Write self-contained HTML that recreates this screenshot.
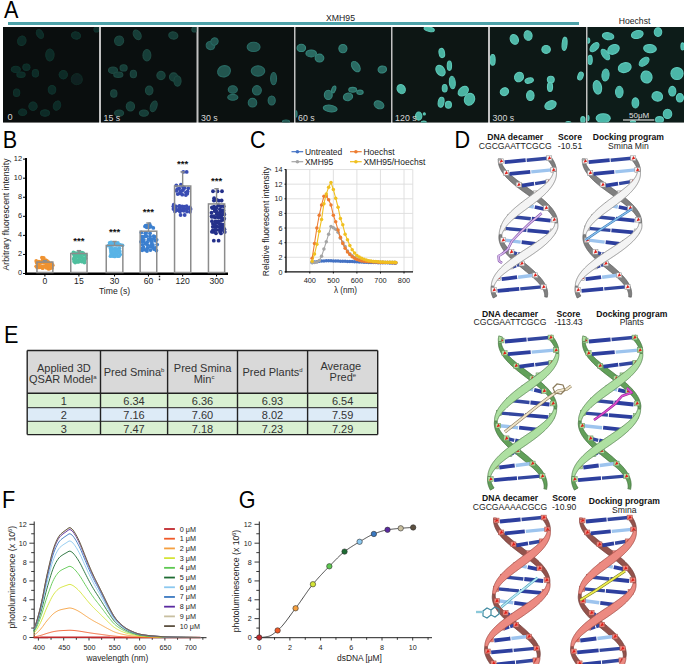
<!DOCTYPE html>
<html><head><meta charset="utf-8"><style>
html,body{margin:0;padding:0;background:#fff;}
svg{display:block;font-family:"Liberation Sans", sans-serif;}
</style></head><body>
<svg width="685" height="664" viewBox="0 0 685 664">
<rect width="685" height="664" fill="#fff"/>
<text transform="translate(4.00 17.70) scale(0.9 1)" font-size="24" fill="#000">A</text>
<rect x="8" y="22" width="571" height="3" fill="#4da2a9"/>
<text x="326.00" y="20.80" font-size="8.7" text-anchor="start" fill="#222" font-weight="normal" >XMH95</text>
<text x="618.80" y="24.40" font-size="8.6" text-anchor="start" fill="#222" font-weight="normal" >Hoechst</text>
<rect x="3" y="27" width="681" height="95.5" fill="#c2c2c2"/>
<rect x="3" y="27" width="96" height="95.5" fill="#0a0e0e"/>
<rect x="101" y="27" width="95.5" height="95.5" fill="#0a0f0f"/>
<rect x="198.5" y="27" width="95.5" height="95.5" fill="#0b1110"/>
<rect x="295.5" y="27" width="95.5" height="95.5" fill="#0c1413"/>
<rect x="392.5" y="27" width="95.5" height="95.5" fill="#0d1614"/>
<rect x="490" y="27" width="96" height="95.5" fill="#0d1816"/>
<rect x="587.5" y="27" width="96.5" height="95.5" fill="#0d1c19"/>
<defs><filter id="cb" x="-20%" y="-20%" width="140%" height="140%"><feGaussianBlur stdDeviation="0.7"/></filter>
<clipPath id="pc0"><rect x="3" y="27" width="96" height="95.5"/></clipPath>
<clipPath id="pc1"><rect x="101" y="27" width="95.5" height="95.5"/></clipPath>
<clipPath id="pc2"><rect x="198.5" y="27" width="95.5" height="95.5"/></clipPath>
<clipPath id="pc3"><rect x="295.5" y="27" width="95.5" height="95.5"/></clipPath>
<clipPath id="pc4"><rect x="392.5" y="27" width="95.5" height="95.5"/></clipPath>
<clipPath id="pc5"><rect x="490" y="27" width="96" height="95.5"/></clipPath>
<clipPath id="pc6"><rect x="587.5" y="27" width="96.5" height="95.5"/></clipPath>
</defs>
<g clip-path="url(#pc0)"><g filter="url(#cb)" fill="#0f2c27" stroke="#12322c" stroke-width="1.1">
<ellipse cx="21.8" cy="40.8" rx="4.15" ry="4.75" transform="rotate(20 21.8 40.8)" opacity="1"/>
<ellipse cx="39.9" cy="34" rx="3.15" ry="4.75" transform="rotate(-30 39.9 34)" opacity="1"/>
<ellipse cx="76" cy="35.5" rx="4.55" ry="3.55" transform="rotate(10 76 35.5)" opacity="1"/>
<ellipse cx="96.5" cy="29.5" rx="2.55" ry="2.55" transform="rotate(0 96.5 29.5)" opacity="1"/>
<ellipse cx="49.9" cy="54.9" rx="4.15" ry="5.95" transform="rotate(0 49.9 54.9)" opacity="1"/>
<ellipse cx="15.8" cy="69.4" rx="4.55" ry="3.15" transform="rotate(0 15.8 69.4)" opacity="1"/>
<ellipse cx="26.4" cy="67.2" rx="3.55" ry="3.15" transform="rotate(0 26.4 67.2)" opacity="1"/>
<ellipse cx="21" cy="74.7" rx="4.15" ry="2.65" transform="rotate(0 21 74.7)" opacity="1"/>
<ellipse cx="35.4" cy="73.2" rx="3.15" ry="3.75" transform="rotate(0 35.4 73.2)" opacity="1"/>
<ellipse cx="63.3" cy="74.7" rx="4.15" ry="4.15" transform="rotate(0 63.3 74.7)" opacity="1"/>
<ellipse cx="76.8" cy="79.2" rx="5.55" ry="5.55" transform="rotate(0 76.8 79.2)" opacity="0.7"/>
<ellipse cx="16.6" cy="92.8" rx="3.15" ry="3.75" transform="rotate(0 16.6 92.8)" opacity="1"/>
<ellipse cx="52" cy="89.8" rx="3.75" ry="4.35" transform="rotate(0 52 89.8)" opacity="1"/>
<ellipse cx="33" cy="106.3" rx="4.15" ry="4.15" transform="rotate(0 33 106.3)" opacity="1"/>
<ellipse cx="57" cy="105.6" rx="3.55" ry="4.75" transform="rotate(20 57 105.6)" opacity="1"/>
<ellipse cx="22.6" cy="112.3" rx="4.15" ry="3.15" transform="rotate(0 22.6 112.3)" opacity="1"/>
<ellipse cx="45" cy="113" rx="4.55" ry="3.15" transform="rotate(0 45 113)" opacity="1"/>
</g></g>
<g clip-path="url(#pc1)"><g filter="url(#cb)" fill="#183e37" stroke="#1d4841" stroke-width="1.1">
<ellipse cx="119.1" cy="40.8" rx="4.55" ry="4.75" transform="rotate(20 119.1 40.8)" opacity="1"/>
<ellipse cx="137.2" cy="34.8" rx="3.55" ry="5.15" transform="rotate(-30 137.2 34.8)" opacity="1"/>
<ellipse cx="173.3" cy="35.5" rx="4.55" ry="3.55" transform="rotate(10 173.3 35.5)" opacity="1"/>
<ellipse cx="194.4" cy="29.5" rx="2.55" ry="2.55" transform="rotate(0 194.4 29.5)" opacity="1"/>
<ellipse cx="146.9" cy="55.2" rx="3.95" ry="5.65" transform="rotate(0 146.9 55.2)" opacity="1"/>
<ellipse cx="113" cy="70.2" rx="4.55" ry="3.15" transform="rotate(0 113 70.2)" opacity="1"/>
<ellipse cx="123.6" cy="67.9" rx="3.55" ry="3.15" transform="rotate(0 123.6 67.9)" opacity="1"/>
<ellipse cx="118.3" cy="74.7" rx="4.55" ry="2.65" transform="rotate(0 118.3 74.7)" opacity="1"/>
<ellipse cx="133.4" cy="74" rx="3.15" ry="3.75" transform="rotate(0 133.4 74)" opacity="1"/>
<ellipse cx="161" cy="75.5" rx="4.15" ry="4.15" transform="rotate(0 161 75.5)" opacity="1"/>
<ellipse cx="173.6" cy="77" rx="4.15" ry="4.15" transform="rotate(0 173.6 77)" opacity="1"/>
<ellipse cx="177.5" cy="81" rx="3.55" ry="5.15" transform="rotate(0 177.5 81)" opacity="1"/>
<ellipse cx="113.8" cy="93.5" rx="3.15" ry="3.75" transform="rotate(0 113.8 93.5)" opacity="1"/>
<ellipse cx="149.2" cy="90.5" rx="3.75" ry="4.35" transform="rotate(0 149.2 90.5)" opacity="1"/>
<ellipse cx="130.4" cy="106.3" rx="4.15" ry="4.55" transform="rotate(0 130.4 106.3)" opacity="1"/>
<ellipse cx="153.7" cy="106.3" rx="3.15" ry="5.55" transform="rotate(20 153.7 106.3)" opacity="1"/>
<ellipse cx="119.1" cy="113.1" rx="4.55" ry="3.15" transform="rotate(0 119.1 113.1)" opacity="1"/>
<ellipse cx="143.9" cy="113.1" rx="4.55" ry="3.15" transform="rotate(0 143.9 113.1)" opacity="1"/>
</g></g>
<g clip-path="url(#pc2)"><g filter="url(#cb)" fill="#215550" stroke="#296a63" stroke-width="1.1">
<ellipse cx="210.5" cy="45.5" rx="4.35" ry="4.15" transform="rotate(30 210.5 45.5)" opacity="1"/>
<ellipse cx="214.5" cy="41.5" rx="3.55" ry="3.75" transform="rotate(30 214.5 41.5)" opacity="1"/>
<ellipse cx="253.6" cy="46.9" rx="6.45" ry="4.65" transform="rotate(0 253.6 46.9)" opacity="1"/>
<ellipse cx="224" cy="71.3" rx="6.55" ry="5.55" transform="rotate(-20 224 71.3)" opacity="1"/>
<ellipse cx="258" cy="71" rx="6.75" ry="5.15" transform="rotate(0 258 71)" opacity="1"/>
<ellipse cx="273.6" cy="78.6" rx="2.95" ry="6.15" transform="rotate(0 273.6 78.6)" opacity="1"/>
<ellipse cx="232.8" cy="89.5" rx="4.55" ry="3.75" transform="rotate(0 232.8 89.5)" opacity="1"/>
<ellipse cx="232.8" cy="97.3" rx="5.05" ry="2.95" transform="rotate(0 232.8 97.3)" opacity="1"/>
<ellipse cx="256.9" cy="90.3" rx="4.45" ry="4.65" transform="rotate(0 256.9 90.3)" opacity="1"/>
<ellipse cx="252.5" cy="102.7" rx="4.25" ry="4.35" transform="rotate(0 252.5 102.7)" opacity="1"/>
<ellipse cx="271.7" cy="100.5" rx="3.55" ry="4.45" transform="rotate(0 271.7 100.5)" opacity="1"/>
<ellipse cx="286" cy="121.5" rx="3.55" ry="1.55" transform="rotate(0 286 121.5)" opacity="1"/>
</g></g>
<g clip-path="url(#pc3)"><g filter="url(#cb)" fill="#2b6b62" stroke="#35847a" stroke-width="1.1">
<ellipse cx="301.3" cy="47.9" rx="4.25" ry="3.65" transform="rotate(0 301.3 47.9)" opacity="1"/>
<ellipse cx="311.2" cy="53.4" rx="5.25" ry="3.45" transform="rotate(0 311.2 53.4)" opacity="1"/>
<ellipse cx="319.5" cy="58.1" rx="4.35" ry="3.95" transform="rotate(0 319.5 58.1)" opacity="1"/>
<ellipse cx="342.9" cy="48.6" rx="4.05" ry="4.15" transform="rotate(0 342.9 48.6)" opacity="1"/>
<ellipse cx="355.8" cy="66.6" rx="3.55" ry="5.75" transform="rotate(-35 355.8 66.6)" opacity="1"/>
<ellipse cx="382.3" cy="69.5" rx="4.25" ry="3.45" transform="rotate(-10 382.3 69.5)" opacity="1"/>
<ellipse cx="333.7" cy="89.4" rx="1.85" ry="3.55" transform="rotate(20 333.7 89.4)" opacity="1"/>
<ellipse cx="328.3" cy="94.9" rx="3.95" ry="4.65" transform="rotate(0 328.3 94.9)" opacity="1"/>
<ellipse cx="352.7" cy="89.8" rx="3.95" ry="2.45" transform="rotate(0 352.7 89.8)" opacity="1"/>
<ellipse cx="360" cy="92.3" rx="3.15" ry="2.15" transform="rotate(0 360 92.3)" opacity="1"/>
<ellipse cx="348" cy="96.8" rx="4.65" ry="3.75" transform="rotate(-15 348 96.8)" opacity="1"/>
<ellipse cx="379" cy="104.8" rx="5.05" ry="3.75" transform="rotate(25 379 104.8)" opacity="1"/>
<ellipse cx="330.2" cy="108.5" rx="6.95" ry="3.35" transform="rotate(8 330.2 108.5)" opacity="1"/>
<ellipse cx="296" cy="113.9" rx="1.05" ry="3.05" transform="rotate(0 296 113.9)" opacity="1"/>
</g></g>
<g clip-path="url(#pc4)"><g filter="url(#cb)" fill="#4bb3a2" stroke="#5cc6b5" stroke-width="1.1">
<ellipse cx="429.2" cy="29.2" rx="5.25" ry="2.15" transform="rotate(15 429.2 29.2)" opacity="1"/>
<ellipse cx="441.8" cy="53" rx="2.75" ry="4.65" transform="rotate(-10 441.8 53)" opacity="1"/>
<ellipse cx="449.4" cy="65.7" rx="2.15" ry="4.65" transform="rotate(0 449.4 65.7)" opacity="1"/>
<ellipse cx="440.5" cy="70.6" rx="4.05" ry="5.75" transform="rotate(-35 440.5 70.6)" opacity="1"/>
<ellipse cx="452.3" cy="82.5" rx="2.95" ry="6.25" transform="rotate(-5 452.3 82.5)" opacity="1"/>
<ellipse cx="444.7" cy="88.3" rx="2.45" ry="3.75" transform="rotate(0 444.7 88.3)" opacity="1"/>
<ellipse cx="401.2" cy="89.1" rx="3.95" ry="4.65" transform="rotate(-30 401.2 89.1)" opacity="1"/>
<ellipse cx="463.3" cy="91.2" rx="5.75" ry="4.05" transform="rotate(-40 463.3 91.2)" opacity="1"/>
<ellipse cx="469.5" cy="99.3" rx="5.05" ry="6.05" transform="rotate(20 469.5 99.3)" opacity="1"/>
<ellipse cx="441.1" cy="102.2" rx="2.85" ry="5.05" transform="rotate(10 441.1 102.2)" opacity="1"/>
<ellipse cx="448.4" cy="104.8" rx="3.05" ry="3.45" transform="rotate(0 448.4 104.8)" opacity="1"/>
<ellipse cx="418.7" cy="116.1" rx="3.15" ry="4.05" transform="rotate(0 418.7 116.1)" opacity="1"/>
<ellipse cx="424.3" cy="113.9" rx="1.05" ry="1.05" transform="rotate(0 424.3 113.9)" opacity="1"/>
<ellipse cx="423.8" cy="122.5" rx="2.55" ry="1.55" transform="rotate(0 423.8 122.5)" opacity="1"/>
</g></g>
<g clip-path="url(#pc5)"><g filter="url(#cb)" fill="#50b8a8" stroke="#62ccbc" stroke-width="1.1">
<ellipse cx="514.3" cy="39.4" rx="3.95" ry="5.05" transform="rotate(-25 514.3 39.4)" opacity="1"/>
<ellipse cx="528.1" cy="35.5" rx="3.95" ry="4.85" transform="rotate(-15 528.1 35.5)" opacity="1"/>
<ellipse cx="564.6" cy="43.8" rx="2.45" ry="6.65" transform="rotate(5 564.6 43.8)" opacity="1"/>
<ellipse cx="546.1" cy="49.4" rx="4.25" ry="3.95" transform="rotate(0 546.1 49.4)" opacity="1"/>
<ellipse cx="492.7" cy="59.9" rx="2.45" ry="5.35" transform="rotate(0 492.7 59.9)" opacity="1"/>
<ellipse cx="519" cy="77" rx="4.35" ry="4.85" transform="rotate(30 519 77)" opacity="1"/>
<ellipse cx="529.2" cy="80.6" rx="4.25" ry="2.55" transform="rotate(-15 529.2 80.6)" opacity="1"/>
<ellipse cx="550.8" cy="79.6" rx="3.45" ry="3.35" transform="rotate(0 550.8 79.6)" opacity="1"/>
<ellipse cx="550" cy="86.9" rx="2.55" ry="4.55" transform="rotate(0 550 86.9)" opacity="1"/>
<ellipse cx="580.5" cy="76" rx="2.55" ry="4.05" transform="rotate(20 580.5 76)" opacity="1"/>
<ellipse cx="504.4" cy="91.7" rx="4.25" ry="3.75" transform="rotate(-30 504.4 91.7)" opacity="1"/>
<ellipse cx="530.3" cy="95.6" rx="3.75" ry="4.95" transform="rotate(0 530.3 95.6)" opacity="1"/>
<ellipse cx="550.5" cy="105.1" rx="5.95" ry="4.05" transform="rotate(-25 550.5 105.1)" opacity="1"/>
<ellipse cx="568.3" cy="122.5" rx="2.55" ry="1.05" transform="rotate(0 568.3 122.5)" opacity="1"/>
<ellipse cx="582.9" cy="119.7" rx="2.15" ry="3.05" transform="rotate(0 582.9 119.7)" opacity="1"/>
</g></g>
<g clip-path="url(#pc6)"><g filter="url(#cb)" fill="#4cb6a8" stroke="#5ecabc" stroke-width="1.1">
<ellipse cx="608.1" cy="36.2" rx="5.75" ry="3.45" transform="rotate(10 608.1 36.2)" opacity="1"/>
<ellipse cx="637.3" cy="34.5" rx="5.95" ry="3.85" transform="rotate(-15 637.3 34.5)" opacity="1"/>
<ellipse cx="658" cy="32.1" rx="3.75" ry="4.35" transform="rotate(0 658 32.1)" opacity="1"/>
<ellipse cx="588.2" cy="40.6" rx="1.55" ry="2.55" transform="rotate(0 588.2 40.6)" opacity="1"/>
<ellipse cx="594.5" cy="47.2" rx="5.55" ry="3.15" transform="rotate(-45 594.5 47.2)" opacity="1"/>
<ellipse cx="613.5" cy="49.4" rx="6.05" ry="4.55" transform="rotate(-30 613.5 49.4)" opacity="1"/>
<ellipse cx="605.4" cy="54.5" rx="6.05" ry="3.05" transform="rotate(55 605.4 54.5)" opacity="1"/>
<ellipse cx="650" cy="48.6" rx="6.35" ry="4.05" transform="rotate(5 650 48.6)" opacity="1"/>
<ellipse cx="682.5" cy="46.4" rx="1.55" ry="3.55" transform="rotate(0 682.5 46.4)" opacity="1"/>
<ellipse cx="590.1" cy="59.9" rx="2.15" ry="4.55" transform="rotate(0 590.1 59.9)" opacity="1"/>
<ellipse cx="644.1" cy="61.8" rx="5.75" ry="3.35" transform="rotate(-40 644.1 61.8)" opacity="1"/>
<ellipse cx="624.7" cy="67.6" rx="6.55" ry="4.85" transform="rotate(-15 624.7 67.6)" opacity="1"/>
<ellipse cx="677" cy="73.5" rx="6.05" ry="6.05" transform="rotate(0 677 73.5)" opacity="1"/>
<ellipse cx="605.5" cy="75" rx="3.55" ry="6.05" transform="rotate(5 605.5 75)" opacity="1"/>
<ellipse cx="646.5" cy="77" rx="5.55" ry="6.05" transform="rotate(-15 646.5 77)" opacity="1"/>
<ellipse cx="597.4" cy="87.3" rx="4.15" ry="6.85" transform="rotate(-10 597.4 87.3)" opacity="1"/>
<ellipse cx="619.3" cy="92" rx="3.75" ry="5.75" transform="rotate(0 619.3 92)" opacity="1"/>
<ellipse cx="672.3" cy="91.2" rx="3.55" ry="4.85" transform="rotate(0 672.3 91.2)" opacity="1"/>
<ellipse cx="679.9" cy="97.8" rx="3.55" ry="4.25" transform="rotate(0 679.9 97.8)" opacity="1"/>
<ellipse cx="657.3" cy="96.4" rx="5.35" ry="4.65" transform="rotate(20 657.3 96.4)" opacity="1"/>
<ellipse cx="635.4" cy="102.9" rx="3.35" ry="5.05" transform="rotate(0 635.4 102.9)" opacity="1"/>
<ellipse cx="667.5" cy="113.9" rx="4.25" ry="4.65" transform="rotate(0 667.5 113.9)" opacity="1"/>
<ellipse cx="603.2" cy="118.3" rx="7.05" ry="4.55" transform="rotate(0 603.2 118.3)" opacity="1"/>
<ellipse cx="659.5" cy="119.7" rx="3.95" ry="3.05" transform="rotate(0 659.5 119.7)" opacity="1"/>
<ellipse cx="633" cy="121.5" rx="2.55" ry="1.05" transform="rotate(0 633 121.5)" opacity="1"/>
<ellipse cx="588" cy="118" rx="1.05" ry="2.55" transform="rotate(0 588 118)" opacity="1"/>
</g></g>
<text x="7.50" y="120.30" font-size="9.2" text-anchor="start" fill="#d8d8d8" font-weight="normal" >0</text>
<text x="103.60" y="120.90" font-size="8.8" text-anchor="start" fill="#d8d8d8" font-weight="normal" >15 s</text>
<text x="201.10" y="120.90" font-size="8.8" text-anchor="start" fill="#d8d8d8" font-weight="normal" >30 s</text>
<text x="298.10" y="120.90" font-size="8.8" text-anchor="start" fill="#d8d8d8" font-weight="normal" >60 s</text>
<text x="395.10" y="120.90" font-size="8.8" text-anchor="start" fill="#d8d8d8" font-weight="normal" >120 s</text>
<text x="492.60" y="120.90" font-size="8.8" text-anchor="start" fill="#d8d8d8" font-weight="normal" >300 s</text>
<text x="639.20" y="117.50" font-size="8" text-anchor="middle" fill="#e0e0e0" font-weight="normal" >50μM</text>
<rect x="623" y="119.4" width="31.3" height="1.2" fill="#d8d8d8"/>
<text transform="translate(2.70 147.90) scale(0.9 1)" font-size="24" fill="#000">B</text>
<line x1="26" y1="158" x2="26" y2="274.8" stroke="#000" stroke-width="2"/>
<line x1="23" y1="273.50" x2="26" y2="273.50" stroke="#000" stroke-width="1"/>
<text x="22.00" y="275.10" font-size="7.4" text-anchor="end" fill="#222" font-weight="normal" >0</text>
<line x1="23" y1="254.44" x2="26" y2="254.44" stroke="#000" stroke-width="1"/>
<text x="22.00" y="256.04" font-size="7.4" text-anchor="end" fill="#222" font-weight="normal" >2</text>
<line x1="23" y1="235.38" x2="26" y2="235.38" stroke="#000" stroke-width="1"/>
<text x="22.00" y="236.98" font-size="7.4" text-anchor="end" fill="#222" font-weight="normal" >4</text>
<line x1="23" y1="216.32" x2="26" y2="216.32" stroke="#000" stroke-width="1"/>
<text x="22.00" y="217.92" font-size="7.4" text-anchor="end" fill="#222" font-weight="normal" >6</text>
<line x1="23" y1="197.26" x2="26" y2="197.26" stroke="#000" stroke-width="1"/>
<text x="22.00" y="198.86" font-size="7.4" text-anchor="end" fill="#222" font-weight="normal" >8</text>
<line x1="23" y1="178.20" x2="26" y2="178.20" stroke="#000" stroke-width="1"/>
<text x="22.00" y="179.80" font-size="7.4" text-anchor="end" fill="#222" font-weight="normal" >10</text>
<line x1="23" y1="159.14" x2="26" y2="159.14" stroke="#000" stroke-width="1"/>
<text x="22.00" y="160.74" font-size="7.4" text-anchor="end" fill="#222" font-weight="normal" >12</text>
<line x1="25" y1="273.75" x2="228" y2="273.75" stroke="#000" stroke-width="2.3"/>
<text transform="translate(8.6 214.5) rotate(-90)" font-size="8.7" text-anchor="middle" fill="#222">Arbitrary fluorescent intensity</text>
<circle cx="37.27" cy="267.64" r="1.9" fill="#ef9230"/>
<circle cx="39.69" cy="267.28" r="1.9" fill="#ef9230"/>
<circle cx="41.72" cy="267.32" r="1.9" fill="#ef9230"/>
<circle cx="42.64" cy="268.14" r="1.9" fill="#ef9230"/>
<circle cx="46.32" cy="267.81" r="1.9" fill="#ef9230"/>
<circle cx="48.37" cy="268.78" r="1.9" fill="#ef9230"/>
<circle cx="49.76" cy="268.54" r="1.9" fill="#ef9230"/>
<circle cx="52.01" cy="267.95" r="1.9" fill="#ef9230"/>
<circle cx="36.23" cy="266.33" r="1.9" fill="#ef9230"/>
<circle cx="38.81" cy="265.06" r="1.9" fill="#ef9230"/>
<circle cx="41.76" cy="266.43" r="1.9" fill="#ef9230"/>
<circle cx="43.94" cy="266.47" r="1.9" fill="#ef9230"/>
<circle cx="45.76" cy="266.49" r="1.9" fill="#ef9230"/>
<circle cx="46.84" cy="265.14" r="1.9" fill="#ef9230"/>
<circle cx="49.32" cy="266.33" r="1.9" fill="#ef9230"/>
<circle cx="52.76" cy="265.14" r="1.9" fill="#ef9230"/>
<circle cx="36.70" cy="262.72" r="1.9" fill="#ef9230"/>
<circle cx="39.25" cy="263.23" r="1.9" fill="#ef9230"/>
<circle cx="40.81" cy="262.75" r="1.9" fill="#ef9230"/>
<circle cx="43.76" cy="262.71" r="1.9" fill="#ef9230"/>
<circle cx="46.23" cy="263.92" r="1.9" fill="#ef9230"/>
<circle cx="47.45" cy="264.16" r="1.9" fill="#ef9230"/>
<circle cx="49.21" cy="264.34" r="1.9" fill="#ef9230"/>
<circle cx="51.60" cy="263.37" r="1.9" fill="#ef9230"/>
<circle cx="36.22" cy="260.97" r="1.9" fill="#ef9230"/>
<circle cx="38.91" cy="261.63" r="1.9" fill="#ef9230"/>
<circle cx="41.85" cy="261.32" r="1.9" fill="#ef9230"/>
<circle cx="43.12" cy="261.32" r="1.9" fill="#ef9230"/>
<circle cx="45.91" cy="262.09" r="1.9" fill="#ef9230"/>
<circle cx="48.50" cy="262.15" r="1.9" fill="#ef9230"/>
<circle cx="42.72" cy="259.63" r="1.9" fill="#ef9230"/>
<circle cx="43.45" cy="259.72" r="1.9" fill="#ef9230"/>
<circle cx="45.69" cy="260.04" r="1.9" fill="#ef9230"/>
<circle cx="46.94" cy="260.85" r="1.9" fill="#ef9230"/>
<circle cx="41.93" cy="257.56" r="1.9" fill="#ef9230"/>
<circle cx="43.70" cy="257.86" r="1.9" fill="#ef9230"/>
<rect x="36.95" y="262.06" width="15.899999999999999" height="10.44" fill="none" stroke="#8c8c8c" stroke-width="1.5"/>
<line x1="44.900000000000006" y1="262.06" x2="44.900000000000006" y2="260.63" stroke="#8c8c8c" stroke-width="1.4"/>
<line x1="42.7" y1="260.63" x2="47.10000000000001" y2="260.63" stroke="#8c8c8c" stroke-width="1.4"/>
<text x="44.90" y="284.00" font-size="8.6" text-anchor="middle" fill="#222" font-weight="normal" >0</text>
<line x1="44.900000000000006" y1="274.5" x2="44.900000000000006" y2="276.5" stroke="#000" stroke-width="1"/>
<circle cx="74.13" cy="261.46" r="1.9" fill="#4fbf9e"/>
<circle cx="75.15" cy="262.58" r="1.9" fill="#4fbf9e"/>
<circle cx="77.36" cy="261.78" r="1.9" fill="#4fbf9e"/>
<circle cx="78.65" cy="261.83" r="1.9" fill="#4fbf9e"/>
<circle cx="81.64" cy="261.62" r="1.9" fill="#4fbf9e"/>
<circle cx="82.39" cy="261.45" r="1.9" fill="#4fbf9e"/>
<circle cx="84.40" cy="262.61" r="1.9" fill="#4fbf9e"/>
<circle cx="73.64" cy="259.12" r="1.9" fill="#4fbf9e"/>
<circle cx="75.15" cy="259.11" r="1.9" fill="#4fbf9e"/>
<circle cx="77.39" cy="260.28" r="1.9" fill="#4fbf9e"/>
<circle cx="78.97" cy="260.53" r="1.9" fill="#4fbf9e"/>
<circle cx="80.53" cy="260.59" r="1.9" fill="#4fbf9e"/>
<circle cx="83.40" cy="258.97" r="1.9" fill="#4fbf9e"/>
<circle cx="84.51" cy="260.78" r="1.9" fill="#4fbf9e"/>
<circle cx="74.22" cy="257.47" r="1.9" fill="#4fbf9e"/>
<circle cx="75.25" cy="258.04" r="1.9" fill="#4fbf9e"/>
<circle cx="77.47" cy="256.92" r="1.9" fill="#4fbf9e"/>
<circle cx="79.18" cy="257.69" r="1.9" fill="#4fbf9e"/>
<circle cx="80.49" cy="256.74" r="1.9" fill="#4fbf9e"/>
<circle cx="82.39" cy="257.55" r="1.9" fill="#4fbf9e"/>
<circle cx="85.56" cy="258.24" r="1.9" fill="#4fbf9e"/>
<circle cx="73.82" cy="254.30" r="1.9" fill="#4fbf9e"/>
<circle cx="75.59" cy="254.61" r="1.9" fill="#4fbf9e"/>
<circle cx="76.71" cy="255.28" r="1.9" fill="#4fbf9e"/>
<circle cx="78.71" cy="254.50" r="1.9" fill="#4fbf9e"/>
<circle cx="80.86" cy="255.24" r="1.9" fill="#4fbf9e"/>
<circle cx="83.88" cy="254.48" r="1.9" fill="#4fbf9e"/>
<circle cx="85.77" cy="255.24" r="1.9" fill="#4fbf9e"/>
<circle cx="73.45" cy="252.33" r="1.9" fill="#4fbf9e"/>
<circle cx="75.36" cy="253.17" r="1.9" fill="#4fbf9e"/>
<circle cx="77.17" cy="253.45" r="1.9" fill="#4fbf9e"/>
<circle cx="79.06" cy="251.84" r="1.9" fill="#4fbf9e"/>
<circle cx="81.89" cy="252.53" r="1.9" fill="#4fbf9e"/>
<circle cx="83.11" cy="253.08" r="1.9" fill="#4fbf9e"/>
<rect x="70.75" y="253.49" width="16.299999999999997" height="19.01" fill="none" stroke="#8c8c8c" stroke-width="1.5"/>
<line x1="78.9" y1="253.49" x2="78.9" y2="250.63" stroke="#8c8c8c" stroke-width="1.4"/>
<line x1="76.7" y1="250.63" x2="81.10000000000001" y2="250.63" stroke="#8c8c8c" stroke-width="1.4"/>
<text x="78.90" y="284.00" font-size="8.6" text-anchor="middle" fill="#222" font-weight="normal" >15</text>
<line x1="78.9" y1="274.5" x2="78.9" y2="276.5" stroke="#000" stroke-width="1"/>
<text x="78.90" y="244.40" font-size="9.6" text-anchor="middle" fill="#111" font-weight="bold" >***</text>
<circle cx="108.39" cy="245.66" r="1.9" fill="#58b3e6"/>
<circle cx="111.94" cy="244.64" r="1.9" fill="#58b3e6"/>
<circle cx="113.46" cy="244.78" r="1.9" fill="#58b3e6"/>
<circle cx="116.50" cy="244.93" r="1.9" fill="#58b3e6"/>
<circle cx="118.59" cy="244.82" r="1.9" fill="#58b3e6"/>
<circle cx="120.32" cy="244.92" r="1.9" fill="#58b3e6"/>
<circle cx="122.46" cy="245.29" r="1.9" fill="#58b3e6"/>
<circle cx="109.64" cy="242.80" r="1.9" fill="#58b3e6"/>
<circle cx="111.05" cy="242.36" r="1.9" fill="#58b3e6"/>
<circle cx="113.99" cy="242.98" r="1.9" fill="#58b3e6"/>
<circle cx="115.11" cy="243.04" r="1.9" fill="#58b3e6"/>
<circle cx="117.83" cy="242.83" r="1.9" fill="#58b3e6"/>
<circle cx="110.53" cy="256.16" r="1.9" fill="#58b3e6"/>
<circle cx="113.06" cy="256.19" r="1.9" fill="#58b3e6"/>
<circle cx="114.73" cy="256.46" r="1.9" fill="#58b3e6"/>
<circle cx="117.62" cy="256.14" r="1.9" fill="#58b3e6"/>
<circle cx="119.14" cy="256.12" r="1.9" fill="#58b3e6"/>
<circle cx="111.25" cy="254.24" r="1.9" fill="#58b3e6"/>
<circle cx="113.64" cy="253.78" r="1.9" fill="#58b3e6"/>
<circle cx="115.03" cy="254.51" r="1.9" fill="#58b3e6"/>
<circle cx="116.61" cy="253.98" r="1.9" fill="#58b3e6"/>
<circle cx="120.17" cy="254.60" r="1.9" fill="#58b3e6"/>
<circle cx="110.94" cy="252.04" r="1.9" fill="#58b3e6"/>
<circle cx="113.21" cy="252.98" r="1.9" fill="#58b3e6"/>
<circle cx="115.49" cy="252.28" r="1.9" fill="#58b3e6"/>
<circle cx="117.49" cy="252.55" r="1.9" fill="#58b3e6"/>
<circle cx="119.62" cy="251.94" r="1.9" fill="#58b3e6"/>
<circle cx="110.84" cy="249.89" r="1.9" fill="#58b3e6"/>
<circle cx="111.97" cy="250.85" r="1.9" fill="#58b3e6"/>
<circle cx="114.90" cy="250.01" r="1.9" fill="#58b3e6"/>
<circle cx="116.71" cy="249.95" r="1.9" fill="#58b3e6"/>
<circle cx="119.63" cy="251.06" r="1.9" fill="#58b3e6"/>
<circle cx="110.55" cy="248.60" r="1.9" fill="#58b3e6"/>
<circle cx="112.02" cy="248.76" r="1.9" fill="#58b3e6"/>
<circle cx="114.68" cy="248.67" r="1.9" fill="#58b3e6"/>
<circle cx="116.66" cy="248.92" r="1.9" fill="#58b3e6"/>
<circle cx="119.34" cy="248.33" r="1.9" fill="#58b3e6"/>
<circle cx="110.80" cy="245.83" r="1.9" fill="#58b3e6"/>
<rect x="106.25" y="245.48" width="16.599999999999994" height="27.02" fill="none" stroke="#8c8c8c" stroke-width="1.5"/>
<line x1="114.55" y1="245.48" x2="114.55" y2="241.48" stroke="#8c8c8c" stroke-width="1.4"/>
<line x1="112.35" y1="241.48" x2="116.75" y2="241.48" stroke="#8c8c8c" stroke-width="1.4"/>
<text x="114.55" y="284.00" font-size="8.6" text-anchor="middle" fill="#222" font-weight="normal" >30</text>
<line x1="114.55" y1="274.5" x2="114.55" y2="276.5" stroke="#000" stroke-width="1"/>
<text x="114.55" y="235.40" font-size="9.6" text-anchor="middle" fill="#111" font-weight="bold" >***</text>
<circle cx="145.08" cy="226.47" r="1.9" fill="#3b7fcf"/>
<circle cx="146.70" cy="227.32" r="1.9" fill="#3b7fcf"/>
<circle cx="149.15" cy="227.31" r="1.9" fill="#3b7fcf"/>
<circle cx="150.88" cy="226.59" r="1.9" fill="#3b7fcf"/>
<circle cx="153.30" cy="227.96" r="1.9" fill="#3b7fcf"/>
<circle cx="145.68" cy="225.71" r="1.9" fill="#3b7fcf"/>
<circle cx="147.57" cy="225.29" r="1.9" fill="#3b7fcf"/>
<circle cx="149.63" cy="224.23" r="1.9" fill="#3b7fcf"/>
<circle cx="142.20" cy="250.37" r="1.9" fill="#3b7fcf"/>
<circle cx="145.11" cy="249.87" r="1.9" fill="#3b7fcf"/>
<circle cx="146.99" cy="250.98" r="1.9" fill="#3b7fcf"/>
<circle cx="150.43" cy="250.04" r="1.9" fill="#3b7fcf"/>
<circle cx="154.19" cy="249.14" r="1.9" fill="#3b7fcf"/>
<circle cx="156.30" cy="250.52" r="1.9" fill="#3b7fcf"/>
<circle cx="142.38" cy="248.51" r="1.9" fill="#3b7fcf"/>
<circle cx="143.46" cy="247.25" r="1.9" fill="#3b7fcf"/>
<circle cx="147.56" cy="248.20" r="1.9" fill="#3b7fcf"/>
<circle cx="150.51" cy="246.52" r="1.9" fill="#3b7fcf"/>
<circle cx="152.84" cy="247.55" r="1.9" fill="#3b7fcf"/>
<circle cx="155.40" cy="247.86" r="1.9" fill="#3b7fcf"/>
<circle cx="142.56" cy="244.87" r="1.9" fill="#3b7fcf"/>
<circle cx="145.45" cy="243.68" r="1.9" fill="#3b7fcf"/>
<circle cx="147.52" cy="245.14" r="1.9" fill="#3b7fcf"/>
<circle cx="151.33" cy="244.61" r="1.9" fill="#3b7fcf"/>
<circle cx="152.93" cy="245.01" r="1.9" fill="#3b7fcf"/>
<circle cx="157.17" cy="244.62" r="1.9" fill="#3b7fcf"/>
<circle cx="140.96" cy="241.86" r="1.9" fill="#3b7fcf"/>
<circle cx="143.49" cy="241.54" r="1.9" fill="#3b7fcf"/>
<circle cx="147.16" cy="242.27" r="1.9" fill="#3b7fcf"/>
<circle cx="150.87" cy="241.08" r="1.9" fill="#3b7fcf"/>
<circle cx="151.99" cy="241.74" r="1.9" fill="#3b7fcf"/>
<circle cx="155.51" cy="240.84" r="1.9" fill="#3b7fcf"/>
<circle cx="142.12" cy="239.59" r="1.9" fill="#3b7fcf"/>
<circle cx="143.83" cy="239.79" r="1.9" fill="#3b7fcf"/>
<circle cx="148.43" cy="239.48" r="1.9" fill="#3b7fcf"/>
<circle cx="150.46" cy="239.08" r="1.9" fill="#3b7fcf"/>
<circle cx="153.46" cy="238.79" r="1.9" fill="#3b7fcf"/>
<circle cx="156.61" cy="239.87" r="1.9" fill="#3b7fcf"/>
<circle cx="142.07" cy="236.68" r="1.9" fill="#3b7fcf"/>
<circle cx="144.45" cy="236.60" r="1.9" fill="#3b7fcf"/>
<circle cx="146.82" cy="236.16" r="1.9" fill="#3b7fcf"/>
<circle cx="150.13" cy="236.54" r="1.9" fill="#3b7fcf"/>
<circle cx="153.70" cy="236.03" r="1.9" fill="#3b7fcf"/>
<circle cx="154.96" cy="236.78" r="1.9" fill="#3b7fcf"/>
<circle cx="141.35" cy="232.51" r="1.9" fill="#3b7fcf"/>
<circle cx="145.28" cy="233.34" r="1.9" fill="#3b7fcf"/>
<circle cx="146.16" cy="232.82" r="1.9" fill="#3b7fcf"/>
<circle cx="150.04" cy="233.27" r="1.9" fill="#3b7fcf"/>
<rect x="140.15" y="231.19" width="16.599999999999994" height="41.31" fill="none" stroke="#8c8c8c" stroke-width="1.5"/>
<line x1="148.45" y1="231.19" x2="148.45" y2="222.99" stroke="#8c8c8c" stroke-width="1.4"/>
<line x1="146.25" y1="222.99" x2="150.64999999999998" y2="222.99" stroke="#8c8c8c" stroke-width="1.4"/>
<text x="148.45" y="284.00" font-size="8.6" text-anchor="middle" fill="#222" font-weight="normal" >60</text>
<line x1="148.45" y1="274.5" x2="148.45" y2="276.5" stroke="#000" stroke-width="1"/>
<text x="148.45" y="215.30" font-size="9.6" text-anchor="middle" fill="#111" font-weight="bold" >***</text>
<circle cx="183.30" cy="171.91" r="1.9" fill="#3a4db3"/>
<circle cx="186.70" cy="171.91" r="1.9" fill="#3a4db3"/>
<circle cx="177.73" cy="194.10" r="1.9" fill="#3a4db3"/>
<circle cx="179.86" cy="193.46" r="1.9" fill="#3a4db3"/>
<circle cx="182.26" cy="194.65" r="1.9" fill="#3a4db3"/>
<circle cx="185.83" cy="195.10" r="1.9" fill="#3a4db3"/>
<circle cx="187.28" cy="193.65" r="1.9" fill="#3a4db3"/>
<circle cx="176.40" cy="190.77" r="1.9" fill="#3a4db3"/>
<circle cx="180.30" cy="191.70" r="1.9" fill="#3a4db3"/>
<circle cx="182.06" cy="190.90" r="1.9" fill="#3a4db3"/>
<circle cx="185.95" cy="192.36" r="1.9" fill="#3a4db3"/>
<circle cx="187.66" cy="191.43" r="1.9" fill="#3a4db3"/>
<circle cx="177.30" cy="189.07" r="1.9" fill="#3a4db3"/>
<circle cx="179.18" cy="188.49" r="1.9" fill="#3a4db3"/>
<circle cx="183.15" cy="189.67" r="1.9" fill="#3a4db3"/>
<circle cx="184.54" cy="187.95" r="1.9" fill="#3a4db3"/>
<circle cx="188.31" cy="188.31" r="1.9" fill="#3a4db3"/>
<circle cx="176.31" cy="185.31" r="1.9" fill="#3a4db3"/>
<circle cx="180.90" cy="184.68" r="1.9" fill="#3a4db3"/>
<circle cx="182.92" cy="186.86" r="1.9" fill="#3a4db3"/>
<circle cx="174.99" cy="211.44" r="1.9" fill="#3a4db3"/>
<circle cx="177.16" cy="210.18" r="1.9" fill="#3a4db3"/>
<circle cx="179.87" cy="211.59" r="1.9" fill="#3a4db3"/>
<circle cx="181.57" cy="210.24" r="1.9" fill="#3a4db3"/>
<circle cx="183.85" cy="210.77" r="1.9" fill="#3a4db3"/>
<circle cx="186.97" cy="211.54" r="1.9" fill="#3a4db3"/>
<circle cx="189.97" cy="211.74" r="1.9" fill="#3a4db3"/>
<circle cx="173.48" cy="209.02" r="1.9" fill="#3a4db3"/>
<circle cx="175.98" cy="209.57" r="1.9" fill="#3a4db3"/>
<circle cx="179.58" cy="208.40" r="1.9" fill="#3a4db3"/>
<circle cx="182.78" cy="209.44" r="1.9" fill="#3a4db3"/>
<circle cx="184.43" cy="209.13" r="1.9" fill="#3a4db3"/>
<circle cx="187.35" cy="208.83" r="1.9" fill="#3a4db3"/>
<circle cx="190.62" cy="209.03" r="1.9" fill="#3a4db3"/>
<circle cx="173.37" cy="206.33" r="1.9" fill="#3a4db3"/>
<circle cx="176.14" cy="206.45" r="1.9" fill="#3a4db3"/>
<circle cx="179.44" cy="205.97" r="1.9" fill="#3a4db3"/>
<circle cx="182.11" cy="206.46" r="1.9" fill="#3a4db3"/>
<circle cx="184.08" cy="206.58" r="1.9" fill="#3a4db3"/>
<circle cx="186.64" cy="206.24" r="1.9" fill="#3a4db3"/>
<circle cx="189.75" cy="207.30" r="1.9" fill="#3a4db3"/>
<circle cx="173.74" cy="204.75" r="1.9" fill="#3a4db3"/>
<circle cx="180.60" cy="214.99" r="1.9" fill="#3a4db3"/>
<circle cx="184.70" cy="214.99" r="1.9" fill="#3a4db3"/>
<rect x="174.55" y="186.01" width="16.19999999999999" height="86.49" fill="none" stroke="#8c8c8c" stroke-width="1.5"/>
<line x1="182.65" y1="186.01" x2="182.65" y2="171.91" stroke="#8c8c8c" stroke-width="1.4"/>
<line x1="180.45000000000002" y1="171.91" x2="184.85" y2="171.91" stroke="#8c8c8c" stroke-width="1.4"/>
<text x="182.65" y="284.00" font-size="8.6" text-anchor="middle" fill="#222" font-weight="normal" >120</text>
<line x1="182.65" y1="274.5" x2="182.65" y2="276.5" stroke="#000" stroke-width="1"/>
<text x="182.65" y="167.30" font-size="9.6" text-anchor="middle" fill="#111" font-weight="bold" >***</text>
<circle cx="213.00" cy="191.26" r="1.9" fill="#24308a"/>
<circle cx="217.50" cy="191.26" r="1.9" fill="#24308a"/>
<circle cx="222.00" cy="191.26" r="1.9" fill="#24308a"/>
<circle cx="213.88" cy="200.61" r="1.9" fill="#24308a"/>
<circle cx="215.84" cy="199.88" r="1.9" fill="#24308a"/>
<circle cx="216.84" cy="199.86" r="1.9" fill="#24308a"/>
<circle cx="218.85" cy="200.69" r="1.9" fill="#24308a"/>
<circle cx="221.65" cy="200.52" r="1.9" fill="#24308a"/>
<circle cx="214.10" cy="198.24" r="1.9" fill="#24308a"/>
<circle cx="211.84" cy="231.81" r="1.9" fill="#24308a"/>
<circle cx="213.62" cy="231.97" r="1.9" fill="#24308a"/>
<circle cx="216.00" cy="233.31" r="1.9" fill="#24308a"/>
<circle cx="220.01" cy="232.08" r="1.9" fill="#24308a"/>
<circle cx="220.98" cy="233.39" r="1.9" fill="#24308a"/>
<circle cx="224.72" cy="232.11" r="1.9" fill="#24308a"/>
<circle cx="212.77" cy="230.43" r="1.9" fill="#24308a"/>
<circle cx="214.73" cy="229.93" r="1.9" fill="#24308a"/>
<circle cx="216.34" cy="229.98" r="1.9" fill="#24308a"/>
<circle cx="219.38" cy="229.94" r="1.9" fill="#24308a"/>
<circle cx="221.29" cy="230.44" r="1.9" fill="#24308a"/>
<circle cx="224.45" cy="229.25" r="1.9" fill="#24308a"/>
<circle cx="212.74" cy="226.84" r="1.9" fill="#24308a"/>
<circle cx="215.16" cy="226.64" r="1.9" fill="#24308a"/>
<circle cx="217.01" cy="226.51" r="1.9" fill="#24308a"/>
<circle cx="219.61" cy="226.93" r="1.9" fill="#24308a"/>
<circle cx="220.75" cy="227.77" r="1.9" fill="#24308a"/>
<circle cx="223.28" cy="227.75" r="1.9" fill="#24308a"/>
<circle cx="212.89" cy="223.82" r="1.9" fill="#24308a"/>
<circle cx="214.99" cy="224.94" r="1.9" fill="#24308a"/>
<circle cx="216.78" cy="222.87" r="1.9" fill="#24308a"/>
<circle cx="219.39" cy="223.94" r="1.9" fill="#24308a"/>
<circle cx="221.44" cy="224.71" r="1.9" fill="#24308a"/>
<circle cx="223.19" cy="224.57" r="1.9" fill="#24308a"/>
<circle cx="211.93" cy="221.14" r="1.9" fill="#24308a"/>
<circle cx="215.21" cy="221.68" r="1.9" fill="#24308a"/>
<circle cx="216.37" cy="221.39" r="1.9" fill="#24308a"/>
<circle cx="218.53" cy="221.37" r="1.9" fill="#24308a"/>
<circle cx="221.01" cy="220.91" r="1.9" fill="#24308a"/>
<circle cx="222.96" cy="219.88" r="1.9" fill="#24308a"/>
<circle cx="211.92" cy="216.95" r="1.9" fill="#24308a"/>
<circle cx="214.85" cy="217.56" r="1.9" fill="#24308a"/>
<circle cx="216.78" cy="216.93" r="1.9" fill="#24308a"/>
<circle cx="218.45" cy="217.57" r="1.9" fill="#24308a"/>
<circle cx="221.11" cy="217.56" r="1.9" fill="#24308a"/>
<circle cx="224.26" cy="218.75" r="1.9" fill="#24308a"/>
<circle cx="211.61" cy="216.16" r="1.9" fill="#24308a"/>
<circle cx="214.00" cy="216.04" r="1.9" fill="#24308a"/>
<circle cx="216.65" cy="213.96" r="1.9" fill="#24308a"/>
<circle cx="218.91" cy="215.49" r="1.9" fill="#24308a"/>
<circle cx="221.44" cy="215.56" r="1.9" fill="#24308a"/>
<circle cx="224.27" cy="214.55" r="1.9" fill="#24308a"/>
<circle cx="211.54" cy="212.75" r="1.9" fill="#24308a"/>
<circle cx="214.82" cy="211.13" r="1.9" fill="#24308a"/>
<circle cx="217.11" cy="212.31" r="1.9" fill="#24308a"/>
<circle cx="220.05" cy="213.30" r="1.9" fill="#24308a"/>
<circle cx="220.68" cy="211.50" r="1.9" fill="#24308a"/>
<circle cx="223.67" cy="213.21" r="1.9" fill="#24308a"/>
<circle cx="212.26" cy="208.11" r="1.9" fill="#24308a"/>
<circle cx="214.54" cy="209.59" r="1.9" fill="#24308a"/>
<circle cx="216.08" cy="210.24" r="1.9" fill="#24308a"/>
<circle cx="219.91" cy="209.26" r="1.9" fill="#24308a"/>
<circle cx="222.31" cy="210.28" r="1.9" fill="#24308a"/>
<circle cx="223.35" cy="210.29" r="1.9" fill="#24308a"/>
<circle cx="211.97" cy="207.36" r="1.9" fill="#24308a"/>
<circle cx="214.04" cy="206.55" r="1.9" fill="#24308a"/>
<circle cx="216.47" cy="207.38" r="1.9" fill="#24308a"/>
<circle cx="218.30" cy="205.24" r="1.9" fill="#24308a"/>
<circle cx="220.90" cy="206.32" r="1.9" fill="#24308a"/>
<circle cx="223.65" cy="206.26" r="1.9" fill="#24308a"/>
<circle cx="213.80" cy="240.72" r="1.9" fill="#24308a"/>
<circle cx="218.60" cy="240.72" r="1.9" fill="#24308a"/>
<rect x="208.45" y="203.93" width="16.200000000000017" height="68.57" fill="none" stroke="#8c8c8c" stroke-width="1.5"/>
<line x1="216.55" y1="203.93" x2="216.55" y2="188.68" stroke="#8c8c8c" stroke-width="1.4"/>
<line x1="214.35000000000002" y1="188.68" x2="218.75" y2="188.68" stroke="#8c8c8c" stroke-width="1.4"/>
<text x="216.55" y="284.00" font-size="8.6" text-anchor="middle" fill="#222" font-weight="normal" >300</text>
<line x1="216.55" y1="274.5" x2="216.55" y2="276.5" stroke="#000" stroke-width="1"/>
<text x="216.55" y="184.10" font-size="9.6" text-anchor="middle" fill="#111" font-weight="bold" >***</text>
<text x="114.50" y="293.60" font-size="8.6" text-anchor="middle" fill="#222" font-weight="normal" >Time (s)</text>
<rect x="158.8" y="275.6" width="1.4" height="1.6" fill="#222"/><rect x="158.8" y="278.6" width="1.4" height="1.6" fill="#222"/>
<text transform="translate(249.90 147.80) scale(0.9 1)" font-size="24" fill="#000">C</text>
<line x1="309.80" y1="169.56" x2="309.80" y2="271.90" stroke="#dcdcdc" stroke-width="0.9"/>
<line x1="333.35" y1="169.56" x2="333.35" y2="271.90" stroke="#dcdcdc" stroke-width="0.9"/>
<line x1="356.90" y1="169.56" x2="356.90" y2="271.90" stroke="#dcdcdc" stroke-width="0.9"/>
<line x1="380.45" y1="169.56" x2="380.45" y2="271.90" stroke="#dcdcdc" stroke-width="0.9"/>
<line x1="404.00" y1="169.56" x2="404.00" y2="271.90" stroke="#dcdcdc" stroke-width="0.9"/>
<line x1="412.8" y1="169.56" x2="412.8" y2="271.90" stroke="#dcdcdc" stroke-width="0.9"/>
<line x1="286" y1="257.28" x2="412.8" y2="257.28" stroke="#dcdcdc" stroke-width="0.9"/>
<line x1="286" y1="242.66" x2="412.8" y2="242.66" stroke="#dcdcdc" stroke-width="0.9"/>
<line x1="286" y1="228.04" x2="412.8" y2="228.04" stroke="#dcdcdc" stroke-width="0.9"/>
<line x1="286" y1="213.42" x2="412.8" y2="213.42" stroke="#dcdcdc" stroke-width="0.9"/>
<line x1="286" y1="198.80" x2="412.8" y2="198.80" stroke="#dcdcdc" stroke-width="0.9"/>
<line x1="286" y1="184.18" x2="412.8" y2="184.18" stroke="#dcdcdc" stroke-width="0.9"/>
<line x1="286" y1="169.56" x2="412.8" y2="169.56" stroke="#dcdcdc" stroke-width="0.9"/>
<line x1="286" y1="169.26" x2="286" y2="272.60" stroke="#111" stroke-width="1.4"/>
<line x1="285.3" y1="271.90" x2="413" y2="271.90" stroke="#111" stroke-width="1.4"/>
<line x1="284.5" y1="271.90" x2="286" y2="271.90" stroke="#111" stroke-width="1"/>
<text x="282.40" y="274.50" font-size="7.2" text-anchor="end" fill="#222" font-weight="normal" >0</text>
<line x1="284.5" y1="257.28" x2="286" y2="257.28" stroke="#111" stroke-width="1"/>
<text x="282.40" y="259.88" font-size="7.2" text-anchor="end" fill="#222" font-weight="normal" >2</text>
<line x1="284.5" y1="242.66" x2="286" y2="242.66" stroke="#111" stroke-width="1"/>
<text x="282.40" y="245.26" font-size="7.2" text-anchor="end" fill="#222" font-weight="normal" >4</text>
<line x1="284.5" y1="228.04" x2="286" y2="228.04" stroke="#111" stroke-width="1"/>
<text x="282.40" y="230.64" font-size="7.2" text-anchor="end" fill="#222" font-weight="normal" >6</text>
<line x1="284.5" y1="213.42" x2="286" y2="213.42" stroke="#111" stroke-width="1"/>
<text x="282.40" y="216.02" font-size="7.2" text-anchor="end" fill="#222" font-weight="normal" >8</text>
<line x1="284.5" y1="198.80" x2="286" y2="198.80" stroke="#111" stroke-width="1"/>
<text x="282.40" y="201.40" font-size="7.2" text-anchor="end" fill="#222" font-weight="normal" >10</text>
<line x1="284.5" y1="184.18" x2="286" y2="184.18" stroke="#111" stroke-width="1"/>
<text x="282.40" y="186.78" font-size="7.2" text-anchor="end" fill="#222" font-weight="normal" >12</text>
<line x1="284.5" y1="169.56" x2="286" y2="169.56" stroke="#111" stroke-width="1"/>
<text x="282.40" y="172.16" font-size="7.2" text-anchor="end" fill="#222" font-weight="normal" >14</text>
<line x1="309.80" y1="271.90" x2="309.80" y2="273.50" stroke="#111" stroke-width="1"/>
<text x="309.80" y="283.40" font-size="7.4" text-anchor="middle" fill="#222" font-weight="normal" >400</text>
<line x1="333.35" y1="271.90" x2="333.35" y2="273.50" stroke="#111" stroke-width="1"/>
<text x="333.35" y="283.40" font-size="7.4" text-anchor="middle" fill="#222" font-weight="normal" >500</text>
<line x1="356.90" y1="271.90" x2="356.90" y2="273.50" stroke="#111" stroke-width="1"/>
<text x="356.90" y="283.40" font-size="7.4" text-anchor="middle" fill="#222" font-weight="normal" >600</text>
<line x1="380.45" y1="271.90" x2="380.45" y2="273.50" stroke="#111" stroke-width="1"/>
<text x="380.45" y="283.40" font-size="7.4" text-anchor="middle" fill="#222" font-weight="normal" >700</text>
<line x1="404.00" y1="271.90" x2="404.00" y2="273.50" stroke="#111" stroke-width="1"/>
<text x="404.00" y="283.40" font-size="7.4" text-anchor="middle" fill="#222" font-weight="normal" >800</text>
<text x="345.50" y="293.20" font-size="8.2" text-anchor="middle" fill="#222" font-weight="normal" >λ (nm)</text>
<text transform="translate(268.6 221.5) rotate(-90)" font-size="8.6" text-anchor="middle" fill="#222">Relative fluorescent intensity</text>
<path d="M312.16,262.40 L314.51,262.03 L316.87,261.67 L319.22,261.30 L321.57,260.94 L323.93,260.89 L326.29,260.84 L328.64,260.79 L331.00,260.86 L333.35,260.94 L335.70,261.01 L338.06,261.08 L340.42,261.15 L342.77,261.23 L345.12,261.30 L347.48,261.40 L349.84,261.51 L352.19,261.61 L354.55,261.71 L356.90,261.81 L359.25,261.93 L361.61,262.05 L363.97,262.16 L366.32,262.28 L368.68,262.40 L371.03,262.47 L373.38,262.54 L375.74,262.62 L378.10,262.69 L380.45,262.76 L382.81,262.80 L385.16,262.83 L387.51,262.86 L389.87,262.90 L392.23,262.93 L394.58,262.96 L395.76,262.98" fill="none" stroke="#4472c4" stroke-width="1.1"/>
<circle cx="312.16" cy="262.40" r="1.75" fill="#4472c4"/>
<circle cx="314.51" cy="262.03" r="1.75" fill="#4472c4"/>
<circle cx="316.87" cy="261.67" r="1.75" fill="#4472c4"/>
<circle cx="319.22" cy="261.30" r="1.75" fill="#4472c4"/>
<circle cx="321.57" cy="260.94" r="1.75" fill="#4472c4"/>
<circle cx="323.93" cy="260.89" r="1.75" fill="#4472c4"/>
<circle cx="326.29" cy="260.84" r="1.75" fill="#4472c4"/>
<circle cx="328.64" cy="260.79" r="1.75" fill="#4472c4"/>
<circle cx="331.00" cy="260.86" r="1.75" fill="#4472c4"/>
<circle cx="333.35" cy="260.94" r="1.75" fill="#4472c4"/>
<circle cx="335.70" cy="261.01" r="1.75" fill="#4472c4"/>
<circle cx="338.06" cy="261.08" r="1.75" fill="#4472c4"/>
<circle cx="340.42" cy="261.15" r="1.75" fill="#4472c4"/>
<circle cx="342.77" cy="261.23" r="1.75" fill="#4472c4"/>
<circle cx="345.12" cy="261.30" r="1.75" fill="#4472c4"/>
<circle cx="347.48" cy="261.40" r="1.75" fill="#4472c4"/>
<circle cx="349.84" cy="261.51" r="1.75" fill="#4472c4"/>
<circle cx="352.19" cy="261.61" r="1.75" fill="#4472c4"/>
<circle cx="354.55" cy="261.71" r="1.75" fill="#4472c4"/>
<circle cx="356.90" cy="261.81" r="1.75" fill="#4472c4"/>
<circle cx="359.25" cy="261.93" r="1.75" fill="#4472c4"/>
<circle cx="361.61" cy="262.05" r="1.75" fill="#4472c4"/>
<circle cx="363.97" cy="262.16" r="1.75" fill="#4472c4"/>
<circle cx="366.32" cy="262.28" r="1.75" fill="#4472c4"/>
<circle cx="368.68" cy="262.40" r="1.75" fill="#4472c4"/>
<circle cx="371.03" cy="262.47" r="1.75" fill="#4472c4"/>
<circle cx="373.38" cy="262.54" r="1.75" fill="#4472c4"/>
<circle cx="375.74" cy="262.62" r="1.75" fill="#4472c4"/>
<circle cx="378.10" cy="262.69" r="1.75" fill="#4472c4"/>
<circle cx="380.45" cy="262.76" r="1.75" fill="#4472c4"/>
<circle cx="382.81" cy="262.80" r="1.75" fill="#4472c4"/>
<circle cx="385.16" cy="262.83" r="1.75" fill="#4472c4"/>
<circle cx="387.51" cy="262.86" r="1.75" fill="#4472c4"/>
<circle cx="389.87" cy="262.90" r="1.75" fill="#4472c4"/>
<circle cx="392.23" cy="262.93" r="1.75" fill="#4472c4"/>
<circle cx="394.58" cy="262.96" r="1.75" fill="#4472c4"/>
<circle cx="395.76" cy="262.98" r="1.75" fill="#4472c4"/>
<path d="M312.16,262.69 L314.51,262.49 L316.87,261.98 L319.22,260.48 L321.57,256.37 L323.93,249.05 L326.29,241.65 L328.64,234.15 L331.00,226.60 L333.35,227.64 L335.70,229.21 L338.06,232.18 L340.42,238.13 L342.77,242.14 L345.12,246.59 L347.48,250.92 L349.84,253.80 L352.19,255.86 L354.55,257.47 L356.90,258.74 L359.25,259.47 L361.61,260.20 L363.97,260.57 L366.32,260.94 L368.68,261.30 L371.03,261.45 L373.38,261.59 L375.74,261.74 L378.10,261.89 L380.45,262.03 L382.81,262.09 L385.16,262.14 L387.51,262.20 L389.87,262.26 L392.23,262.31 L394.58,262.37 L395.76,262.40" fill="none" stroke="#a5a5a5" stroke-width="1.1"/>
<circle cx="312.16" cy="262.69" r="1.75" fill="#a5a5a5"/>
<circle cx="314.51" cy="262.49" r="1.75" fill="#a5a5a5"/>
<circle cx="316.87" cy="261.98" r="1.75" fill="#a5a5a5"/>
<circle cx="319.22" cy="260.48" r="1.75" fill="#a5a5a5"/>
<circle cx="321.57" cy="256.37" r="1.75" fill="#a5a5a5"/>
<circle cx="323.93" cy="249.05" r="1.75" fill="#a5a5a5"/>
<circle cx="326.29" cy="241.65" r="1.75" fill="#a5a5a5"/>
<circle cx="328.64" cy="234.15" r="1.75" fill="#a5a5a5"/>
<circle cx="331.00" cy="226.60" r="1.75" fill="#a5a5a5"/>
<circle cx="333.35" cy="227.64" r="1.75" fill="#a5a5a5"/>
<circle cx="335.70" cy="229.21" r="1.75" fill="#a5a5a5"/>
<circle cx="338.06" cy="232.18" r="1.75" fill="#a5a5a5"/>
<circle cx="340.42" cy="238.13" r="1.75" fill="#a5a5a5"/>
<circle cx="342.77" cy="242.14" r="1.75" fill="#a5a5a5"/>
<circle cx="345.12" cy="246.59" r="1.75" fill="#a5a5a5"/>
<circle cx="347.48" cy="250.92" r="1.75" fill="#a5a5a5"/>
<circle cx="349.84" cy="253.80" r="1.75" fill="#a5a5a5"/>
<circle cx="352.19" cy="255.86" r="1.75" fill="#a5a5a5"/>
<circle cx="354.55" cy="257.47" r="1.75" fill="#a5a5a5"/>
<circle cx="356.90" cy="258.74" r="1.75" fill="#a5a5a5"/>
<circle cx="359.25" cy="259.47" r="1.75" fill="#a5a5a5"/>
<circle cx="361.61" cy="260.20" r="1.75" fill="#a5a5a5"/>
<circle cx="363.97" cy="260.57" r="1.75" fill="#a5a5a5"/>
<circle cx="366.32" cy="260.94" r="1.75" fill="#a5a5a5"/>
<circle cx="368.68" cy="261.30" r="1.75" fill="#a5a5a5"/>
<circle cx="371.03" cy="261.45" r="1.75" fill="#a5a5a5"/>
<circle cx="373.38" cy="261.59" r="1.75" fill="#a5a5a5"/>
<circle cx="375.74" cy="261.74" r="1.75" fill="#a5a5a5"/>
<circle cx="378.10" cy="261.89" r="1.75" fill="#a5a5a5"/>
<circle cx="380.45" cy="262.03" r="1.75" fill="#a5a5a5"/>
<circle cx="382.81" cy="262.09" r="1.75" fill="#a5a5a5"/>
<circle cx="385.16" cy="262.14" r="1.75" fill="#a5a5a5"/>
<circle cx="387.51" cy="262.20" r="1.75" fill="#a5a5a5"/>
<circle cx="389.87" cy="262.26" r="1.75" fill="#a5a5a5"/>
<circle cx="392.23" cy="262.31" r="1.75" fill="#a5a5a5"/>
<circle cx="394.58" cy="262.37" r="1.75" fill="#a5a5a5"/>
<circle cx="395.76" cy="262.40" r="1.75" fill="#a5a5a5"/>
<path d="M312.16,258.23 L314.51,243.52 L316.87,228.02 L319.22,215.26 L321.57,204.94 L323.93,196.36 L326.29,195.88 L328.64,199.81 L331.00,204.96 L333.35,215.25 L335.70,221.86 L338.06,230.11 L340.42,237.27 L342.77,243.51 L345.12,248.31 L347.48,251.90 L349.84,254.60 L352.19,256.66 L354.55,258.25 L356.90,259.47 L359.25,260.20 L361.61,260.94 L363.97,261.18 L366.32,261.42 L368.68,261.67 L371.03,261.81 L373.38,261.96 L375.74,262.10 L378.10,262.25 L380.45,262.40 L382.81,262.45 L385.16,262.51 L387.51,262.57 L389.87,262.62 L392.23,262.68 L394.58,262.73 L395.76,262.76" fill="none" stroke="#ed7d31" stroke-width="1.1"/>
<circle cx="312.16" cy="258.23" r="1.75" fill="#ed7d31"/>
<circle cx="314.51" cy="243.52" r="1.75" fill="#ed7d31"/>
<circle cx="316.87" cy="228.02" r="1.75" fill="#ed7d31"/>
<circle cx="319.22" cy="215.26" r="1.75" fill="#ed7d31"/>
<circle cx="321.57" cy="204.94" r="1.75" fill="#ed7d31"/>
<circle cx="323.93" cy="196.36" r="1.75" fill="#ed7d31"/>
<circle cx="326.29" cy="195.88" r="1.75" fill="#ed7d31"/>
<circle cx="328.64" cy="199.81" r="1.75" fill="#ed7d31"/>
<circle cx="331.00" cy="204.96" r="1.75" fill="#ed7d31"/>
<circle cx="333.35" cy="215.25" r="1.75" fill="#ed7d31"/>
<circle cx="335.70" cy="221.86" r="1.75" fill="#ed7d31"/>
<circle cx="338.06" cy="230.11" r="1.75" fill="#ed7d31"/>
<circle cx="340.42" cy="237.27" r="1.75" fill="#ed7d31"/>
<circle cx="342.77" cy="243.51" r="1.75" fill="#ed7d31"/>
<circle cx="345.12" cy="248.31" r="1.75" fill="#ed7d31"/>
<circle cx="347.48" cy="251.90" r="1.75" fill="#ed7d31"/>
<circle cx="349.84" cy="254.60" r="1.75" fill="#ed7d31"/>
<circle cx="352.19" cy="256.66" r="1.75" fill="#ed7d31"/>
<circle cx="354.55" cy="258.25" r="1.75" fill="#ed7d31"/>
<circle cx="356.90" cy="259.47" r="1.75" fill="#ed7d31"/>
<circle cx="359.25" cy="260.20" r="1.75" fill="#ed7d31"/>
<circle cx="361.61" cy="260.94" r="1.75" fill="#ed7d31"/>
<circle cx="363.97" cy="261.18" r="1.75" fill="#ed7d31"/>
<circle cx="366.32" cy="261.42" r="1.75" fill="#ed7d31"/>
<circle cx="368.68" cy="261.67" r="1.75" fill="#ed7d31"/>
<circle cx="371.03" cy="261.81" r="1.75" fill="#ed7d31"/>
<circle cx="373.38" cy="261.96" r="1.75" fill="#ed7d31"/>
<circle cx="375.74" cy="262.10" r="1.75" fill="#ed7d31"/>
<circle cx="378.10" cy="262.25" r="1.75" fill="#ed7d31"/>
<circle cx="380.45" cy="262.40" r="1.75" fill="#ed7d31"/>
<circle cx="382.81" cy="262.45" r="1.75" fill="#ed7d31"/>
<circle cx="385.16" cy="262.51" r="1.75" fill="#ed7d31"/>
<circle cx="387.51" cy="262.57" r="1.75" fill="#ed7d31"/>
<circle cx="389.87" cy="262.62" r="1.75" fill="#ed7d31"/>
<circle cx="392.23" cy="262.68" r="1.75" fill="#ed7d31"/>
<circle cx="394.58" cy="262.73" r="1.75" fill="#ed7d31"/>
<circle cx="395.76" cy="262.76" r="1.75" fill="#ed7d31"/>
<path d="M312.16,261.30 L314.51,254.11 L316.87,244.34 L319.22,231.17 L321.57,219.40 L323.93,203.69 L326.29,193.90 L328.64,187.26 L331.00,182.45 L333.35,189.52 L335.70,198.14 L338.06,207.24 L340.42,218.62 L342.77,224.87 L345.12,234.18 L347.48,239.82 L349.84,245.58 L352.19,249.71 L354.55,252.88 L356.90,255.42 L359.25,257.11 L361.61,258.24 L363.97,259.22 L366.32,260.02 L368.68,260.67 L371.03,261.09 L373.38,261.40 L375.74,261.61 L378.10,261.81 L380.45,261.93 L382.81,262.06 L385.16,262.18 L387.51,262.23 L389.87,262.28 L392.23,262.32 L394.58,262.37 L395.76,262.40" fill="none" stroke="#f0c020" stroke-width="1.1"/>
<circle cx="312.16" cy="261.30" r="1.75" fill="#f0c020"/>
<circle cx="314.51" cy="254.11" r="1.75" fill="#f0c020"/>
<circle cx="316.87" cy="244.34" r="1.75" fill="#f0c020"/>
<circle cx="319.22" cy="231.17" r="1.75" fill="#f0c020"/>
<circle cx="321.57" cy="219.40" r="1.75" fill="#f0c020"/>
<circle cx="323.93" cy="203.69" r="1.75" fill="#f0c020"/>
<circle cx="326.29" cy="193.90" r="1.75" fill="#f0c020"/>
<circle cx="328.64" cy="187.26" r="1.75" fill="#f0c020"/>
<circle cx="331.00" cy="182.45" r="1.75" fill="#f0c020"/>
<circle cx="333.35" cy="189.52" r="1.75" fill="#f0c020"/>
<circle cx="335.70" cy="198.14" r="1.75" fill="#f0c020"/>
<circle cx="338.06" cy="207.24" r="1.75" fill="#f0c020"/>
<circle cx="340.42" cy="218.62" r="1.75" fill="#f0c020"/>
<circle cx="342.77" cy="224.87" r="1.75" fill="#f0c020"/>
<circle cx="345.12" cy="234.18" r="1.75" fill="#f0c020"/>
<circle cx="347.48" cy="239.82" r="1.75" fill="#f0c020"/>
<circle cx="349.84" cy="245.58" r="1.75" fill="#f0c020"/>
<circle cx="352.19" cy="249.71" r="1.75" fill="#f0c020"/>
<circle cx="354.55" cy="252.88" r="1.75" fill="#f0c020"/>
<circle cx="356.90" cy="255.42" r="1.75" fill="#f0c020"/>
<circle cx="359.25" cy="257.11" r="1.75" fill="#f0c020"/>
<circle cx="361.61" cy="258.24" r="1.75" fill="#f0c020"/>
<circle cx="363.97" cy="259.22" r="1.75" fill="#f0c020"/>
<circle cx="366.32" cy="260.02" r="1.75" fill="#f0c020"/>
<circle cx="368.68" cy="260.67" r="1.75" fill="#f0c020"/>
<circle cx="371.03" cy="261.09" r="1.75" fill="#f0c020"/>
<circle cx="373.38" cy="261.40" r="1.75" fill="#f0c020"/>
<circle cx="375.74" cy="261.61" r="1.75" fill="#f0c020"/>
<circle cx="378.10" cy="261.81" r="1.75" fill="#f0c020"/>
<circle cx="380.45" cy="261.93" r="1.75" fill="#f0c020"/>
<circle cx="382.81" cy="262.06" r="1.75" fill="#f0c020"/>
<circle cx="385.16" cy="262.18" r="1.75" fill="#f0c020"/>
<circle cx="387.51" cy="262.23" r="1.75" fill="#f0c020"/>
<circle cx="389.87" cy="262.28" r="1.75" fill="#f0c020"/>
<circle cx="392.23" cy="262.32" r="1.75" fill="#f0c020"/>
<circle cx="394.58" cy="262.37" r="1.75" fill="#f0c020"/>
<circle cx="395.76" cy="262.40" r="1.75" fill="#f0c020"/>
<line x1="291.5" y1="151.7" x2="303.2" y2="151.7" stroke="#4472c4" stroke-width="1.2"/><circle cx="297.4" cy="151.7" r="1.8" fill="#4472c4"/><text x="304.90" y="154.70" font-size="8.5" text-anchor="start" fill="#222" font-weight="normal" >Untreated</text>
<line x1="350" y1="151.7" x2="361.7" y2="151.7" stroke="#ed7d31" stroke-width="1.2"/><circle cx="355.9" cy="151.7" r="1.8" fill="#ed7d31"/><text x="363.40" y="154.70" font-size="8.5" text-anchor="start" fill="#222" font-weight="normal" >Hoechst</text>
<line x1="291.5" y1="161.7" x2="303.2" y2="161.7" stroke="#a5a5a5" stroke-width="1.2"/><circle cx="297.4" cy="161.7" r="1.8" fill="#a5a5a5"/><text x="304.90" y="164.70" font-size="8.5" text-anchor="start" fill="#222" font-weight="normal" >XMH95</text>
<line x1="350" y1="161.7" x2="361.7" y2="161.7" stroke="#f0c020" stroke-width="1.2"/><circle cx="355.9" cy="161.7" r="1.8" fill="#f0c020"/><text x="363.40" y="164.70" font-size="8.5" text-anchor="start" fill="#222" font-weight="normal" >XMH95/Hoechst</text>
<text transform="translate(454.40 147.90) scale(0.9 1)" font-size="24" fill="#000">D</text>
<text x="515.20" y="140.10" font-size="8.6" text-anchor="middle" fill="#111" font-weight="bold" >DNA decamer</text>
<text x="515.20" y="148.80" font-size="8.6" text-anchor="middle" fill="#222" font-weight="normal" >CGCGAATTCGCG</text>
<text x="570.00" y="140.10" font-size="8.6" text-anchor="middle" fill="#111" font-weight="bold" >Score</text>
<text x="570.00" y="148.80" font-size="8.6" text-anchor="middle" fill="#222" font-weight="normal" >-10.51</text>
<text x="628.40" y="140.10" font-size="8.6" text-anchor="middle" fill="#111" font-weight="bold" >Docking program</text>
<text x="628.40" y="148.80" font-size="8.6" text-anchor="middle" fill="#222" font-weight="normal" >Smina Min</text>
<text x="510.00" y="316.80" font-size="8.6" text-anchor="middle" fill="#111" font-weight="bold" >DNA decamer</text>
<text x="510.00" y="324.80" font-size="8.6" text-anchor="middle" fill="#222" font-weight="normal" >CGCGAATTCGCG</text>
<text x="568.40" y="316.80" font-size="8.6" text-anchor="middle" fill="#111" font-weight="bold" >Score</text>
<text x="568.40" y="324.80" font-size="8.6" text-anchor="middle" fill="#222" font-weight="normal" >-113.43</text>
<text x="631.80" y="316.80" font-size="8.6" text-anchor="middle" fill="#111" font-weight="bold" >Docking program</text>
<text x="631.80" y="324.80" font-size="8.6" text-anchor="middle" fill="#222" font-weight="normal" >Plants</text>
<text x="510.00" y="500.90" font-size="8.6" text-anchor="middle" fill="#111" font-weight="bold" >DNA decamer</text>
<text x="510.00" y="509.90" font-size="8.6" text-anchor="middle" fill="#222" font-weight="normal" >CGCGAAAACGCG</text>
<text x="564.20" y="500.90" font-size="8.6" text-anchor="middle" fill="#111" font-weight="bold" >Score</text>
<text x="564.20" y="509.90" font-size="8.6" text-anchor="middle" fill="#222" font-weight="normal" >-10.90</text>
<text x="624.30" y="503.70" font-size="8.6" text-anchor="middle" fill="#111" font-weight="bold" >Docking program</text>
<text x="624.30" y="512.70" font-size="8.6" text-anchor="middle" fill="#222" font-weight="normal" >Smina</text>
<path d="M498.31,160.06 L498.30,160.58 L498.30,161.13 L498.33,161.68 L498.37,162.24 L498.44,162.79 L498.52,163.35 L498.62,163.90 L498.74,164.46 L498.88,165.02 L499.03,165.57 L499.21,166.13 L499.40,166.69 L499.61,167.25 L499.84,167.81 L500.09,168.36 L500.35,168.92 L500.63,169.48 L500.93,170.03 L501.25,170.59 L501.58,171.14 L501.92,171.69 L502.28,172.24 L502.66,172.79 L503.05,173.34 L503.46,173.89 L503.88,174.43 L504.31,174.98 L504.76,175.52 L505.23,176.07 L505.70,176.61 L506.19,177.15 L506.69,177.69 L507.20,178.22 L507.73,178.76 L508.26,179.30 L508.81,179.83 L509.36,180.36 L509.93,180.89 L510.51,181.42 L511.10,181.95 L511.69,182.48 L512.30,183.01 L512.91,183.53 L513.54,184.06 L514.17,184.58 L514.80,185.10 L515.45,185.62 L516.10,186.14 L516.75,186.66 L517.42,187.17 L518.08,187.69 L518.76,188.20 L519.43,188.72 L520.12,189.23 L520.80,189.74 L521.49,190.25 L522.18,190.76 L522.87,191.26 L523.57,191.77 L524.27,192.27 L524.97,192.78 L525.67,193.28 L526.37,193.78 L527.06,194.28 L527.76,194.78 L528.46,195.27 L529.16,195.77 L529.85,196.26 L530.54,196.76 L531.23,197.25 L531.92,197.74 L532.60,198.23 L533.28,198.72 L533.96,199.20 L534.63,199.69 L535.29,200.17 L535.95,200.66 L536.61,201.14 L537.25,201.62 L537.90,202.10 L538.53,202.58 L539.15,203.06 L539.77,203.53 L540.38,204.01 L540.98,204.48 L541.58,204.95 L542.16,205.42 L542.73,205.89 L543.30,206.36 L543.85,206.83 L544.39,207.30 L544.92,207.76 L545.44,208.22 L545.95,208.69 L546.45,209.15 L546.93,209.61 L547.41,210.07 L547.87,210.52 L548.32,210.98 L548.75,211.43 L549.17,211.89 L549.58,212.34 L549.97,212.79 L550.35,213.24 L550.72,213.69 L551.07,214.14 L551.41,214.58 L551.73,215.03 L552.04,215.48 L552.34,215.92 L552.62,216.36 L552.89,216.81 L553.14,217.25 L553.38,217.69 L553.60,218.13 L553.81,218.57 L554.00,219.02 L554.18,219.46 L554.34,219.90 L554.49,220.34 L554.62,220.79 L554.74,221.23 L554.84,221.68 L554.93,222.13 L555.00,222.58 L555.06,223.06 L557.66,222.94 L557.67,222.42 L557.67,221.87 L557.64,221.32 L557.60,220.77 L557.54,220.21 L557.46,219.66 L557.36,219.10 L557.24,218.54 L557.10,217.98 L556.94,217.43 L556.77,216.87 L556.57,216.31 L556.36,215.75 L556.13,215.19 L555.89,214.64 L555.62,214.08 L555.34,213.52 L555.05,212.97 L554.73,212.42 L554.40,211.86 L554.06,211.31 L553.70,210.76 L553.32,210.21 L552.93,209.66 L552.52,209.11 L552.10,208.57 L551.67,208.02 L551.22,207.48 L550.76,206.93 L550.28,206.39 L549.79,205.85 L549.29,205.31 L548.78,204.78 L548.26,204.24 L547.72,203.70 L547.18,203.17 L546.62,202.64 L546.05,202.11 L545.47,201.58 L544.89,201.05 L544.29,200.52 L543.69,199.99 L543.07,199.47 L542.45,198.94 L541.82,198.42 L541.18,197.90 L540.54,197.38 L539.89,196.86 L539.23,196.34 L538.57,195.83 L537.90,195.31 L537.23,194.80 L536.55,194.28 L535.87,193.77 L535.19,193.26 L534.50,192.75 L533.81,192.24 L533.11,191.74 L532.42,191.23 L531.72,190.73 L531.02,190.22 L530.32,189.72 L529.62,189.22 L528.92,188.72 L528.22,188.22 L527.53,187.73 L526.83,187.23 L526.13,186.74 L525.44,186.24 L524.75,185.75 L524.06,185.26 L523.38,184.77 L522.70,184.28 L522.03,183.80 L521.36,183.31 L520.69,182.83 L520.03,182.34 L519.38,181.86 L518.73,181.38 L518.09,180.90 L517.46,180.42 L516.83,179.94 L516.21,179.47 L515.60,178.99 L515.00,178.52 L514.41,178.05 L513.82,177.58 L513.25,177.11 L512.69,176.64 L512.13,176.17 L511.59,175.70 L511.06,175.24 L510.54,174.78 L510.03,174.31 L509.53,173.85 L509.05,173.39 L508.57,172.93 L508.11,172.48 L507.67,172.02 L507.23,171.57 L506.81,171.11 L506.40,170.66 L506.01,170.21 L505.63,169.76 L505.26,169.31 L504.91,168.86 L504.57,168.41 L504.24,167.97 L503.93,167.52 L503.64,167.08 L503.36,166.64 L503.09,166.19 L502.84,165.75 L502.60,165.31 L502.38,164.87 L502.17,164.43 L501.98,163.98 L501.80,163.54 L501.64,163.10 L501.49,162.65 L501.35,162.21 L501.23,161.76 L501.13,161.32 L501.04,160.87 L500.97,160.42 L500.91,159.94Z" fill="#808080" stroke="#5a5a5a" stroke-width="0.8" stroke-linejoin="round"/>
<path d="M491.39,285.83 L491.28,286.34 L491.19,286.89 L491.11,287.43 L491.06,287.98 L491.02,288.53 L491.00,289.08 L491.01,289.63 L491.03,290.19 L491.06,290.75 L491.12,291.31 L491.20,291.87 L491.30,292.43 L491.41,292.99 L491.54,293.55 L491.69,294.11 L491.86,294.67 L492.04,295.23 L492.25,295.79 L492.47,296.35 L492.70,296.91 L492.96,297.47 L493.21,298.00 L496.86,296.00 L496.57,295.53 L496.31,295.09 L496.05,294.65 L495.81,294.21 L495.59,293.77 L495.38,293.33 L495.18,292.89 L495.00,292.45 L494.83,292.01 L494.67,291.57 L494.53,291.13 L494.41,290.69 L494.30,290.25 L494.20,289.81 L494.12,289.37 L494.05,288.92 L493.99,288.47 L493.96,288.02 L493.93,287.57 L493.93,287.11 L493.94,286.66 L493.96,286.17Z" fill="#808080" stroke="#5a5a5a" stroke-width="0.8" stroke-linejoin="round"/>
<path d="M548.08,160.33 L548.48,160.80 L548.86,161.25 L549.23,161.70 L549.59,162.14 L549.93,162.59 L550.25,163.04 L550.56,163.48 L550.86,163.93 L551.14,164.37 L551.41,164.81 L551.67,165.26 L551.90,165.70 L552.13,166.14 L552.34,166.58 L552.53,167.02 L552.71,167.46 L552.88,167.91 L553.03,168.35 L553.16,168.80 L553.28,169.24 L553.39,169.69 L553.48,170.14 L553.55,170.59 L553.61,171.04 L553.59,171.52 L556.26,171.48 L556.22,170.96 L556.23,170.41 L556.22,169.86 L556.20,169.31 L556.15,168.76 L556.09,168.20 L556.00,167.65 L555.90,167.09 L555.78,166.54 L555.64,165.98 L555.48,165.42 L555.30,164.86 L555.11,164.30 L554.89,163.74 L554.66,163.19 L554.41,162.63 L554.15,162.07 L553.87,161.52 L553.57,160.96 L553.25,160.41 L552.92,159.86 L552.57,159.30 L552.21,158.75 L551.83,158.20 L551.45,157.67Z" fill="#808080" stroke="#5a5a5a" stroke-width="0.8" stroke-linejoin="round"/>
<path d="M499.19,234.36 L499.10,234.88 L499.02,235.42 L498.97,235.97 L498.93,236.52 L498.91,237.07 L498.91,237.63 L498.93,238.18 L498.96,238.74 L499.02,239.30 L499.09,239.86 L499.19,240.42 L499.30,240.98 L499.43,241.54 L499.58,242.10 L499.74,242.66 L499.92,243.22 L500.12,243.78 L500.34,244.34 L500.58,244.90 L500.83,245.46 L501.09,246.01 L501.38,246.57 L501.67,247.12 L501.99,247.68 L502.31,248.23 L502.66,248.78 L503.01,249.33 L503.38,249.88 L503.76,250.42 L504.16,250.97 L504.57,251.51 L504.99,252.05 L505.42,252.59 L505.87,253.13 L506.32,253.67 L506.79,254.21 L507.26,254.74 L507.75,255.27 L508.25,255.81 L508.75,256.34 L509.27,256.87 L509.79,257.39 L510.32,257.92 L510.86,258.45 L511.41,258.97 L511.96,259.49 L512.52,260.01 L513.09,260.53 L513.66,261.05 L514.24,261.57 L514.82,262.08 L515.41,262.60 L516.00,263.11 L516.60,263.62 L517.20,264.13 L517.80,264.64 L518.40,265.15 L519.01,265.65 L519.61,266.16 L520.22,266.66 L520.83,267.16 L521.44,267.66 L522.05,268.16 L522.66,268.66 L523.27,269.16 L523.87,269.65 L524.48,270.15 L525.08,270.64 L525.68,271.13 L526.28,271.62 L526.87,272.11 L527.46,272.60 L528.05,273.09 L528.63,273.57 L529.20,274.05 L529.77,274.54 L530.34,275.02 L530.89,275.50 L531.44,275.97 L531.99,276.45 L532.52,276.93 L533.05,277.40 L533.57,277.87 L534.09,278.34 L534.59,278.81 L535.08,279.28 L535.57,279.75 L536.04,280.21 L536.51,280.68 L536.96,281.14 L537.40,281.60 L537.83,282.06 L538.25,282.52 L538.66,282.98 L539.06,283.43 L539.45,283.89 L539.82,284.34 L540.18,284.79 L540.53,285.24 L540.86,285.69 L541.18,286.14 L541.49,286.58 L541.78,287.03 L542.07,287.47 L542.33,287.91 L542.59,288.36 L542.83,288.80 L543.05,289.24 L543.27,289.68 L543.47,290.12 L543.65,290.55 L543.82,290.99 L543.98,291.43 L544.12,291.87 L544.25,292.31 L544.36,292.75 L544.46,293.20 L544.54,293.64 L544.61,294.09 L544.67,294.53 L544.71,294.98 L544.73,295.44 L544.74,295.89 L544.73,296.35 L544.71,296.83 L547.29,297.17 L547.40,296.65 L547.49,296.11 L547.56,295.56 L547.61,295.02 L547.65,294.47 L547.66,293.91 L547.66,293.36 L547.64,292.80 L547.60,292.25 L547.54,291.69 L547.46,291.13 L547.36,290.57 L547.24,290.01 L547.11,289.45 L546.96,288.88 L546.79,288.32 L546.60,287.76 L546.40,287.20 L546.18,286.64 L545.94,286.09 L545.68,285.53 L545.41,284.97 L545.13,284.42 L544.83,283.86 L544.51,283.31 L544.18,282.76 L543.84,282.21 L543.48,281.66 L543.10,281.11 L542.72,280.57 L542.32,280.02 L541.91,279.48 L541.48,278.94 L541.05,278.40 L540.60,277.86 L540.14,277.32 L539.68,276.79 L539.20,276.25 L538.71,275.72 L538.21,275.19 L537.70,274.66 L537.18,274.13 L536.66,273.60 L536.13,273.07 L535.58,272.55 L535.04,272.03 L534.48,271.50 L533.92,270.98 L533.35,270.46 L532.78,269.95 L532.20,269.43 L531.62,268.91 L531.03,268.40 L530.43,267.89 L529.84,267.38 L529.24,266.87 L528.64,266.36 L528.03,265.85 L527.43,265.35 L526.82,264.84 L526.21,264.34 L525.60,263.84 L524.99,263.34 L524.38,262.84 L523.77,262.34 L523.17,261.84 L522.56,261.35 L521.96,260.85 L521.35,260.36 L520.75,259.87 L520.16,259.38 L519.57,258.89 L518.98,258.40 L518.39,257.92 L517.81,257.43 L517.24,256.95 L516.67,256.47 L516.11,255.99 L515.55,255.51 L515.00,255.03 L514.46,254.55 L513.93,254.08 L513.40,253.61 L512.88,253.13 L512.37,252.66 L511.87,252.19 L511.38,251.73 L510.90,251.26 L510.42,250.79 L509.96,250.33 L509.51,249.87 L509.07,249.41 L508.64,248.95 L508.22,248.49 L507.82,248.03 L507.42,247.58 L507.04,247.12 L506.67,246.67 L506.31,246.22 L505.97,245.77 L505.64,245.32 L505.32,244.88 L505.01,244.43 L504.72,243.99 L504.44,243.54 L504.18,243.10 L503.93,242.66 L503.69,242.22 L503.47,241.78 L503.26,241.34 L503.06,240.90 L502.88,240.46 L502.71,240.02 L502.56,239.58 L502.42,239.14 L502.30,238.70 L502.19,238.26 L502.09,237.82 L502.01,237.37 L501.94,236.93 L501.89,236.48 L501.86,236.03 L501.84,235.58 L501.83,235.12 L501.84,234.64Z" fill="#808080" stroke="#5a5a5a" stroke-width="0.8" stroke-linejoin="round"/>
<line x1="504.62" y1="162.20" x2="525.65" y2="160.20" stroke="#2d3f9e" stroke-width="3.8"/>
<line x1="526.65" y1="160.20" x2="547.68" y2="158.20" stroke="#33479f" stroke-width="3.4"/>
<rect x="498.52" y="158.80" width="5.2" height="4.8" fill="#f4f4f4" stroke="#8c8c8c" stroke-width="0.5"/>
<path d="M499.52,162.80 L501.32,159.00 L503.12,161.80 Z" fill="#e0201a"/>
<rect x="546.58" y="155.80" width="5.2" height="4.8" fill="#f4f4f4" stroke="#8c8c8c" stroke-width="0.5"/>
<path d="M547.58,159.80 L549.38,156.00 L551.18,158.80 Z" fill="#e0201a"/>
<line x1="509.65" y1="173.90" x2="530.28" y2="171.90" stroke="#2d3f9e" stroke-width="3.8"/>
<line x1="531.28" y1="171.90" x2="551.92" y2="169.90" stroke="#9dc4ee" stroke-width="3.4"/>
<rect x="503.55" y="170.50" width="5.2" height="4.8" fill="#f4f4f4" stroke="#8c8c8c" stroke-width="0.5"/>
<path d="M504.55,174.50 L506.35,170.70 L508.15,173.50 Z" fill="#e0201a"/>
<rect x="550.82" y="167.50" width="5.2" height="4.8" fill="#f4f4f4" stroke="#8c8c8c" stroke-width="0.5"/>
<path d="M551.82,171.50 L553.62,167.70 L555.42,170.50 Z" fill="#e0201a"/>
<line x1="521.82" y1="185.60" x2="534.06" y2="183.60" stroke="#2d3f9e" stroke-width="3.8"/>
<line x1="535.06" y1="183.60" x2="547.30" y2="181.60" stroke="#33479f" stroke-width="3.4"/>
<rect x="516.12" y="182.20" width="5.2" height="4.8" fill="#f4f4f4" stroke="#8c8c8c" stroke-width="0.5"/>
<path d="M517.12,186.20 L518.92,182.40 L520.72,185.20 Z" fill="#e0201a"/>
<rect x="545.96" y="179.20" width="5.2" height="4.8" fill="#f4f4f4" stroke="#8c8c8c" stroke-width="0.5"/>
<path d="M546.96,183.20 L548.76,179.40 L550.56,182.20 Z" fill="#e0201a"/>
<line x1="533.92" y1="197.30" x2="537.44" y2="193.30" stroke="#2d3f9e" stroke-width="3.8"/>
<rect x="532.18" y="193.90" width="5.2" height="4.8" fill="#f4f4f4" stroke="#8c8c8c" stroke-width="0.5"/>
<path d="M533.18,197.90 L534.98,194.10 L536.78,196.90 Z" fill="#e0201a"/>
<rect x="533.73" y="190.90" width="5.2" height="4.8" fill="#f4f4f4" stroke="#8c8c8c" stroke-width="0.5"/>
<path d="M534.73,194.90 L536.53,191.10 L538.33,193.90 Z" fill="#e0201a"/>
<line x1="544.09" y1="209.00" x2="534.79" y2="207.00" stroke="#2d3f9e" stroke-width="3.8"/>
<line x1="533.79" y1="207.00" x2="524.49" y2="205.00" stroke="#9dc4ee" stroke-width="3.4"/>
<rect x="543.52" y="205.60" width="5.2" height="4.8" fill="#f4f4f4" stroke="#8c8c8c" stroke-width="0.5"/>
<path d="M544.52,209.60 L546.32,205.80 L548.12,208.60 Z" fill="#e0201a"/>
<rect x="521.27" y="202.60" width="5.2" height="4.8" fill="#f4f4f4" stroke="#8c8c8c" stroke-width="0.5"/>
<path d="M522.27,206.60 L524.07,202.80 L525.87,205.60 Z" fill="#e0201a"/>
<line x1="550.61" y1="220.70" x2="531.77" y2="218.70" stroke="#2d3f9e" stroke-width="3.8"/>
<line x1="530.77" y1="218.70" x2="511.92" y2="216.70" stroke="#33479f" stroke-width="3.4"/>
<rect x="551.51" y="217.30" width="5.2" height="4.8" fill="#f4f4f4" stroke="#8c8c8c" stroke-width="0.5"/>
<path d="M552.51,221.30 L554.31,217.50 L556.11,220.30 Z" fill="#e0201a"/>
<rect x="507.82" y="214.30" width="5.2" height="4.8" fill="#f4f4f4" stroke="#8c8c8c" stroke-width="0.5"/>
<path d="M508.82,218.30 L510.62,214.50 L512.42,217.30 Z" fill="#e0201a"/>
<line x1="549.28" y1="232.40" x2="527.44" y2="230.40" stroke="#2d3f9e" stroke-width="3.8"/>
<line x1="526.44" y1="230.40" x2="504.59" y2="228.40" stroke="#33479f" stroke-width="3.4"/>
<rect x="550.18" y="229.00" width="5.2" height="4.8" fill="#f4f4f4" stroke="#8c8c8c" stroke-width="0.5"/>
<path d="M551.18,233.00 L552.98,229.20 L554.78,232.00 Z" fill="#e0201a"/>
<rect x="500.49" y="226.00" width="5.2" height="4.8" fill="#f4f4f4" stroke="#8c8c8c" stroke-width="0.5"/>
<path d="M501.49,230.00 L503.29,226.20 L505.09,229.00 Z" fill="#e0201a"/>
<line x1="537.79" y1="244.10" x2="521.66" y2="242.10" stroke="#2d3f9e" stroke-width="3.8"/>
<line x1="520.66" y1="242.10" x2="504.54" y2="240.10" stroke="#9dc4ee" stroke-width="3.4"/>
<rect x="538.69" y="240.70" width="5.2" height="4.8" fill="#f4f4f4" stroke="#8c8c8c" stroke-width="0.5"/>
<path d="M539.69,244.70 L541.49,240.90 L543.29,243.70 Z" fill="#e0201a"/>
<rect x="500.44" y="237.70" width="5.2" height="4.8" fill="#f4f4f4" stroke="#8c8c8c" stroke-width="0.5"/>
<path d="M501.44,241.70 L503.24,237.90 L505.04,240.70 Z" fill="#e0201a"/>
<line x1="523.76" y1="255.80" x2="517.99" y2="253.80" stroke="#2d3f9e" stroke-width="3.8"/>
<line x1="516.99" y1="253.80" x2="511.22" y2="251.80" stroke="#33479f" stroke-width="3.4"/>
<rect x="521.93" y="252.40" width="5.2" height="4.8" fill="#f4f4f4" stroke="#8c8c8c" stroke-width="0.5"/>
<path d="M522.93,256.40 L524.73,252.60 L526.53,255.40 Z" fill="#e0201a"/>
<rect x="508.76" y="249.40" width="5.2" height="4.8" fill="#f4f4f4" stroke="#8c8c8c" stroke-width="0.5"/>
<path d="M509.76,253.40 L511.56,249.60 L513.36,252.40 Z" fill="#e0201a"/>
<line x1="510.95" y1="267.50" x2="515.98" y2="265.50" stroke="#2d3f9e" stroke-width="3.8"/>
<line x1="516.98" y1="265.50" x2="522.02" y2="263.50" stroke="#33479f" stroke-width="3.4"/>
<rect x="507.85" y="264.10" width="5.2" height="4.8" fill="#f4f4f4" stroke="#8c8c8c" stroke-width="0.5"/>
<path d="M508.85,268.10 L510.65,264.30 L512.45,267.10 Z" fill="#e0201a"/>
<rect x="519.12" y="261.10" width="5.2" height="4.8" fill="#f4f4f4" stroke="#8c8c8c" stroke-width="0.5"/>
<path d="M520.12,265.10 L521.92,261.30 L523.72,264.10 Z" fill="#e0201a"/>
<line x1="501.62" y1="279.20" x2="517.11" y2="277.20" stroke="#2d3f9e" stroke-width="3.8"/>
<line x1="518.11" y1="277.20" x2="533.60" y2="275.20" stroke="#9dc4ee" stroke-width="3.4"/>
<rect x="495.52" y="275.80" width="5.2" height="4.8" fill="#f4f4f4" stroke="#8c8c8c" stroke-width="0.5"/>
<path d="M496.52,279.80 L498.32,276.00 L500.12,278.80 Z" fill="#e0201a"/>
<rect x="532.50" y="272.80" width="5.2" height="4.8" fill="#f4f4f4" stroke="#8c8c8c" stroke-width="0.5"/>
<path d="M533.50,276.80 L535.30,273.00 L537.10,275.80 Z" fill="#e0201a"/>
<line x1="497.52" y1="290.90" x2="519.25" y2="288.90" stroke="#2d3f9e" stroke-width="3.8"/>
<line x1="520.25" y1="288.90" x2="541.99" y2="286.90" stroke="#33479f" stroke-width="3.4"/>
<rect x="491.42" y="287.50" width="5.2" height="4.8" fill="#f4f4f4" stroke="#8c8c8c" stroke-width="0.5"/>
<path d="M492.42,291.50 L494.22,287.70 L496.02,290.50 Z" fill="#e0201a"/>
<rect x="540.89" y="284.50" width="5.2" height="4.8" fill="#f4f4f4" stroke="#8c8c8c" stroke-width="0.5"/>
<path d="M541.89,288.50 L543.69,284.70 L545.49,287.50 Z" fill="#e0201a"/>
<path d="M498.08,158.96 L498.14,159.49 L498.21,160.02 L501.01,159.98 L501.07,159.51 L501.15,159.04Z" fill="#f4f4f4" stroke="#8c8c8c" stroke-width="0.9" stroke-linejoin="round"/>
<path d="M554.96,223.01 L554.90,223.49 L554.82,223.94 L554.73,224.38 L554.62,224.82 L554.50,225.25 L554.36,225.69 L554.21,226.11 L554.05,226.54 L553.87,226.96 L553.73,227.23 L553.51,227.51 L553.20,227.93 L552.89,228.35 L552.56,228.77 L552.22,229.19 L551.86,229.62 L551.49,230.04 L551.10,230.46 L550.71,230.88 L550.29,231.31 L549.87,231.73 L549.43,232.16 L548.97,232.59 L548.51,233.02 L548.03,233.45 L547.54,233.88 L547.03,234.31 L546.51,234.75 L545.98,235.18 L545.44,235.62 L544.88,236.06 L544.32,236.50 L543.74,236.94 L543.15,237.39 L542.55,237.83 L541.94,238.28 L541.32,238.73 L540.69,239.18 L540.05,239.63 L539.40,240.09 L538.74,240.55 L538.07,241.00 L537.40,241.46 L536.71,241.93 L536.02,242.39 L535.32,242.86 L534.62,243.32 L533.90,243.79 L533.19,244.27 L532.46,244.74 L531.73,245.21 L531.00,245.69 L530.26,246.17 L529.52,246.65 L528.77,247.14 L528.02,247.62 L527.27,248.11 L526.51,248.60 L525.75,249.09 L524.99,249.58 L524.23,250.08 L523.47,250.57 L522.71,251.07 L521.95,251.57 L521.19,252.08 L520.43,252.58 L519.67,253.09 L518.91,253.60 L518.16,254.11 L517.40,254.62 L516.65,255.14 L515.91,255.65 L515.17,256.17 L514.43,256.69 L513.70,257.21 L512.97,257.74 L512.24,258.27 L511.53,258.79 L510.82,259.32 L510.11,259.86 L509.42,260.39 L508.73,260.93 L508.05,261.46 L507.38,262.00 L506.71,262.55 L506.06,263.09 L505.41,263.63 L504.78,264.18 L504.15,264.73 L503.54,265.28 L502.94,265.83 L502.35,266.39 L501.77,266.94 L501.20,267.50 L500.64,268.06 L500.10,268.62 L499.57,269.18 L499.05,269.75 L498.55,270.31 L498.06,270.88 L497.59,271.45 L497.13,272.02 L496.69,272.59 L496.26,273.16 L495.84,273.73 L495.45,274.31 L495.07,274.89 L494.70,275.46 L494.36,276.04 L494.03,276.62 L493.72,277.20 L493.42,277.77 L493.15,278.35 L492.89,278.93 L492.65,279.51 L492.43,280.09 L492.23,280.67 L492.05,281.25 L491.88,281.82 L491.74,282.40 L491.62,282.97 L491.51,283.54 L491.43,284.11 L491.36,284.67 L491.32,285.23 L491.29,285.77 L494.06,286.23 L494.20,285.77 L494.36,285.33 L494.53,284.89 L494.72,284.46 L494.92,284.03 L495.13,283.60 L495.36,283.18 L495.61,282.75 L495.87,282.33 L496.14,281.91 L496.42,281.49 L496.73,281.07 L497.04,280.65 L497.37,280.23 L497.71,279.80 L498.07,279.38 L498.44,278.96 L498.82,278.54 L499.22,278.11 L499.63,277.69 L500.06,277.27 L500.50,276.84 L500.95,276.41 L501.42,275.98 L501.90,275.55 L502.39,275.12 L502.90,274.69 L503.41,274.25 L503.94,273.82 L504.49,273.38 L505.04,272.94 L505.61,272.50 L506.18,272.06 L506.77,271.61 L507.37,271.17 L507.98,270.72 L508.60,270.27 L509.23,269.82 L509.87,269.37 L510.52,268.91 L511.18,268.45 L511.85,268.00 L512.53,267.54 L513.21,267.07 L513.90,266.61 L514.60,266.14 L515.30,265.68 L516.02,265.21 L516.73,264.73 L517.46,264.26 L518.19,263.79 L518.92,263.31 L519.66,262.83 L520.40,262.35 L521.15,261.86 L521.90,261.38 L522.65,260.89 L523.41,260.40 L524.17,259.91 L524.93,259.42 L525.69,258.92 L526.45,258.43 L527.21,257.93 L527.97,257.43 L528.73,256.92 L529.49,256.42 L530.25,255.91 L531.01,255.40 L531.76,254.89 L532.52,254.38 L533.27,253.86 L534.01,253.35 L534.75,252.83 L535.49,252.31 L536.23,251.79 L536.95,251.26 L537.68,250.73 L538.39,250.21 L539.10,249.68 L539.81,249.14 L540.50,248.61 L541.19,248.07 L541.87,247.54 L542.55,247.00 L543.21,246.45 L543.86,245.91 L544.51,245.37 L545.14,244.82 L545.77,244.27 L546.38,243.72 L546.99,243.17 L547.58,242.61 L548.16,242.06 L548.73,241.50 L549.28,240.94 L549.83,240.38 L550.36,239.82 L550.87,239.25 L551.38,238.69 L551.86,238.12 L552.34,237.55 L552.80,236.98 L553.24,236.41 L553.67,235.84 L554.08,235.27 L554.48,234.69 L554.86,234.12 L555.23,233.54 L555.57,232.96 L555.90,232.38 L556.21,231.81 L556.51,231.23 L556.79,230.65 L557.04,230.07 L557.28,229.49 L557.57,228.77 L557.72,228.04 L557.81,227.46 L557.87,226.89 L557.91,226.31 L557.94,225.75 L557.94,225.18 L557.92,224.62 L557.89,224.06 L557.83,223.51 L557.76,222.99Z" fill="#f4f4f4" stroke="#8c8c8c" stroke-width="0.9" stroke-linejoin="round"/>
<path d="M553.46,171.47 L553.39,171.94 L553.30,172.39 L553.19,172.83 L553.07,173.26 L552.94,173.69 L552.79,174.12 L552.62,174.55 L552.45,174.97 L552.26,175.40 L552.05,175.82 L551.83,176.24 L551.60,176.65 L551.36,177.07 L551.10,177.49 L550.83,177.91 L550.54,178.32 L550.24,178.74 L549.93,179.16 L549.61,179.58 L549.27,180.00 L548.92,180.42 L548.55,180.84 L548.17,181.26 L547.78,181.69 L547.38,182.11 L546.97,182.54 L546.54,182.97 L546.10,183.40 L545.65,183.84 L545.18,184.27 L544.71,184.71 L544.22,185.14 L543.72,185.58 L543.21,186.03 L542.69,186.47 L542.17,186.92 L541.63,187.36 L541.08,187.81 L540.52,188.26 L539.95,188.72 L539.38,189.17 L538.79,189.63 L538.20,190.09 L537.60,190.55 L536.99,191.02 L536.38,191.48 L535.76,191.95 L535.13,192.42 L534.50,192.89 L533.86,193.36 L533.21,193.84 L532.57,194.32 L531.91,194.80 L531.26,195.28 L530.60,195.76 L529.94,196.25 L529.27,196.74 L528.60,197.23 L527.93,197.72 L527.26,198.22 L526.59,198.71 L525.92,199.21 L525.25,199.71 L524.58,200.21 L523.91,200.72 L523.24,201.23 L522.57,201.74 L521.90,202.25 L521.24,202.76 L520.58,203.28 L519.92,203.79 L519.27,204.31 L518.62,204.83 L517.98,205.36 L517.34,205.88 L516.71,206.41 L516.08,206.94 L515.46,207.47 L514.84,208.01 L514.23,208.54 L513.63,209.08 L513.04,209.62 L512.46,210.16 L511.88,210.71 L511.32,211.25 L510.76,211.80 L510.21,212.35 L509.68,212.90 L509.15,213.46 L508.64,214.01 L508.13,214.57 L507.64,215.13 L507.16,215.69 L506.70,216.26 L506.24,216.82 L505.80,217.39 L505.38,217.96 L504.96,218.53 L504.56,219.10 L504.18,219.67 L503.81,220.25 L503.46,220.82 L503.12,221.40 L502.80,221.98 L502.49,222.56 L502.21,223.14 L501.93,223.72 L501.68,224.30 L501.44,224.89 L501.23,225.47 L501.03,226.05 L500.85,226.64 L500.75,227.06 L500.58,227.50 L500.36,228.08 L500.15,228.66 L499.97,229.24 L499.81,229.81 L499.66,230.39 L499.53,230.96 L499.43,231.53 L499.34,232.10 L499.27,232.66 L499.22,233.22 L499.20,233.78 L499.07,234.30 L501.96,234.70 L501.98,234.22 L502.12,233.78 L502.28,233.34 L502.46,232.90 L502.64,232.47 L502.85,232.04 L503.06,231.61 L503.30,231.19 L503.54,230.76 L503.80,230.34 L504.08,229.92 L504.36,229.50 L504.74,228.94 L505.04,228.36 L505.29,227.95 L505.55,227.53 L505.82,227.11 L506.11,226.70 L506.41,226.28 L506.73,225.86 L507.06,225.44 L507.40,225.02 L507.75,224.60 L508.12,224.18 L508.50,223.75 L508.89,223.33 L509.30,222.90 L509.72,222.47 L510.15,222.04 L510.59,221.61 L511.04,221.18 L511.51,220.74 L511.99,220.31 L512.48,219.87 L512.98,219.43 L513.49,218.99 L514.01,218.54 L514.54,218.10 L515.08,217.65 L515.63,217.20 L516.19,216.75 L516.76,216.29 L517.34,215.84 L517.93,215.38 L518.52,214.92 L519.12,214.46 L519.73,213.99 L520.35,213.53 L520.97,213.06 L521.60,212.59 L522.23,212.12 L522.87,211.64 L523.52,211.17 L524.17,210.69 L524.82,210.21 L525.48,209.72 L526.14,209.24 L526.80,208.75 L527.47,208.26 L528.13,207.77 L528.80,207.28 L529.47,206.79 L530.15,206.29 L530.82,205.79 L531.49,205.29 L532.16,204.78 L532.83,204.28 L533.50,203.77 L534.17,203.26 L534.83,202.75 L535.49,202.24 L536.15,201.72 L536.81,201.20 L537.46,200.68 L538.11,200.16 L538.75,199.64 L539.39,199.11 L540.02,198.58 L540.65,198.05 L541.27,197.52 L541.88,196.98 L542.49,196.45 L543.09,195.91 L543.68,195.37 L544.26,194.83 L544.83,194.28 L545.39,193.74 L545.95,193.19 L546.49,192.64 L547.03,192.08 L547.55,191.53 L548.06,190.97 L548.56,190.42 L549.05,189.86 L549.53,189.29 L549.99,188.73 L550.44,188.16 L550.88,187.60 L551.31,187.03 L551.71,186.46 L552.11,185.89 L552.49,185.31 L552.86,184.74 L553.21,184.16 L553.54,183.58 L553.86,183.00 L554.16,182.42 L554.44,181.84 L554.71,181.26 L554.96,180.68 L555.19,180.09 L555.41,179.51 L555.60,178.93 L555.78,178.35 L555.93,177.76 L556.07,177.18 L556.19,176.60 L556.29,176.03 L556.37,175.45 L556.43,174.88 L556.47,174.31 L556.49,173.74 L556.50,173.17 L556.48,172.61 L556.44,172.06 L556.38,171.53Z" fill="#f4f4f4" stroke="#8c8c8c" stroke-width="0.9" stroke-linejoin="round"/>
<path d="M582.31,160.06 L582.30,160.58 L582.30,161.13 L582.33,161.68 L582.37,162.24 L582.44,162.79 L582.52,163.35 L582.62,163.90 L582.74,164.46 L582.88,165.02 L583.03,165.57 L583.21,166.13 L583.40,166.69 L583.61,167.25 L583.84,167.81 L584.09,168.36 L584.35,168.92 L584.63,169.48 L584.93,170.03 L585.25,170.59 L585.58,171.14 L585.92,171.69 L586.28,172.24 L586.66,172.79 L587.05,173.34 L587.46,173.89 L587.88,174.43 L588.31,174.98 L588.76,175.52 L589.23,176.07 L589.70,176.61 L590.19,177.15 L590.69,177.69 L591.20,178.22 L591.73,178.76 L592.26,179.30 L592.81,179.83 L593.36,180.36 L593.93,180.89 L594.51,181.42 L595.10,181.95 L595.69,182.48 L596.30,183.01 L596.91,183.53 L597.54,184.06 L598.17,184.58 L598.80,185.10 L599.45,185.62 L600.10,186.14 L600.75,186.66 L601.42,187.17 L602.08,187.69 L602.76,188.20 L603.43,188.72 L604.12,189.23 L604.80,189.74 L605.49,190.25 L606.18,190.76 L606.87,191.26 L607.57,191.77 L608.27,192.27 L608.97,192.78 L609.67,193.28 L610.37,193.78 L611.06,194.28 L611.76,194.78 L612.46,195.27 L613.16,195.77 L613.85,196.26 L614.54,196.76 L615.23,197.25 L615.92,197.74 L616.60,198.23 L617.28,198.72 L617.96,199.20 L618.63,199.69 L619.29,200.17 L619.95,200.66 L620.61,201.14 L621.25,201.62 L621.90,202.10 L622.53,202.58 L623.15,203.06 L623.77,203.53 L624.38,204.01 L624.98,204.48 L625.58,204.95 L626.16,205.42 L626.73,205.89 L627.30,206.36 L627.85,206.83 L628.39,207.30 L628.92,207.76 L629.44,208.22 L629.95,208.69 L630.45,209.15 L630.93,209.61 L631.41,210.07 L631.87,210.52 L632.32,210.98 L632.75,211.43 L633.17,211.89 L633.58,212.34 L633.97,212.79 L634.35,213.24 L634.72,213.69 L635.07,214.14 L635.41,214.58 L635.73,215.03 L636.04,215.48 L636.34,215.92 L636.62,216.36 L636.89,216.81 L637.14,217.25 L637.38,217.69 L637.60,218.13 L637.81,218.57 L638.00,219.02 L638.18,219.46 L638.34,219.90 L638.49,220.34 L638.62,220.79 L638.74,221.23 L638.84,221.68 L638.93,222.13 L639.00,222.58 L639.06,223.06 L641.66,222.94 L641.67,222.42 L641.67,221.87 L641.64,221.32 L641.60,220.77 L641.54,220.21 L641.46,219.66 L641.36,219.10 L641.24,218.54 L641.10,217.98 L640.94,217.43 L640.77,216.87 L640.57,216.31 L640.36,215.75 L640.13,215.19 L639.89,214.64 L639.62,214.08 L639.34,213.52 L639.05,212.97 L638.73,212.42 L638.40,211.86 L638.06,211.31 L637.70,210.76 L637.32,210.21 L636.93,209.66 L636.52,209.11 L636.10,208.57 L635.67,208.02 L635.22,207.48 L634.76,206.93 L634.28,206.39 L633.79,205.85 L633.29,205.31 L632.78,204.78 L632.26,204.24 L631.72,203.70 L631.18,203.17 L630.62,202.64 L630.05,202.11 L629.47,201.58 L628.89,201.05 L628.29,200.52 L627.69,199.99 L627.07,199.47 L626.45,198.94 L625.82,198.42 L625.18,197.90 L624.54,197.38 L623.89,196.86 L623.23,196.34 L622.57,195.83 L621.90,195.31 L621.23,194.80 L620.55,194.28 L619.87,193.77 L619.19,193.26 L618.50,192.75 L617.81,192.24 L617.11,191.74 L616.42,191.23 L615.72,190.73 L615.02,190.22 L614.32,189.72 L613.62,189.22 L612.92,188.72 L612.22,188.22 L611.53,187.73 L610.83,187.23 L610.13,186.74 L609.44,186.24 L608.75,185.75 L608.06,185.26 L607.38,184.77 L606.70,184.28 L606.03,183.80 L605.36,183.31 L604.69,182.83 L604.03,182.34 L603.38,181.86 L602.73,181.38 L602.09,180.90 L601.46,180.42 L600.83,179.94 L600.21,179.47 L599.60,178.99 L599.00,178.52 L598.41,178.05 L597.82,177.58 L597.25,177.11 L596.69,176.64 L596.13,176.17 L595.59,175.70 L595.06,175.24 L594.54,174.78 L594.03,174.31 L593.53,173.85 L593.05,173.39 L592.57,172.93 L592.11,172.48 L591.67,172.02 L591.23,171.57 L590.81,171.11 L590.40,170.66 L590.01,170.21 L589.63,169.76 L589.26,169.31 L588.91,168.86 L588.57,168.41 L588.24,167.97 L587.93,167.52 L587.64,167.08 L587.36,166.64 L587.09,166.19 L586.84,165.75 L586.60,165.31 L586.38,164.87 L586.17,164.43 L585.98,163.98 L585.80,163.54 L585.64,163.10 L585.49,162.65 L585.35,162.21 L585.23,161.76 L585.13,161.32 L585.04,160.87 L584.97,160.42 L584.91,159.94Z" fill="#808080" stroke="#5a5a5a" stroke-width="0.8" stroke-linejoin="round"/>
<path d="M575.39,285.83 L575.28,286.34 L575.19,286.89 L575.11,287.43 L575.06,287.98 L575.02,288.53 L575.00,289.08 L575.01,289.63 L575.03,290.19 L575.06,290.75 L575.12,291.31 L575.20,291.87 L575.30,292.43 L575.41,292.99 L575.54,293.55 L575.69,294.11 L575.86,294.67 L576.04,295.23 L576.25,295.79 L576.47,296.35 L576.70,296.91 L576.96,297.47 L577.21,298.00 L580.86,296.00 L580.57,295.53 L580.31,295.09 L580.05,294.65 L579.81,294.21 L579.59,293.77 L579.38,293.33 L579.18,292.89 L579.00,292.45 L578.83,292.01 L578.67,291.57 L578.53,291.13 L578.41,290.69 L578.30,290.25 L578.20,289.81 L578.12,289.37 L578.05,288.92 L577.99,288.47 L577.96,288.02 L577.93,287.57 L577.93,287.11 L577.94,286.66 L577.96,286.17Z" fill="#808080" stroke="#5a5a5a" stroke-width="0.8" stroke-linejoin="round"/>
<path d="M632.08,160.33 L632.48,160.80 L632.86,161.25 L633.23,161.70 L633.59,162.14 L633.93,162.59 L634.25,163.04 L634.56,163.48 L634.86,163.93 L635.14,164.37 L635.41,164.81 L635.67,165.26 L635.90,165.70 L636.13,166.14 L636.34,166.58 L636.53,167.02 L636.71,167.46 L636.88,167.91 L637.03,168.35 L637.16,168.80 L637.28,169.24 L637.39,169.69 L637.48,170.14 L637.55,170.59 L637.61,171.04 L637.59,171.52 L640.26,171.48 L640.22,170.96 L640.23,170.41 L640.22,169.86 L640.20,169.31 L640.15,168.76 L640.09,168.20 L640.00,167.65 L639.90,167.09 L639.78,166.54 L639.64,165.98 L639.48,165.42 L639.30,164.86 L639.11,164.30 L638.89,163.74 L638.66,163.19 L638.41,162.63 L638.15,162.07 L637.87,161.52 L637.57,160.96 L637.25,160.41 L636.92,159.86 L636.57,159.30 L636.21,158.75 L635.83,158.20 L635.45,157.67Z" fill="#808080" stroke="#5a5a5a" stroke-width="0.8" stroke-linejoin="round"/>
<path d="M583.19,234.36 L583.10,234.88 L583.02,235.42 L582.97,235.97 L582.93,236.52 L582.91,237.07 L582.91,237.63 L582.93,238.18 L582.96,238.74 L583.02,239.30 L583.09,239.86 L583.19,240.42 L583.30,240.98 L583.43,241.54 L583.58,242.10 L583.74,242.66 L583.92,243.22 L584.12,243.78 L584.34,244.34 L584.58,244.90 L584.83,245.46 L585.09,246.01 L585.38,246.57 L585.67,247.12 L585.99,247.68 L586.31,248.23 L586.66,248.78 L587.01,249.33 L587.38,249.88 L587.76,250.42 L588.16,250.97 L588.57,251.51 L588.99,252.05 L589.42,252.59 L589.87,253.13 L590.32,253.67 L590.79,254.21 L591.26,254.74 L591.75,255.27 L592.25,255.81 L592.75,256.34 L593.27,256.87 L593.79,257.39 L594.32,257.92 L594.86,258.45 L595.41,258.97 L595.96,259.49 L596.52,260.01 L597.09,260.53 L597.66,261.05 L598.24,261.57 L598.82,262.08 L599.41,262.60 L600.00,263.11 L600.60,263.62 L601.20,264.13 L601.80,264.64 L602.40,265.15 L603.01,265.65 L603.61,266.16 L604.22,266.66 L604.83,267.16 L605.44,267.66 L606.05,268.16 L606.66,268.66 L607.27,269.16 L607.87,269.65 L608.48,270.15 L609.08,270.64 L609.68,271.13 L610.28,271.62 L610.87,272.11 L611.46,272.60 L612.05,273.09 L612.63,273.57 L613.20,274.05 L613.77,274.54 L614.34,275.02 L614.89,275.50 L615.44,275.97 L615.99,276.45 L616.52,276.93 L617.05,277.40 L617.57,277.87 L618.09,278.34 L618.59,278.81 L619.08,279.28 L619.57,279.75 L620.04,280.21 L620.51,280.68 L620.96,281.14 L621.40,281.60 L621.83,282.06 L622.25,282.52 L622.66,282.98 L623.06,283.43 L623.45,283.89 L623.82,284.34 L624.18,284.79 L624.53,285.24 L624.86,285.69 L625.18,286.14 L625.49,286.58 L625.78,287.03 L626.07,287.47 L626.33,287.91 L626.59,288.36 L626.83,288.80 L627.05,289.24 L627.27,289.68 L627.47,290.12 L627.65,290.55 L627.82,290.99 L627.98,291.43 L628.12,291.87 L628.25,292.31 L628.36,292.75 L628.46,293.20 L628.54,293.64 L628.61,294.09 L628.67,294.53 L628.71,294.98 L628.73,295.44 L628.74,295.89 L628.73,296.35 L628.71,296.83 L631.29,297.17 L631.40,296.65 L631.49,296.11 L631.56,295.56 L631.61,295.02 L631.65,294.47 L631.66,293.91 L631.66,293.36 L631.64,292.80 L631.60,292.25 L631.54,291.69 L631.46,291.13 L631.36,290.57 L631.24,290.01 L631.11,289.45 L630.96,288.88 L630.79,288.32 L630.60,287.76 L630.40,287.20 L630.18,286.64 L629.94,286.09 L629.68,285.53 L629.41,284.97 L629.13,284.42 L628.83,283.86 L628.51,283.31 L628.18,282.76 L627.84,282.21 L627.48,281.66 L627.10,281.11 L626.72,280.57 L626.32,280.02 L625.91,279.48 L625.48,278.94 L625.05,278.40 L624.60,277.86 L624.14,277.32 L623.68,276.79 L623.20,276.25 L622.71,275.72 L622.21,275.19 L621.70,274.66 L621.18,274.13 L620.66,273.60 L620.13,273.07 L619.58,272.55 L619.04,272.03 L618.48,271.50 L617.92,270.98 L617.35,270.46 L616.78,269.95 L616.20,269.43 L615.62,268.91 L615.03,268.40 L614.43,267.89 L613.84,267.38 L613.24,266.87 L612.64,266.36 L612.03,265.85 L611.43,265.35 L610.82,264.84 L610.21,264.34 L609.60,263.84 L608.99,263.34 L608.38,262.84 L607.77,262.34 L607.17,261.84 L606.56,261.35 L605.96,260.85 L605.35,260.36 L604.75,259.87 L604.16,259.38 L603.57,258.89 L602.98,258.40 L602.39,257.92 L601.81,257.43 L601.24,256.95 L600.67,256.47 L600.11,255.99 L599.55,255.51 L599.00,255.03 L598.46,254.55 L597.93,254.08 L597.40,253.61 L596.88,253.13 L596.37,252.66 L595.87,252.19 L595.38,251.73 L594.90,251.26 L594.42,250.79 L593.96,250.33 L593.51,249.87 L593.07,249.41 L592.64,248.95 L592.22,248.49 L591.82,248.03 L591.42,247.58 L591.04,247.12 L590.67,246.67 L590.31,246.22 L589.97,245.77 L589.64,245.32 L589.32,244.88 L589.01,244.43 L588.72,243.99 L588.44,243.54 L588.18,243.10 L587.93,242.66 L587.69,242.22 L587.47,241.78 L587.26,241.34 L587.06,240.90 L586.88,240.46 L586.71,240.02 L586.56,239.58 L586.42,239.14 L586.30,238.70 L586.19,238.26 L586.09,237.82 L586.01,237.37 L585.94,236.93 L585.89,236.48 L585.86,236.03 L585.84,235.58 L585.83,235.12 L585.84,234.64Z" fill="#808080" stroke="#5a5a5a" stroke-width="0.8" stroke-linejoin="round"/>
<line x1="588.62" y1="162.20" x2="609.65" y2="160.20" stroke="#2d3f9e" stroke-width="3.8"/>
<line x1="610.65" y1="160.20" x2="631.68" y2="158.20" stroke="#33479f" stroke-width="3.4"/>
<rect x="582.52" y="158.80" width="5.2" height="4.8" fill="#f4f4f4" stroke="#8c8c8c" stroke-width="0.5"/>
<path d="M583.52,162.80 L585.32,159.00 L587.12,161.80 Z" fill="#e0201a"/>
<rect x="630.58" y="155.80" width="5.2" height="4.8" fill="#f4f4f4" stroke="#8c8c8c" stroke-width="0.5"/>
<path d="M631.58,159.80 L633.38,156.00 L635.18,158.80 Z" fill="#e0201a"/>
<line x1="593.65" y1="173.90" x2="614.28" y2="171.90" stroke="#2d3f9e" stroke-width="3.8"/>
<line x1="615.28" y1="171.90" x2="635.92" y2="169.90" stroke="#9dc4ee" stroke-width="3.4"/>
<rect x="587.55" y="170.50" width="5.2" height="4.8" fill="#f4f4f4" stroke="#8c8c8c" stroke-width="0.5"/>
<path d="M588.55,174.50 L590.35,170.70 L592.15,173.50 Z" fill="#e0201a"/>
<rect x="634.82" y="167.50" width="5.2" height="4.8" fill="#f4f4f4" stroke="#8c8c8c" stroke-width="0.5"/>
<path d="M635.82,171.50 L637.62,167.70 L639.42,170.50 Z" fill="#e0201a"/>
<line x1="605.82" y1="185.60" x2="618.06" y2="183.60" stroke="#2d3f9e" stroke-width="3.8"/>
<line x1="619.06" y1="183.60" x2="631.30" y2="181.60" stroke="#33479f" stroke-width="3.4"/>
<rect x="600.12" y="182.20" width="5.2" height="4.8" fill="#f4f4f4" stroke="#8c8c8c" stroke-width="0.5"/>
<path d="M601.12,186.20 L602.92,182.40 L604.72,185.20 Z" fill="#e0201a"/>
<rect x="629.96" y="179.20" width="5.2" height="4.8" fill="#f4f4f4" stroke="#8c8c8c" stroke-width="0.5"/>
<path d="M630.96,183.20 L632.76,179.40 L634.56,182.20 Z" fill="#e0201a"/>
<line x1="617.92" y1="197.30" x2="621.44" y2="193.30" stroke="#2d3f9e" stroke-width="3.8"/>
<rect x="616.18" y="193.90" width="5.2" height="4.8" fill="#f4f4f4" stroke="#8c8c8c" stroke-width="0.5"/>
<path d="M617.18,197.90 L618.98,194.10 L620.78,196.90 Z" fill="#e0201a"/>
<rect x="617.73" y="190.90" width="5.2" height="4.8" fill="#f4f4f4" stroke="#8c8c8c" stroke-width="0.5"/>
<path d="M618.73,194.90 L620.53,191.10 L622.33,193.90 Z" fill="#e0201a"/>
<line x1="628.09" y1="209.00" x2="618.79" y2="207.00" stroke="#2d3f9e" stroke-width="3.8"/>
<line x1="617.79" y1="207.00" x2="608.49" y2="205.00" stroke="#9dc4ee" stroke-width="3.4"/>
<rect x="627.52" y="205.60" width="5.2" height="4.8" fill="#f4f4f4" stroke="#8c8c8c" stroke-width="0.5"/>
<path d="M628.52,209.60 L630.32,205.80 L632.12,208.60 Z" fill="#e0201a"/>
<rect x="605.27" y="202.60" width="5.2" height="4.8" fill="#f4f4f4" stroke="#8c8c8c" stroke-width="0.5"/>
<path d="M606.27,206.60 L608.07,202.80 L609.87,205.60 Z" fill="#e0201a"/>
<line x1="634.61" y1="220.70" x2="615.77" y2="218.70" stroke="#2d3f9e" stroke-width="3.8"/>
<line x1="614.77" y1="218.70" x2="595.92" y2="216.70" stroke="#33479f" stroke-width="3.4"/>
<rect x="635.51" y="217.30" width="5.2" height="4.8" fill="#f4f4f4" stroke="#8c8c8c" stroke-width="0.5"/>
<path d="M636.51,221.30 L638.31,217.50 L640.11,220.30 Z" fill="#e0201a"/>
<rect x="591.82" y="214.30" width="5.2" height="4.8" fill="#f4f4f4" stroke="#8c8c8c" stroke-width="0.5"/>
<path d="M592.82,218.30 L594.62,214.50 L596.42,217.30 Z" fill="#e0201a"/>
<line x1="633.28" y1="232.40" x2="611.44" y2="230.40" stroke="#2d3f9e" stroke-width="3.8"/>
<line x1="610.44" y1="230.40" x2="588.59" y2="228.40" stroke="#33479f" stroke-width="3.4"/>
<rect x="634.18" y="229.00" width="5.2" height="4.8" fill="#f4f4f4" stroke="#8c8c8c" stroke-width="0.5"/>
<path d="M635.18,233.00 L636.98,229.20 L638.78,232.00 Z" fill="#e0201a"/>
<rect x="584.49" y="226.00" width="5.2" height="4.8" fill="#f4f4f4" stroke="#8c8c8c" stroke-width="0.5"/>
<path d="M585.49,230.00 L587.29,226.20 L589.09,229.00 Z" fill="#e0201a"/>
<line x1="621.79" y1="244.10" x2="605.66" y2="242.10" stroke="#2d3f9e" stroke-width="3.8"/>
<line x1="604.66" y1="242.10" x2="588.54" y2="240.10" stroke="#9dc4ee" stroke-width="3.4"/>
<rect x="622.69" y="240.70" width="5.2" height="4.8" fill="#f4f4f4" stroke="#8c8c8c" stroke-width="0.5"/>
<path d="M623.69,244.70 L625.49,240.90 L627.29,243.70 Z" fill="#e0201a"/>
<rect x="584.44" y="237.70" width="5.2" height="4.8" fill="#f4f4f4" stroke="#8c8c8c" stroke-width="0.5"/>
<path d="M585.44,241.70 L587.24,237.90 L589.04,240.70 Z" fill="#e0201a"/>
<line x1="607.76" y1="255.80" x2="601.99" y2="253.80" stroke="#2d3f9e" stroke-width="3.8"/>
<line x1="600.99" y1="253.80" x2="595.22" y2="251.80" stroke="#33479f" stroke-width="3.4"/>
<rect x="605.93" y="252.40" width="5.2" height="4.8" fill="#f4f4f4" stroke="#8c8c8c" stroke-width="0.5"/>
<path d="M606.93,256.40 L608.73,252.60 L610.53,255.40 Z" fill="#e0201a"/>
<rect x="592.76" y="249.40" width="5.2" height="4.8" fill="#f4f4f4" stroke="#8c8c8c" stroke-width="0.5"/>
<path d="M593.76,253.40 L595.56,249.60 L597.36,252.40 Z" fill="#e0201a"/>
<line x1="594.95" y1="267.50" x2="599.98" y2="265.50" stroke="#2d3f9e" stroke-width="3.8"/>
<line x1="600.98" y1="265.50" x2="606.02" y2="263.50" stroke="#33479f" stroke-width="3.4"/>
<rect x="591.85" y="264.10" width="5.2" height="4.8" fill="#f4f4f4" stroke="#8c8c8c" stroke-width="0.5"/>
<path d="M592.85,268.10 L594.65,264.30 L596.45,267.10 Z" fill="#e0201a"/>
<rect x="603.12" y="261.10" width="5.2" height="4.8" fill="#f4f4f4" stroke="#8c8c8c" stroke-width="0.5"/>
<path d="M604.12,265.10 L605.92,261.30 L607.72,264.10 Z" fill="#e0201a"/>
<line x1="585.62" y1="279.20" x2="601.11" y2="277.20" stroke="#2d3f9e" stroke-width="3.8"/>
<line x1="602.11" y1="277.20" x2="617.60" y2="275.20" stroke="#9dc4ee" stroke-width="3.4"/>
<rect x="579.52" y="275.80" width="5.2" height="4.8" fill="#f4f4f4" stroke="#8c8c8c" stroke-width="0.5"/>
<path d="M580.52,279.80 L582.32,276.00 L584.12,278.80 Z" fill="#e0201a"/>
<rect x="616.50" y="272.80" width="5.2" height="4.8" fill="#f4f4f4" stroke="#8c8c8c" stroke-width="0.5"/>
<path d="M617.50,276.80 L619.30,273.00 L621.10,275.80 Z" fill="#e0201a"/>
<line x1="581.52" y1="290.90" x2="603.25" y2="288.90" stroke="#2d3f9e" stroke-width="3.8"/>
<line x1="604.25" y1="288.90" x2="625.99" y2="286.90" stroke="#33479f" stroke-width="3.4"/>
<rect x="575.42" y="287.50" width="5.2" height="4.8" fill="#f4f4f4" stroke="#8c8c8c" stroke-width="0.5"/>
<path d="M576.42,291.50 L578.22,287.70 L580.02,290.50 Z" fill="#e0201a"/>
<rect x="624.89" y="284.50" width="5.2" height="4.8" fill="#f4f4f4" stroke="#8c8c8c" stroke-width="0.5"/>
<path d="M625.89,288.50 L627.69,284.70 L629.49,287.50 Z" fill="#e0201a"/>
<path d="M582.08,158.96 L582.14,159.49 L582.21,160.02 L585.01,159.98 L585.07,159.51 L585.15,159.04Z" fill="#f4f4f4" stroke="#8c8c8c" stroke-width="0.9" stroke-linejoin="round"/>
<path d="M638.96,223.01 L638.90,223.49 L638.82,223.94 L638.73,224.38 L638.62,224.82 L638.50,225.25 L638.36,225.69 L638.21,226.11 L638.05,226.54 L637.87,226.96 L637.73,227.23 L637.51,227.51 L637.20,227.93 L636.89,228.35 L636.56,228.77 L636.22,229.19 L635.86,229.62 L635.49,230.04 L635.10,230.46 L634.71,230.88 L634.29,231.31 L633.87,231.73 L633.43,232.16 L632.97,232.59 L632.51,233.02 L632.03,233.45 L631.54,233.88 L631.03,234.31 L630.51,234.75 L629.98,235.18 L629.44,235.62 L628.88,236.06 L628.32,236.50 L627.74,236.94 L627.15,237.39 L626.55,237.83 L625.94,238.28 L625.32,238.73 L624.69,239.18 L624.05,239.63 L623.40,240.09 L622.74,240.55 L622.07,241.00 L621.40,241.46 L620.71,241.93 L620.02,242.39 L619.32,242.86 L618.62,243.32 L617.90,243.79 L617.19,244.27 L616.46,244.74 L615.73,245.21 L615.00,245.69 L614.26,246.17 L613.52,246.65 L612.77,247.14 L612.02,247.62 L611.27,248.11 L610.51,248.60 L609.75,249.09 L608.99,249.58 L608.23,250.08 L607.47,250.57 L606.71,251.07 L605.95,251.57 L605.19,252.08 L604.43,252.58 L603.67,253.09 L602.91,253.60 L602.16,254.11 L601.40,254.62 L600.65,255.14 L599.91,255.65 L599.17,256.17 L598.43,256.69 L597.70,257.21 L596.97,257.74 L596.24,258.27 L595.53,258.79 L594.82,259.32 L594.11,259.86 L593.42,260.39 L592.73,260.93 L592.05,261.46 L591.38,262.00 L590.71,262.55 L590.06,263.09 L589.41,263.63 L588.78,264.18 L588.15,264.73 L587.54,265.28 L586.94,265.83 L586.35,266.39 L585.77,266.94 L585.20,267.50 L584.64,268.06 L584.10,268.62 L583.57,269.18 L583.05,269.75 L582.55,270.31 L582.06,270.88 L581.59,271.45 L581.13,272.02 L580.69,272.59 L580.26,273.16 L579.84,273.73 L579.45,274.31 L579.07,274.89 L578.70,275.46 L578.36,276.04 L578.03,276.62 L577.72,277.20 L577.42,277.77 L577.15,278.35 L576.89,278.93 L576.65,279.51 L576.43,280.09 L576.23,280.67 L576.05,281.25 L575.88,281.82 L575.74,282.40 L575.62,282.97 L575.51,283.54 L575.43,284.11 L575.36,284.67 L575.32,285.23 L575.29,285.77 L578.06,286.23 L578.20,285.77 L578.36,285.33 L578.53,284.89 L578.72,284.46 L578.92,284.03 L579.13,283.60 L579.36,283.18 L579.61,282.75 L579.87,282.33 L580.14,281.91 L580.42,281.49 L580.73,281.07 L581.04,280.65 L581.37,280.23 L581.71,279.80 L582.07,279.38 L582.44,278.96 L582.82,278.54 L583.22,278.11 L583.63,277.69 L584.06,277.27 L584.50,276.84 L584.95,276.41 L585.42,275.98 L585.90,275.55 L586.39,275.12 L586.90,274.69 L587.41,274.25 L587.94,273.82 L588.49,273.38 L589.04,272.94 L589.61,272.50 L590.18,272.06 L590.77,271.61 L591.37,271.17 L591.98,270.72 L592.60,270.27 L593.23,269.82 L593.87,269.37 L594.52,268.91 L595.18,268.45 L595.85,268.00 L596.53,267.54 L597.21,267.07 L597.90,266.61 L598.60,266.14 L599.30,265.68 L600.02,265.21 L600.73,264.73 L601.46,264.26 L602.19,263.79 L602.92,263.31 L603.66,262.83 L604.40,262.35 L605.15,261.86 L605.90,261.38 L606.65,260.89 L607.41,260.40 L608.17,259.91 L608.93,259.42 L609.69,258.92 L610.45,258.43 L611.21,257.93 L611.97,257.43 L612.73,256.92 L613.49,256.42 L614.25,255.91 L615.01,255.40 L615.76,254.89 L616.52,254.38 L617.27,253.86 L618.01,253.35 L618.75,252.83 L619.49,252.31 L620.23,251.79 L620.95,251.26 L621.68,250.73 L622.39,250.21 L623.10,249.68 L623.81,249.14 L624.50,248.61 L625.19,248.07 L625.87,247.54 L626.55,247.00 L627.21,246.45 L627.86,245.91 L628.51,245.37 L629.14,244.82 L629.77,244.27 L630.38,243.72 L630.99,243.17 L631.58,242.61 L632.16,242.06 L632.73,241.50 L633.28,240.94 L633.83,240.38 L634.36,239.82 L634.87,239.25 L635.38,238.69 L635.86,238.12 L636.34,237.55 L636.80,236.98 L637.24,236.41 L637.67,235.84 L638.08,235.27 L638.48,234.69 L638.86,234.12 L639.23,233.54 L639.57,232.96 L639.90,232.38 L640.21,231.81 L640.51,231.23 L640.79,230.65 L641.04,230.07 L641.28,229.49 L641.57,228.77 L641.72,228.04 L641.81,227.46 L641.87,226.89 L641.91,226.31 L641.94,225.75 L641.94,225.18 L641.92,224.62 L641.89,224.06 L641.83,223.51 L641.76,222.99Z" fill="#f4f4f4" stroke="#8c8c8c" stroke-width="0.9" stroke-linejoin="round"/>
<path d="M637.46,171.47 L637.39,171.94 L637.30,172.39 L637.19,172.83 L637.07,173.26 L636.94,173.69 L636.79,174.12 L636.62,174.55 L636.45,174.97 L636.26,175.40 L636.05,175.82 L635.83,176.24 L635.60,176.65 L635.36,177.07 L635.10,177.49 L634.83,177.91 L634.54,178.32 L634.24,178.74 L633.93,179.16 L633.61,179.58 L633.27,180.00 L632.92,180.42 L632.55,180.84 L632.17,181.26 L631.78,181.69 L631.38,182.11 L630.97,182.54 L630.54,182.97 L630.10,183.40 L629.65,183.84 L629.18,184.27 L628.71,184.71 L628.22,185.14 L627.72,185.58 L627.21,186.03 L626.69,186.47 L626.17,186.92 L625.63,187.36 L625.08,187.81 L624.52,188.26 L623.95,188.72 L623.38,189.17 L622.79,189.63 L622.20,190.09 L621.60,190.55 L620.99,191.02 L620.38,191.48 L619.76,191.95 L619.13,192.42 L618.50,192.89 L617.86,193.36 L617.21,193.84 L616.57,194.32 L615.91,194.80 L615.26,195.28 L614.60,195.76 L613.94,196.25 L613.27,196.74 L612.60,197.23 L611.93,197.72 L611.26,198.22 L610.59,198.71 L609.92,199.21 L609.25,199.71 L608.58,200.21 L607.91,200.72 L607.24,201.23 L606.57,201.74 L605.90,202.25 L605.24,202.76 L604.58,203.28 L603.92,203.79 L603.27,204.31 L602.62,204.83 L601.98,205.36 L601.34,205.88 L600.71,206.41 L600.08,206.94 L599.46,207.47 L598.84,208.01 L598.23,208.54 L597.63,209.08 L597.04,209.62 L596.46,210.16 L595.88,210.71 L595.32,211.25 L594.76,211.80 L594.21,212.35 L593.68,212.90 L593.15,213.46 L592.64,214.01 L592.13,214.57 L591.64,215.13 L591.16,215.69 L590.70,216.26 L590.24,216.82 L589.80,217.39 L589.38,217.96 L588.96,218.53 L588.56,219.10 L588.18,219.67 L587.81,220.25 L587.46,220.82 L587.12,221.40 L586.80,221.98 L586.49,222.56 L586.21,223.14 L585.93,223.72 L585.68,224.30 L585.44,224.89 L585.23,225.47 L585.03,226.05 L584.85,226.64 L584.75,227.06 L584.58,227.50 L584.36,228.08 L584.15,228.66 L583.97,229.24 L583.81,229.81 L583.66,230.39 L583.53,230.96 L583.43,231.53 L583.34,232.10 L583.27,232.66 L583.22,233.22 L583.20,233.78 L583.07,234.30 L585.96,234.70 L585.98,234.22 L586.12,233.78 L586.28,233.34 L586.46,232.90 L586.64,232.47 L586.85,232.04 L587.06,231.61 L587.30,231.19 L587.54,230.76 L587.80,230.34 L588.08,229.92 L588.36,229.50 L588.74,228.94 L589.04,228.36 L589.29,227.95 L589.55,227.53 L589.82,227.11 L590.11,226.70 L590.41,226.28 L590.73,225.86 L591.06,225.44 L591.40,225.02 L591.75,224.60 L592.12,224.18 L592.50,223.75 L592.89,223.33 L593.30,222.90 L593.72,222.47 L594.15,222.04 L594.59,221.61 L595.04,221.18 L595.51,220.74 L595.99,220.31 L596.48,219.87 L596.98,219.43 L597.49,218.99 L598.01,218.54 L598.54,218.10 L599.08,217.65 L599.63,217.20 L600.19,216.75 L600.76,216.29 L601.34,215.84 L601.93,215.38 L602.52,214.92 L603.12,214.46 L603.73,213.99 L604.35,213.53 L604.97,213.06 L605.60,212.59 L606.23,212.12 L606.87,211.64 L607.52,211.17 L608.17,210.69 L608.82,210.21 L609.48,209.72 L610.14,209.24 L610.80,208.75 L611.47,208.26 L612.13,207.77 L612.80,207.28 L613.47,206.79 L614.15,206.29 L614.82,205.79 L615.49,205.29 L616.16,204.78 L616.83,204.28 L617.50,203.77 L618.17,203.26 L618.83,202.75 L619.49,202.24 L620.15,201.72 L620.81,201.20 L621.46,200.68 L622.11,200.16 L622.75,199.64 L623.39,199.11 L624.02,198.58 L624.65,198.05 L625.27,197.52 L625.88,196.98 L626.49,196.45 L627.09,195.91 L627.68,195.37 L628.26,194.83 L628.83,194.28 L629.39,193.74 L629.95,193.19 L630.49,192.64 L631.03,192.08 L631.55,191.53 L632.06,190.97 L632.56,190.42 L633.05,189.86 L633.53,189.29 L633.99,188.73 L634.44,188.16 L634.88,187.60 L635.31,187.03 L635.71,186.46 L636.11,185.89 L636.49,185.31 L636.86,184.74 L637.21,184.16 L637.54,183.58 L637.86,183.00 L638.16,182.42 L638.44,181.84 L638.71,181.26 L638.96,180.68 L639.19,180.09 L639.41,179.51 L639.60,178.93 L639.78,178.35 L639.93,177.76 L640.07,177.18 L640.19,176.60 L640.29,176.03 L640.37,175.45 L640.43,174.88 L640.47,174.31 L640.49,173.74 L640.50,173.17 L640.48,172.61 L640.44,172.06 L640.38,171.53Z" fill="#f4f4f4" stroke="#8c8c8c" stroke-width="0.9" stroke-linejoin="round"/>
<path d="M498.47,341.49 L498.43,342.01 L498.41,342.56 L498.40,343.10 L498.42,343.65 L498.45,344.20 L498.49,344.75 L498.56,345.30 L498.64,345.85 L498.74,346.41 L498.86,346.96 L498.99,347.51 L499.14,348.07 L499.31,348.62 L499.49,349.18 L499.69,349.73 L499.90,350.29 L500.13,350.84 L500.38,351.39 L500.64,351.95 L500.92,352.50 L501.21,353.05 L501.52,353.60 L501.84,354.15 L502.18,354.70 L502.53,355.24 L502.89,355.79 L503.27,356.34 L503.66,356.88 L504.06,357.42 L504.47,357.96 L504.90,358.51 L505.34,359.05 L505.79,359.58 L506.26,360.12 L506.73,360.66 L507.21,361.19 L507.71,361.73 L508.21,362.26 L508.73,362.79 L509.25,363.32 L509.79,363.85 L510.33,364.38 L510.88,364.91 L511.44,365.43 L512.01,365.96 L512.59,366.48 L513.17,367.01 L513.76,367.53 L514.36,368.05 L514.96,368.57 L515.57,369.09 L516.19,369.60 L516.81,370.12 L517.43,370.63 L518.06,371.15 L518.70,371.66 L519.34,372.17 L519.98,372.68 L520.62,373.19 L521.27,373.70 L521.92,374.21 L522.57,374.71 L523.23,375.22 L523.89,375.72 L524.54,376.23 L525.20,376.73 L525.86,377.23 L526.52,377.73 L527.17,378.23 L527.83,378.72 L528.49,379.22 L529.14,379.72 L529.79,380.21 L530.44,380.70 L531.09,381.20 L531.73,381.69 L532.37,382.18 L533.01,382.66 L533.64,383.15 L534.27,383.64 L534.90,384.12 L535.52,384.61 L536.13,385.09 L536.74,385.57 L537.34,386.05 L537.94,386.53 L538.53,387.01 L539.11,387.49 L539.68,387.97 L540.25,388.44 L540.81,388.92 L541.36,389.39 L541.90,389.86 L542.43,390.33 L542.96,390.80 L543.47,391.27 L543.98,391.74 L544.47,392.20 L544.96,392.67 L545.43,393.13 L545.89,393.59 L546.35,394.06 L546.79,394.52 L547.22,394.98 L547.64,395.43 L548.04,395.89 L548.44,396.35 L548.82,396.80 L549.19,397.26 L549.55,397.71 L549.89,398.16 L550.23,398.61 L550.55,399.06 L550.85,399.51 L551.15,399.96 L551.43,400.41 L551.70,400.86 L551.95,401.30 L552.19,401.75 L552.42,402.19 L552.64,402.64 L552.84,403.08 L553.03,403.53 L553.20,403.97 L553.36,404.42 L553.51,404.87 L553.64,405.31 L553.76,405.76 L553.86,406.15 L553.91,406.54 L553.95,407.00 L553.98,407.45 L553.99,407.91 L553.99,408.37 L553.95,408.86 L556.56,409.14 L556.62,408.63 L556.70,408.09 L556.76,407.55 L556.81,407.00 L556.83,406.46 L556.84,405.85 L556.78,405.24 L556.71,404.69 L556.62,404.13 L556.52,403.58 L556.40,403.03 L556.26,402.47 L556.11,401.92 L555.93,401.36 L555.75,400.81 L555.54,400.25 L555.32,399.70 L555.09,399.14 L554.84,398.59 L554.57,398.04 L554.29,397.49 L553.99,396.94 L553.68,396.39 L553.35,395.84 L553.02,395.29 L552.66,394.74 L552.29,394.20 L551.91,393.65 L551.52,393.11 L551.11,392.57 L550.70,392.02 L550.26,391.48 L549.82,390.94 L549.37,390.41 L548.90,389.87 L548.42,389.33 L547.94,388.80 L547.44,388.26 L546.93,387.73 L546.41,387.20 L545.89,386.67 L545.35,386.14 L544.80,385.61 L544.25,385.08 L543.69,384.56 L543.12,384.03 L542.54,383.51 L541.95,382.99 L541.36,382.47 L540.76,381.95 L540.16,381.43 L539.54,380.91 L538.93,380.39 L538.31,379.88 L537.68,379.36 L537.05,378.85 L536.41,378.34 L535.77,377.82 L535.13,377.31 L534.48,376.80 L533.83,376.30 L533.18,375.79 L532.53,375.28 L531.88,374.78 L531.22,374.28 L530.56,373.77 L529.90,373.27 L529.25,372.77 L528.59,372.27 L527.93,371.77 L527.27,371.28 L526.62,370.78 L525.97,370.29 L525.31,369.79 L524.67,369.30 L524.02,368.81 L523.38,368.32 L522.74,367.83 L522.10,367.34 L521.47,366.85 L520.84,366.37 L520.22,365.88 L519.60,365.40 L518.99,364.91 L518.38,364.43 L517.78,363.95 L517.19,363.47 L516.60,362.99 L516.02,362.52 L515.45,362.04 L514.88,361.57 L514.33,361.09 L513.78,360.62 L513.24,360.15 L512.71,359.68 L512.19,359.21 L511.67,358.74 L511.17,358.27 L510.68,357.81 L510.20,357.34 L509.73,356.88 L509.27,356.42 L508.82,355.95 L508.38,355.49 L507.95,355.04 L507.54,354.58 L507.13,354.12 L506.74,353.66 L506.36,353.21 L506.00,352.76 L505.64,352.30 L505.30,351.85 L504.97,351.40 L504.65,350.95 L504.35,350.50 L504.06,350.05 L503.78,349.61 L503.52,349.16 L503.27,348.71 L503.03,348.27 L502.81,347.82 L502.60,347.38 L502.40,346.93 L502.21,346.49 L502.04,346.04 L501.89,345.59 L501.74,345.15 L501.61,344.70 L501.50,344.25 L501.39,343.80 L501.31,343.35 L501.23,342.90 L501.17,342.44 L501.13,341.99 L501.09,341.51Z" fill="#62a05a" stroke="#3d6e38" stroke-width="0.8" stroke-linejoin="round"/>
<path d="M487.91,476.34 L487.81,476.85 L487.72,477.39 L487.65,477.93 L487.60,478.48 L487.57,479.02 L487.55,479.57 L487.55,480.12 L487.56,480.67 L487.60,481.22 L487.65,481.78 L487.72,482.33 L487.80,482.89 L487.90,483.44 L488.02,484.00 L488.16,484.56 L488.31,485.11 L488.48,485.67 L488.66,486.22 L488.86,486.78 L489.07,487.33 L489.30,487.89 L489.55,488.44 L489.81,488.99 L490.08,489.55 L490.36,490.08 L494.05,487.92 L493.74,487.45 L493.45,487.01 L493.18,486.56 L492.92,486.11 L492.68,485.67 L492.44,485.22 L492.22,484.78 L492.01,484.33 L491.82,483.89 L491.63,483.44 L491.46,483.00 L491.31,482.56 L491.16,482.11 L491.03,481.67 L490.92,481.22 L490.81,480.78 L490.72,480.33 L490.65,479.88 L490.59,479.43 L490.54,478.98 L490.50,478.52 L490.48,478.07 L490.48,477.61 L490.49,477.15 L490.51,476.66Z" fill="#62a05a" stroke="#3d6e38" stroke-width="0.8" stroke-linejoin="round"/>
<path d="M547.90,338.07 L548.36,338.54 L548.80,339.01 L549.22,339.46 L549.64,339.92 L550.04,340.38 L550.43,340.84 L550.81,341.29 L551.18,341.74 L551.53,342.20 L551.88,342.65 L552.20,343.10 L552.52,343.55 L552.82,344.00 L553.11,344.45 L553.39,344.89 L553.66,345.34 L553.91,345.79 L554.14,346.23 L554.37,346.68 L554.58,347.12 L554.78,347.57 L554.96,348.01 L555.13,348.46 L555.29,348.90 L555.43,349.35 L555.56,349.80 L555.68,350.25 L555.78,350.70 L555.87,351.15 L555.94,351.60 L556.00,352.05 L556.05,352.51 L556.08,352.97 L556.05,353.45 L558.69,353.55 L558.70,353.03 L558.74,352.49 L558.76,351.95 L558.77,351.40 L558.75,350.85 L558.72,350.30 L558.68,349.75 L558.61,349.20 L558.53,348.65 L558.43,348.10 L558.32,347.54 L558.18,346.99 L558.03,346.43 L557.87,345.88 L557.69,345.32 L557.49,344.77 L557.27,344.21 L557.04,343.66 L556.79,343.11 L556.53,342.55 L556.25,342.00 L555.96,341.45 L555.66,340.90 L555.33,340.35 L555.00,339.80 L554.65,339.26 L554.29,338.71 L553.91,338.16 L553.52,337.62 L553.12,337.08 L552.70,336.54 L552.28,335.99 L551.84,335.46 L551.39,334.93Z" fill="#62a05a" stroke="#3d6e38" stroke-width="0.8" stroke-linejoin="round"/>
<path d="M494.55,420.90 L494.47,421.41 L494.41,421.96 L494.37,422.50 L494.34,423.04 L494.33,423.59 L494.34,424.14 L494.37,424.69 L494.41,425.24 L494.47,425.80 L494.54,426.35 L494.64,426.91 L494.75,427.46 L494.87,428.02 L495.02,428.57 L495.18,429.13 L495.35,429.69 L495.55,430.24 L495.76,430.80 L495.98,431.35 L496.22,431.90 L496.47,432.46 L496.74,433.01 L497.02,433.56 L497.32,434.11 L497.63,434.66 L497.96,435.21 L498.30,435.75 L498.65,436.30 L499.02,436.85 L499.39,437.39 L499.78,437.93 L500.18,438.47 L500.60,439.01 L501.02,439.55 L501.46,440.09 L501.90,440.63 L502.36,441.16 L502.83,441.70 L503.31,442.23 L503.79,442.76 L504.29,443.29 L504.79,443.82 L505.31,444.35 L505.83,444.88 L506.36,445.40 L506.90,445.93 L507.44,446.45 L507.99,446.97 L508.55,447.49 L509.12,448.01 L509.69,448.53 L510.26,449.05 L510.84,449.57 L511.43,450.08 L512.02,450.60 L512.62,451.11 L513.22,451.62 L513.82,452.13 L514.42,452.64 L515.03,453.15 L515.64,453.66 L516.25,454.16 L516.87,454.67 L517.48,455.17 L518.10,455.67 L518.72,456.17 L519.33,456.68 L519.95,457.17 L520.57,457.67 L521.18,458.17 L521.80,458.67 L522.41,459.16 L523.02,459.65 L523.63,460.15 L524.23,460.64 L524.84,461.13 L525.43,461.62 L526.03,462.10 L526.62,462.59 L527.21,463.08 L527.79,463.56 L528.37,464.04 L528.94,464.53 L529.50,465.01 L530.06,465.49 L530.61,465.97 L531.16,466.44 L531.70,466.92 L532.23,467.39 L532.75,467.87 L533.27,468.34 L533.77,468.81 L534.27,469.28 L534.76,469.75 L535.24,470.22 L535.71,470.69 L536.17,471.15 L536.61,471.60 L537.01,472.04 L537.43,472.50 L537.83,472.96 L538.22,473.42 L538.60,473.88 L538.96,474.33 L539.32,474.79 L539.67,475.24 L540.00,475.69 L540.32,476.15 L540.63,476.60 L540.93,477.04 L541.21,477.49 L541.48,477.94 L541.74,478.39 L541.99,478.83 L542.22,479.28 L542.44,479.72 L542.65,480.17 L542.85,480.61 L543.03,481.05 L543.20,481.50 L543.36,481.94 L543.50,482.39 L543.63,482.83 L543.74,483.28 L543.85,483.72 L543.94,484.17 L544.01,484.62 L544.08,485.07 L544.12,485.52 L544.16,485.98 L544.18,486.43 L544.18,486.89 L544.18,487.35 L544.15,487.82 L544.07,488.29 L546.68,488.71 L546.75,488.18 L546.85,487.65 L546.94,487.11 L547.01,486.57 L547.06,486.02 L547.10,485.48 L547.11,484.93 L547.11,484.38 L547.10,483.83 L547.06,483.28 L547.01,482.72 L546.95,482.17 L546.86,481.61 L546.76,481.06 L546.64,480.50 L546.51,479.95 L546.35,479.39 L546.19,478.83 L546.00,478.28 L545.80,477.72 L545.59,477.17 L545.36,476.61 L545.11,476.06 L544.85,475.51 L544.58,474.96 L544.29,474.40 L543.99,473.85 L543.67,473.31 L543.35,472.76 L543.00,472.21 L542.65,471.67 L542.28,471.12 L541.90,470.58 L541.51,470.04 L541.11,469.50 L540.69,468.96 L540.25,468.40 L539.78,467.85 L539.32,467.31 L538.84,466.78 L538.36,466.25 L537.87,465.72 L537.36,465.19 L536.85,464.66 L536.33,464.13 L535.81,463.61 L535.27,463.08 L534.73,462.56 L534.18,462.03 L533.62,461.51 L533.06,460.99 L532.49,460.47 L531.92,459.96 L531.34,459.44 L530.75,458.92 L530.16,458.41 L529.57,457.90 L528.97,457.38 L528.37,456.87 L527.77,456.36 L527.16,455.85 L526.55,455.35 L525.94,454.84 L525.32,454.33 L524.71,453.83 L524.09,453.33 L523.48,452.83 L522.86,452.32 L522.24,451.83 L521.63,451.33 L521.01,450.83 L520.40,450.33 L519.78,449.84 L519.17,449.34 L518.56,448.85 L517.96,448.36 L517.35,447.87 L516.75,447.38 L516.16,446.89 L515.56,446.40 L514.98,445.92 L514.39,445.43 L513.81,444.95 L513.24,444.47 L512.67,443.99 L512.11,443.51 L511.56,443.03 L511.01,442.55 L510.47,442.07 L509.94,441.60 L509.41,441.12 L508.89,440.65 L508.38,440.18 L507.88,439.71 L507.39,439.24 L506.91,438.77 L506.43,438.30 L505.97,437.84 L505.52,437.37 L505.07,436.91 L504.64,436.45 L504.22,435.99 L503.80,435.53 L503.40,435.07 L503.01,434.61 L502.63,434.15 L502.27,433.70 L501.91,433.25 L501.57,432.79 L501.24,432.34 L500.92,431.89 L500.61,431.44 L500.32,430.99 L500.04,430.54 L499.77,430.10 L499.52,429.65 L499.27,429.20 L499.04,428.76 L498.83,428.31 L498.62,427.87 L498.43,427.43 L498.26,426.98 L498.09,426.54 L497.94,426.09 L497.80,425.65 L497.68,425.20 L497.57,424.76 L497.47,424.31 L497.39,423.86 L497.32,423.41 L497.27,422.96 L497.22,422.50 L497.20,422.04 L497.18,421.59 L497.19,421.10Z" fill="#62a05a" stroke="#3d6e38" stroke-width="0.8" stroke-linejoin="round"/>
<line x1="504.95" y1="341.50" x2="526.56" y2="339.50" stroke="#2d3f9e" stroke-width="3.8"/>
<line x1="527.56" y1="339.50" x2="549.17" y2="337.50" stroke="#33479f" stroke-width="3.4"/>
<rect x="498.85" y="338.10" width="5.2" height="4.8" fill="#aee0a2" stroke="#5f8a58" stroke-width="0.5"/>
<path d="M499.85,342.10 L501.65,338.30 L503.45,341.10 Z" fill="#e0201a"/>
<rect x="548.07" y="335.10" width="5.2" height="4.8" fill="#aee0a2" stroke="#5f8a58" stroke-width="0.5"/>
<path d="M549.07,339.10 L550.87,335.30 L552.67,338.10 Z" fill="#e0201a"/>
<line x1="508.00" y1="354.10" x2="530.69" y2="352.10" stroke="#2d3f9e" stroke-width="3.8"/>
<line x1="531.69" y1="352.10" x2="554.39" y2="350.10" stroke="#9dc4ee" stroke-width="3.4"/>
<rect x="501.90" y="350.70" width="5.2" height="4.8" fill="#aee0a2" stroke="#5f8a58" stroke-width="0.5"/>
<path d="M502.90,354.70 L504.70,350.90 L506.50,353.70 Z" fill="#e0201a"/>
<rect x="553.29" y="347.70" width="5.2" height="4.8" fill="#aee0a2" stroke="#5f8a58" stroke-width="0.5"/>
<path d="M554.29,351.70 L556.09,347.90 L557.89,350.70 Z" fill="#e0201a"/>
<line x1="519.54" y1="366.70" x2="534.23" y2="364.70" stroke="#2d3f9e" stroke-width="3.8"/>
<line x1="535.23" y1="364.70" x2="549.92" y2="362.70" stroke="#33479f" stroke-width="3.4"/>
<rect x="513.44" y="363.30" width="5.2" height="4.8" fill="#aee0a2" stroke="#5f8a58" stroke-width="0.5"/>
<path d="M514.44,367.30 L516.24,363.50 L518.04,366.30 Z" fill="#e0201a"/>
<rect x="548.82" y="360.30" width="5.2" height="4.8" fill="#aee0a2" stroke="#5f8a58" stroke-width="0.5"/>
<path d="M549.82,364.30 L551.62,360.50 L553.42,363.30 Z" fill="#e0201a"/>
<line x1="531.91" y1="379.30" x2="535.12" y2="377.30" stroke="#2d3f9e" stroke-width="3.8"/>
<line x1="536.12" y1="377.30" x2="539.33" y2="375.30" stroke="#33479f" stroke-width="3.4"/>
<rect x="529.47" y="375.90" width="5.2" height="4.8" fill="#aee0a2" stroke="#5f8a58" stroke-width="0.5"/>
<path d="M530.47,379.90 L532.27,376.10 L534.07,378.90 Z" fill="#e0201a"/>
<rect x="536.03" y="372.90" width="5.2" height="4.8" fill="#aee0a2" stroke="#5f8a58" stroke-width="0.5"/>
<path d="M537.03,376.90 L538.83,373.10 L540.63,375.90 Z" fill="#e0201a"/>
<line x1="542.46" y1="391.90" x2="534.24" y2="389.90" stroke="#2d3f9e" stroke-width="3.8"/>
<line x1="533.24" y1="389.90" x2="525.03" y2="387.90" stroke="#9dc4ee" stroke-width="3.4"/>
<rect x="541.51" y="388.50" width="5.2" height="4.8" fill="#aee0a2" stroke="#5f8a58" stroke-width="0.5"/>
<path d="M542.51,392.50 L544.31,388.70 L546.11,391.50 Z" fill="#e0201a"/>
<rect x="522.04" y="385.50" width="5.2" height="4.8" fill="#aee0a2" stroke="#5f8a58" stroke-width="0.5"/>
<path d="M523.04,389.50 L524.84,385.70 L526.64,388.50 Z" fill="#e0201a"/>
<line x1="549.47" y1="404.50" x2="530.48" y2="402.50" stroke="#2d3f9e" stroke-width="3.8"/>
<line x1="529.48" y1="402.50" x2="510.49" y2="400.50" stroke="#33479f" stroke-width="3.4"/>
<rect x="550.37" y="401.10" width="5.2" height="4.8" fill="#aee0a2" stroke="#5f8a58" stroke-width="0.5"/>
<path d="M551.37,405.10 L553.17,401.30 L554.97,404.10 Z" fill="#e0201a"/>
<rect x="506.39" y="398.10" width="5.2" height="4.8" fill="#aee0a2" stroke="#5f8a58" stroke-width="0.5"/>
<path d="M507.39,402.10 L509.19,398.30 L510.99,401.10 Z" fill="#e0201a"/>
<line x1="548.32" y1="417.10" x2="524.92" y2="415.10" stroke="#2d3f9e" stroke-width="3.8"/>
<line x1="523.92" y1="415.10" x2="500.52" y2="413.10" stroke="#33479f" stroke-width="3.4"/>
<rect x="549.22" y="413.70" width="5.2" height="4.8" fill="#aee0a2" stroke="#5f8a58" stroke-width="0.5"/>
<path d="M550.22,417.70 L552.02,413.90 L553.82,416.70 Z" fill="#e0201a"/>
<rect x="496.42" y="410.70" width="5.2" height="4.8" fill="#aee0a2" stroke="#5f8a58" stroke-width="0.5"/>
<path d="M497.42,414.70 L499.22,410.90 L501.02,413.70 Z" fill="#e0201a"/>
<line x1="537.60" y1="429.70" x2="519.11" y2="427.70" stroke="#2d3f9e" stroke-width="3.8"/>
<line x1="518.11" y1="427.70" x2="499.63" y2="425.70" stroke="#9dc4ee" stroke-width="3.4"/>
<rect x="538.50" y="426.30" width="5.2" height="4.8" fill="#aee0a2" stroke="#5f8a58" stroke-width="0.5"/>
<path d="M539.50,430.30 L541.30,426.50 L543.10,429.30 Z" fill="#e0201a"/>
<rect x="495.53" y="423.30" width="5.2" height="4.8" fill="#aee0a2" stroke="#5f8a58" stroke-width="0.5"/>
<path d="M496.53,427.30 L498.33,423.50 L500.13,426.30 Z" fill="#e0201a"/>
<line x1="522.78" y1="442.30" x2="515.22" y2="440.30" stroke="#2d3f9e" stroke-width="3.8"/>
<line x1="514.22" y1="440.30" x2="506.66" y2="438.30" stroke="#33479f" stroke-width="3.4"/>
<rect x="521.59" y="438.90" width="5.2" height="4.8" fill="#aee0a2" stroke="#5f8a58" stroke-width="0.5"/>
<path d="M522.59,442.90 L524.39,439.10 L526.19,441.90 Z" fill="#e0201a"/>
<rect x="503.82" y="435.90" width="5.2" height="4.8" fill="#aee0a2" stroke="#5f8a58" stroke-width="0.5"/>
<path d="M504.82,439.90 L506.62,436.10 L508.42,438.90 Z" fill="#e0201a"/>
<line x1="509.36" y1="454.90" x2="513.26" y2="452.90" stroke="#2d3f9e" stroke-width="3.8"/>
<line x1="514.26" y1="452.90" x2="518.17" y2="450.90" stroke="#33479f" stroke-width="3.4"/>
<rect x="506.67" y="451.50" width="5.2" height="4.8" fill="#aee0a2" stroke="#5f8a58" stroke-width="0.5"/>
<path d="M507.67,455.50 L509.47,451.70 L511.27,454.50 Z" fill="#e0201a"/>
<rect x="515.02" y="448.50" width="5.2" height="4.8" fill="#aee0a2" stroke="#5f8a58" stroke-width="0.5"/>
<path d="M516.02,452.50 L517.82,448.70 L519.62,451.50 Z" fill="#e0201a"/>
<line x1="499.32" y1="467.50" x2="514.67" y2="465.50" stroke="#2d3f9e" stroke-width="3.8"/>
<line x1="515.67" y1="465.50" x2="531.02" y2="463.50" stroke="#9dc4ee" stroke-width="3.4"/>
<rect x="493.22" y="464.10" width="5.2" height="4.8" fill="#aee0a2" stroke="#5f8a58" stroke-width="0.5"/>
<path d="M494.22,468.10 L496.02,464.30 L497.82,467.10 Z" fill="#e0201a"/>
<rect x="529.92" y="461.10" width="5.2" height="4.8" fill="#aee0a2" stroke="#5f8a58" stroke-width="0.5"/>
<path d="M530.92,465.10 L532.72,461.30 L534.52,464.10 Z" fill="#e0201a"/>
<line x1="494.06" y1="480.10" x2="516.95" y2="478.10" stroke="#2d3f9e" stroke-width="3.8"/>
<line x1="517.95" y1="478.10" x2="540.83" y2="476.10" stroke="#33479f" stroke-width="3.4"/>
<rect x="487.96" y="476.70" width="5.2" height="4.8" fill="#aee0a2" stroke="#5f8a58" stroke-width="0.5"/>
<path d="M488.96,480.70 L490.76,476.90 L492.56,479.70 Z" fill="#e0201a"/>
<rect x="539.73" y="473.70" width="5.2" height="4.8" fill="#aee0a2" stroke="#5f8a58" stroke-width="0.5"/>
<path d="M540.73,477.70 L542.53,473.90 L544.33,476.70 Z" fill="#e0201a"/>
<path d="M498.77,335.89 L498.66,336.44 L498.56,337.01 L498.48,337.57 L498.42,338.14 L498.37,338.70 L498.34,339.26 L498.33,339.82 L498.34,340.37 L498.36,340.92 L498.36,341.45 L501.20,341.55 L501.24,341.08 L501.33,340.63 L501.44,340.18 L501.56,339.74 L501.70,339.30 L501.85,338.86 L502.01,338.43 L502.18,337.99 L502.37,337.56 L502.58,337.11Z" fill="#aee0a2" stroke="#5f8a58" stroke-width="0.9" stroke-linejoin="round"/>
<path d="M553.84,408.80 L553.71,409.27 L553.57,409.71 L553.42,410.15 L553.25,410.59 L553.07,411.03 L552.87,411.46 L552.67,411.89 L552.45,412.32 L552.21,412.75 L551.96,413.18 L551.70,413.61 L551.43,414.03 L551.14,414.46 L550.84,414.89 L550.53,415.31 L550.21,415.74 L549.87,416.16 L549.52,416.59 L549.15,417.02 L548.78,417.45 L548.39,417.88 L547.99,418.30 L547.57,418.74 L547.15,419.17 L546.71,419.60 L546.26,420.03 L545.80,420.47 L545.32,420.90 L544.84,421.34 L544.34,421.78 L543.83,422.22 L543.31,422.66 L542.78,423.10 L542.24,423.55 L541.69,423.99 L541.12,424.44 L540.55,424.89 L539.97,425.34 L539.38,425.79 L538.78,426.25 L538.17,426.70 L537.55,427.16 L536.92,427.62 L536.29,428.08 L535.64,428.54 L534.99,429.00 L534.34,429.46 L533.67,429.93 L533.00,430.40 L532.32,430.87 L531.64,431.34 L530.95,431.81 L530.26,432.29 L529.56,432.76 L528.85,433.24 L528.14,433.72 L527.43,434.20 L526.71,434.69 L525.99,435.17 L525.27,435.66 L524.55,436.15 L523.82,436.64 L523.09,437.13 L522.36,437.62 L521.63,438.12 L520.90,438.61 L520.16,439.11 L519.43,439.61 L518.70,440.12 L517.97,440.62 L517.24,441.13 L516.51,441.63 L515.78,442.14 L515.06,442.65 L514.33,443.17 L513.61,443.68 L512.90,444.20 L512.19,444.72 L511.48,445.24 L510.77,445.76 L510.07,446.28 L509.38,446.81 L508.69,447.33 L508.01,447.86 L507.33,448.39 L506.66,448.92 L505.99,449.45 L505.34,449.99 L504.69,450.53 L504.05,451.06 L503.41,451.60 L502.79,452.15 L502.17,452.69 L501.56,453.23 L500.97,453.78 L500.38,454.33 L499.80,454.88 L499.23,455.43 L498.68,455.98 L498.13,456.53 L497.60,457.09 L497.08,457.65 L496.56,458.20 L496.07,458.76 L495.58,459.32 L495.11,459.89 L494.65,460.45 L494.20,461.01 L493.77,461.58 L493.35,462.15 L492.94,462.72 L492.55,463.28 L492.18,463.85 L491.82,464.43 L491.47,465.00 L491.14,465.57 L490.83,466.14 L490.53,466.72 L490.25,467.29 L489.98,467.86 L489.73,468.44 L489.51,468.98 L489.29,469.53 L489.08,470.10 L488.88,470.67 L488.69,471.25 L488.53,471.82 L488.38,472.38 L488.25,472.95 L488.14,473.52 L488.04,474.08 L487.97,474.64 L487.91,475.20 L487.87,475.75 L487.80,476.28 L490.61,476.72 L490.71,476.25 L490.85,475.80 L491.02,475.36 L491.19,474.92 L491.38,474.48 L491.58,474.05 L491.80,473.62 L492.02,473.18 L492.27,472.75 L492.52,472.33 L492.79,471.90 L493.07,471.47 L493.38,471.02 L493.68,470.56 L493.99,470.14 L494.30,469.71 L494.63,469.28 L494.97,468.86 L495.33,468.43 L495.69,468.00 L496.07,467.57 L496.47,467.15 L496.87,466.72 L497.29,466.28 L497.72,465.85 L498.16,465.42 L498.61,464.99 L499.08,464.55 L499.56,464.11 L500.05,463.68 L500.55,463.24 L501.06,462.80 L501.58,462.35 L502.12,461.91 L502.66,461.47 L503.22,461.02 L503.78,460.57 L504.36,460.12 L504.94,459.67 L505.53,459.22 L506.14,458.77 L506.75,458.31 L507.37,457.85 L508.00,457.40 L508.64,456.94 L509.28,456.47 L509.94,456.01 L510.59,455.55 L511.26,455.08 L511.93,454.61 L512.61,454.14 L513.30,453.67 L513.99,453.19 L514.69,452.72 L515.39,452.24 L516.09,451.76 L516.80,451.28 L517.52,450.80 L518.23,450.32 L518.95,449.83 L519.68,449.35 L520.40,448.86 L521.13,448.37 L521.86,447.87 L522.59,447.38 L523.32,446.88 L524.05,446.39 L524.79,445.89 L525.52,445.39 L526.25,444.88 L526.98,444.38 L527.71,443.87 L528.44,443.36 L529.17,442.85 L529.89,442.34 L530.61,441.83 L531.33,441.31 L532.05,440.80 L532.76,440.28 L533.47,439.76 L534.17,439.24 L534.87,438.71 L535.56,438.19 L536.25,437.66 L536.93,437.13 L537.61,436.60 L538.28,436.07 L538.94,435.54 L539.59,435.00 L540.24,434.46 L540.88,433.92 L541.51,433.38 L542.13,432.84 L542.75,432.30 L543.35,431.75 L543.94,431.21 L544.53,430.66 L545.10,430.11 L545.67,429.56 L546.22,429.01 L546.76,428.45 L547.30,427.90 L547.81,427.34 L548.32,426.78 L548.82,426.22 L549.30,425.66 L549.77,425.10 L550.22,424.53 L550.67,423.97 L551.10,423.40 L551.51,422.83 L551.91,422.26 L552.30,421.70 L552.67,421.12 L553.03,420.55 L553.37,419.98 L553.69,419.41 L554.00,418.84 L554.30,418.26 L554.57,417.69 L554.84,417.11 L555.08,416.54 L555.31,415.97 L555.52,415.39 L555.71,414.82 L555.88,414.25 L556.04,413.68 L556.18,413.11 L556.30,412.54 L556.41,411.97 L556.50,411.41 L556.56,410.85 L556.61,410.29 L556.65,409.73 L556.66,409.20Z" fill="#aee0a2" stroke="#5f8a58" stroke-width="0.9" stroke-linejoin="round"/>
<path d="M555.93,353.40 L555.84,353.87 L555.73,354.32 L555.61,354.76 L555.47,355.20 L555.32,355.64 L555.16,356.07 L554.99,356.51 L554.80,356.94 L554.60,357.37 L554.38,357.79 L554.15,358.22 L553.91,358.64 L553.66,359.07 L553.40,359.49 L553.12,359.92 L552.83,360.34 L552.52,360.77 L552.21,361.19 L551.88,361.62 L551.54,362.04 L551.18,362.47 L550.82,362.90 L550.44,363.33 L550.05,363.76 L549.65,364.19 L549.23,364.62 L548.81,365.05 L548.37,365.49 L547.92,365.92 L547.46,366.36 L546.99,366.80 L546.51,367.24 L546.02,367.68 L545.51,368.12 L545.00,368.57 L544.47,369.01 L543.94,369.46 L543.39,369.91 L542.84,370.36 L542.28,370.81 L541.71,371.27 L541.13,371.72 L540.54,372.18 L539.94,372.64 L539.34,373.10 L538.73,373.56 L538.11,374.03 L537.48,374.49 L536.85,374.96 L536.21,375.43 L535.57,375.90 L534.92,376.37 L534.26,376.85 L533.60,377.32 L532.94,377.80 L532.27,378.28 L531.60,378.76 L530.92,379.25 L530.24,379.73 L529.56,380.22 L528.87,380.71 L528.19,381.20 L527.50,381.69 L526.81,382.18 L526.12,382.68 L525.43,383.18 L524.74,383.68 L524.04,384.18 L523.35,384.68 L522.66,385.19 L521.97,385.69 L521.29,386.20 L520.60,386.71 L519.92,387.22 L519.24,387.74 L518.56,388.25 L517.88,388.77 L517.21,389.29 L516.55,389.81 L515.88,390.33 L515.23,390.86 L514.57,391.38 L513.93,391.91 L513.29,392.44 L512.65,392.97 L512.02,393.50 L511.40,394.04 L510.79,394.57 L510.18,395.11 L509.58,395.65 L508.99,396.19 L508.41,396.74 L507.84,397.28 L507.28,397.83 L506.72,398.38 L506.18,398.93 L505.64,399.48 L505.12,400.03 L504.61,400.58 L504.11,401.14 L503.62,401.70 L503.14,402.26 L502.67,402.82 L502.22,403.38 L501.83,403.89 L501.40,404.40 L500.95,404.97 L500.50,405.53 L500.08,406.10 L499.66,406.67 L499.26,407.24 L498.87,407.81 L498.50,408.38 L498.15,408.95 L497.80,409.52 L497.48,410.09 L497.17,410.67 L496.88,411.24 L496.60,411.81 L496.34,412.39 L496.09,412.96 L495.87,413.53 L495.66,414.11 L495.47,414.68 L495.29,415.25 L495.13,415.82 L494.99,416.39 L494.87,416.96 L494.77,417.53 L494.68,418.09 L494.61,418.65 L494.56,419.21 L494.53,419.77 L494.51,420.32 L494.44,420.84 L497.30,421.16 L497.33,420.68 L497.46,420.23 L497.60,419.79 L497.76,419.35 L497.92,418.91 L498.11,418.47 L498.30,418.04 L498.51,417.61 L498.73,417.18 L498.96,416.75 L499.21,416.32 L499.47,415.89 L499.74,415.47 L500.03,415.04 L500.33,414.61 L500.64,414.19 L500.97,413.76 L501.30,413.33 L501.65,412.91 L502.02,412.48 L502.39,412.05 L502.78,411.62 L503.18,411.19 L503.60,410.76 L504.02,410.33 L504.46,409.90 L504.91,409.47 L505.37,409.03 L505.85,408.60 L506.38,408.11 L506.88,407.62 L507.35,407.18 L507.83,406.74 L508.32,406.30 L508.82,405.86 L509.33,405.42 L509.85,404.97 L510.38,404.52 L510.93,404.07 L511.48,403.62 L512.04,403.17 L512.60,402.72 L513.18,402.26 L513.77,401.81 L514.36,401.35 L514.96,400.89 L515.57,400.43 L516.19,399.96 L516.81,399.50 L517.44,399.03 L518.08,398.56 L518.72,398.09 L519.37,397.62 L520.02,397.14 L520.68,396.67 L521.35,396.19 L522.01,395.71 L522.68,395.23 L523.36,394.75 L524.04,394.26 L524.72,393.78 L525.40,393.29 L526.09,392.80 L526.78,392.31 L527.47,391.81 L528.16,391.32 L528.85,390.82 L529.54,390.32 L530.23,389.82 L530.92,389.32 L531.61,388.82 L532.30,388.31 L532.99,387.80 L533.68,387.29 L534.36,386.78 L535.04,386.27 L535.72,385.75 L536.40,385.24 L537.07,384.72 L537.74,384.20 L538.40,383.68 L539.06,383.15 L539.71,382.63 L540.36,382.10 L541.01,381.57 L541.64,381.04 L542.27,380.51 L542.90,379.97 L543.51,379.44 L544.12,378.90 L544.72,378.36 L545.31,377.82 L545.90,377.28 L546.47,376.73 L547.04,376.19 L547.60,375.64 L548.14,375.09 L548.68,374.54 L549.21,373.99 L549.72,373.43 L550.23,372.88 L550.72,372.32 L551.20,371.76 L551.67,371.20 L552.13,370.64 L552.58,370.08 L553.01,369.51 L553.43,368.95 L553.83,368.38 L554.22,367.81 L554.60,367.24 L554.96,366.67 L555.31,366.10 L555.64,365.53 L555.96,364.96 L556.27,364.38 L556.55,363.81 L556.82,363.23 L557.08,362.66 L557.32,362.08 L557.54,361.51 L557.74,360.93 L557.93,360.36 L558.10,359.78 L558.26,359.21 L558.39,358.63 L558.51,358.06 L558.61,357.49 L558.69,356.93 L558.76,356.36 L558.80,355.80 L558.83,355.24 L558.84,354.68 L558.83,354.13 L558.81,353.60Z" fill="#aee0a2" stroke="#5f8a58" stroke-width="0.9" stroke-linejoin="round"/>
<path d="M543.96,488.23 L543.80,488.72 L546.76,489.28 L546.79,488.77Z" fill="#aee0a2" stroke="#5f8a58" stroke-width="0.9" stroke-linejoin="round"/>
<path d="M582.47,341.49 L582.43,342.01 L582.41,342.56 L582.40,343.10 L582.42,343.65 L582.45,344.20 L582.49,344.75 L582.56,345.30 L582.64,345.85 L582.74,346.41 L582.86,346.96 L582.99,347.51 L583.14,348.07 L583.31,348.62 L583.49,349.18 L583.69,349.73 L583.90,350.29 L584.13,350.84 L584.38,351.39 L584.64,351.95 L584.92,352.50 L585.21,353.05 L585.52,353.60 L585.84,354.15 L586.18,354.70 L586.53,355.24 L586.89,355.79 L587.27,356.34 L587.66,356.88 L588.06,357.42 L588.47,357.96 L588.90,358.51 L589.34,359.05 L589.79,359.58 L590.26,360.12 L590.73,360.66 L591.21,361.19 L591.71,361.73 L592.21,362.26 L592.73,362.79 L593.25,363.32 L593.79,363.85 L594.33,364.38 L594.88,364.91 L595.44,365.43 L596.01,365.96 L596.59,366.48 L597.17,367.01 L597.76,367.53 L598.36,368.05 L598.96,368.57 L599.57,369.09 L600.19,369.60 L600.81,370.12 L601.43,370.63 L602.06,371.15 L602.70,371.66 L603.34,372.17 L603.98,372.68 L604.62,373.19 L605.27,373.70 L605.92,374.21 L606.57,374.71 L607.23,375.22 L607.89,375.72 L608.54,376.23 L609.20,376.73 L609.86,377.23 L610.52,377.73 L611.17,378.23 L611.83,378.72 L612.49,379.22 L613.14,379.72 L613.79,380.21 L614.44,380.70 L615.09,381.20 L615.73,381.69 L616.37,382.18 L617.01,382.66 L617.64,383.15 L618.27,383.64 L618.90,384.12 L619.52,384.61 L620.13,385.09 L620.74,385.57 L621.34,386.05 L621.94,386.53 L622.53,387.01 L623.11,387.49 L623.68,387.97 L624.25,388.44 L624.81,388.92 L625.36,389.39 L625.90,389.86 L626.43,390.33 L626.96,390.80 L627.47,391.27 L627.98,391.74 L628.47,392.20 L628.96,392.67 L629.43,393.13 L629.89,393.59 L630.35,394.06 L630.79,394.52 L631.22,394.98 L631.64,395.43 L632.04,395.89 L632.44,396.35 L632.82,396.80 L633.19,397.26 L633.55,397.71 L633.89,398.16 L634.23,398.61 L634.55,399.06 L634.85,399.51 L635.15,399.96 L635.43,400.41 L635.70,400.86 L635.95,401.30 L636.19,401.75 L636.42,402.19 L636.64,402.64 L636.84,403.08 L637.03,403.53 L637.20,403.97 L637.36,404.42 L637.51,404.87 L637.64,405.31 L637.76,405.76 L637.86,406.15 L637.91,406.54 L637.95,407.00 L637.98,407.45 L637.99,407.91 L637.99,408.37 L637.95,408.86 L640.56,409.14 L640.62,408.63 L640.70,408.09 L640.76,407.55 L640.81,407.00 L640.83,406.46 L640.84,405.85 L640.78,405.24 L640.71,404.69 L640.62,404.13 L640.52,403.58 L640.40,403.03 L640.26,402.47 L640.11,401.92 L639.93,401.36 L639.75,400.81 L639.54,400.25 L639.32,399.70 L639.09,399.14 L638.84,398.59 L638.57,398.04 L638.29,397.49 L637.99,396.94 L637.68,396.39 L637.35,395.84 L637.02,395.29 L636.66,394.74 L636.29,394.20 L635.91,393.65 L635.52,393.11 L635.11,392.57 L634.70,392.02 L634.26,391.48 L633.82,390.94 L633.37,390.41 L632.90,389.87 L632.42,389.33 L631.94,388.80 L631.44,388.26 L630.93,387.73 L630.41,387.20 L629.89,386.67 L629.35,386.14 L628.80,385.61 L628.25,385.08 L627.69,384.56 L627.12,384.03 L626.54,383.51 L625.95,382.99 L625.36,382.47 L624.76,381.95 L624.16,381.43 L623.54,380.91 L622.93,380.39 L622.31,379.88 L621.68,379.36 L621.05,378.85 L620.41,378.34 L619.77,377.82 L619.13,377.31 L618.48,376.80 L617.83,376.30 L617.18,375.79 L616.53,375.28 L615.88,374.78 L615.22,374.28 L614.56,373.77 L613.90,373.27 L613.25,372.77 L612.59,372.27 L611.93,371.77 L611.27,371.28 L610.62,370.78 L609.97,370.29 L609.31,369.79 L608.67,369.30 L608.02,368.81 L607.38,368.32 L606.74,367.83 L606.10,367.34 L605.47,366.85 L604.84,366.37 L604.22,365.88 L603.60,365.40 L602.99,364.91 L602.38,364.43 L601.78,363.95 L601.19,363.47 L600.60,362.99 L600.02,362.52 L599.45,362.04 L598.88,361.57 L598.33,361.09 L597.78,360.62 L597.24,360.15 L596.71,359.68 L596.19,359.21 L595.67,358.74 L595.17,358.27 L594.68,357.81 L594.20,357.34 L593.73,356.88 L593.27,356.42 L592.82,355.95 L592.38,355.49 L591.95,355.04 L591.54,354.58 L591.13,354.12 L590.74,353.66 L590.36,353.21 L590.00,352.76 L589.64,352.30 L589.30,351.85 L588.97,351.40 L588.65,350.95 L588.35,350.50 L588.06,350.05 L587.78,349.61 L587.52,349.16 L587.27,348.71 L587.03,348.27 L586.81,347.82 L586.60,347.38 L586.40,346.93 L586.21,346.49 L586.04,346.04 L585.89,345.59 L585.74,345.15 L585.61,344.70 L585.50,344.25 L585.39,343.80 L585.31,343.35 L585.23,342.90 L585.17,342.44 L585.13,341.99 L585.09,341.51Z" fill="#62a05a" stroke="#3d6e38" stroke-width="0.8" stroke-linejoin="round"/>
<path d="M571.91,476.34 L571.81,476.85 L571.72,477.39 L571.65,477.93 L571.60,478.48 L571.57,479.02 L571.55,479.57 L571.55,480.12 L571.56,480.67 L571.60,481.22 L571.65,481.78 L571.72,482.33 L571.80,482.89 L571.90,483.44 L572.02,484.00 L572.16,484.56 L572.31,485.11 L572.48,485.67 L572.66,486.22 L572.86,486.78 L573.07,487.33 L573.30,487.89 L573.55,488.44 L573.81,488.99 L574.08,489.55 L574.36,490.08 L578.05,487.92 L577.74,487.45 L577.45,487.01 L577.18,486.56 L576.92,486.11 L576.68,485.67 L576.44,485.22 L576.22,484.78 L576.01,484.33 L575.82,483.89 L575.63,483.44 L575.46,483.00 L575.31,482.56 L575.16,482.11 L575.03,481.67 L574.92,481.22 L574.81,480.78 L574.72,480.33 L574.65,479.88 L574.59,479.43 L574.54,478.98 L574.50,478.52 L574.48,478.07 L574.48,477.61 L574.49,477.15 L574.51,476.66Z" fill="#62a05a" stroke="#3d6e38" stroke-width="0.8" stroke-linejoin="round"/>
<path d="M631.90,338.07 L632.36,338.54 L632.80,339.01 L633.22,339.46 L633.64,339.92 L634.04,340.38 L634.43,340.84 L634.81,341.29 L635.18,341.74 L635.53,342.20 L635.88,342.65 L636.20,343.10 L636.52,343.55 L636.82,344.00 L637.11,344.45 L637.39,344.89 L637.66,345.34 L637.91,345.79 L638.14,346.23 L638.37,346.68 L638.58,347.12 L638.78,347.57 L638.96,348.01 L639.13,348.46 L639.29,348.90 L639.43,349.35 L639.56,349.80 L639.68,350.25 L639.78,350.70 L639.87,351.15 L639.94,351.60 L640.00,352.05 L640.05,352.51 L640.08,352.97 L640.05,353.45 L642.69,353.55 L642.70,353.03 L642.74,352.49 L642.76,351.95 L642.77,351.40 L642.75,350.85 L642.72,350.30 L642.68,349.75 L642.61,349.20 L642.53,348.65 L642.43,348.10 L642.32,347.54 L642.18,346.99 L642.03,346.43 L641.87,345.88 L641.69,345.32 L641.49,344.77 L641.27,344.21 L641.04,343.66 L640.79,343.11 L640.53,342.55 L640.25,342.00 L639.96,341.45 L639.66,340.90 L639.33,340.35 L639.00,339.80 L638.65,339.26 L638.29,338.71 L637.91,338.16 L637.52,337.62 L637.12,337.08 L636.70,336.54 L636.28,335.99 L635.84,335.46 L635.39,334.93Z" fill="#62a05a" stroke="#3d6e38" stroke-width="0.8" stroke-linejoin="round"/>
<path d="M578.55,420.90 L578.47,421.41 L578.41,421.96 L578.37,422.50 L578.34,423.04 L578.33,423.59 L578.34,424.14 L578.37,424.69 L578.41,425.24 L578.47,425.80 L578.54,426.35 L578.64,426.91 L578.75,427.46 L578.87,428.02 L579.02,428.57 L579.18,429.13 L579.35,429.69 L579.55,430.24 L579.76,430.80 L579.98,431.35 L580.22,431.90 L580.47,432.46 L580.74,433.01 L581.02,433.56 L581.32,434.11 L581.63,434.66 L581.96,435.21 L582.30,435.75 L582.65,436.30 L583.02,436.85 L583.39,437.39 L583.78,437.93 L584.18,438.47 L584.60,439.01 L585.02,439.55 L585.46,440.09 L585.90,440.63 L586.36,441.16 L586.83,441.70 L587.31,442.23 L587.79,442.76 L588.29,443.29 L588.79,443.82 L589.31,444.35 L589.83,444.88 L590.36,445.40 L590.90,445.93 L591.44,446.45 L591.99,446.97 L592.55,447.49 L593.12,448.01 L593.69,448.53 L594.26,449.05 L594.84,449.57 L595.43,450.08 L596.02,450.60 L596.62,451.11 L597.22,451.62 L597.82,452.13 L598.42,452.64 L599.03,453.15 L599.64,453.66 L600.25,454.16 L600.87,454.67 L601.48,455.17 L602.10,455.67 L602.72,456.17 L603.33,456.68 L603.95,457.17 L604.57,457.67 L605.18,458.17 L605.80,458.67 L606.41,459.16 L607.02,459.65 L607.63,460.15 L608.23,460.64 L608.84,461.13 L609.43,461.62 L610.03,462.10 L610.62,462.59 L611.21,463.08 L611.79,463.56 L612.37,464.04 L612.94,464.53 L613.50,465.01 L614.06,465.49 L614.61,465.97 L615.16,466.44 L615.70,466.92 L616.23,467.39 L616.75,467.87 L617.27,468.34 L617.77,468.81 L618.27,469.28 L618.76,469.75 L619.24,470.22 L619.71,470.69 L620.17,471.15 L620.61,471.60 L621.01,472.04 L621.43,472.50 L621.83,472.96 L622.22,473.42 L622.60,473.88 L622.96,474.33 L623.32,474.79 L623.67,475.24 L624.00,475.69 L624.32,476.15 L624.63,476.60 L624.93,477.04 L625.21,477.49 L625.48,477.94 L625.74,478.39 L625.99,478.83 L626.22,479.28 L626.44,479.72 L626.65,480.17 L626.85,480.61 L627.03,481.05 L627.20,481.50 L627.36,481.94 L627.50,482.39 L627.63,482.83 L627.74,483.28 L627.85,483.72 L627.94,484.17 L628.01,484.62 L628.08,485.07 L628.12,485.52 L628.16,485.98 L628.18,486.43 L628.18,486.89 L628.18,487.35 L628.15,487.82 L628.07,488.29 L630.68,488.71 L630.75,488.18 L630.85,487.65 L630.94,487.11 L631.01,486.57 L631.06,486.02 L631.10,485.48 L631.11,484.93 L631.11,484.38 L631.10,483.83 L631.06,483.28 L631.01,482.72 L630.95,482.17 L630.86,481.61 L630.76,481.06 L630.64,480.50 L630.51,479.95 L630.35,479.39 L630.19,478.83 L630.00,478.28 L629.80,477.72 L629.59,477.17 L629.36,476.61 L629.11,476.06 L628.85,475.51 L628.58,474.96 L628.29,474.40 L627.99,473.85 L627.67,473.31 L627.35,472.76 L627.00,472.21 L626.65,471.67 L626.28,471.12 L625.90,470.58 L625.51,470.04 L625.11,469.50 L624.69,468.96 L624.25,468.40 L623.78,467.85 L623.32,467.31 L622.84,466.78 L622.36,466.25 L621.87,465.72 L621.36,465.19 L620.85,464.66 L620.33,464.13 L619.81,463.61 L619.27,463.08 L618.73,462.56 L618.18,462.03 L617.62,461.51 L617.06,460.99 L616.49,460.47 L615.92,459.96 L615.34,459.44 L614.75,458.92 L614.16,458.41 L613.57,457.90 L612.97,457.38 L612.37,456.87 L611.77,456.36 L611.16,455.85 L610.55,455.35 L609.94,454.84 L609.32,454.33 L608.71,453.83 L608.09,453.33 L607.48,452.83 L606.86,452.32 L606.24,451.83 L605.63,451.33 L605.01,450.83 L604.40,450.33 L603.78,449.84 L603.17,449.34 L602.56,448.85 L601.96,448.36 L601.35,447.87 L600.75,447.38 L600.16,446.89 L599.56,446.40 L598.98,445.92 L598.39,445.43 L597.81,444.95 L597.24,444.47 L596.67,443.99 L596.11,443.51 L595.56,443.03 L595.01,442.55 L594.47,442.07 L593.94,441.60 L593.41,441.12 L592.89,440.65 L592.38,440.18 L591.88,439.71 L591.39,439.24 L590.91,438.77 L590.43,438.30 L589.97,437.84 L589.52,437.37 L589.07,436.91 L588.64,436.45 L588.22,435.99 L587.80,435.53 L587.40,435.07 L587.01,434.61 L586.63,434.15 L586.27,433.70 L585.91,433.25 L585.57,432.79 L585.24,432.34 L584.92,431.89 L584.61,431.44 L584.32,430.99 L584.04,430.54 L583.77,430.10 L583.52,429.65 L583.27,429.20 L583.04,428.76 L582.83,428.31 L582.62,427.87 L582.43,427.43 L582.26,426.98 L582.09,426.54 L581.94,426.09 L581.80,425.65 L581.68,425.20 L581.57,424.76 L581.47,424.31 L581.39,423.86 L581.32,423.41 L581.27,422.96 L581.22,422.50 L581.20,422.04 L581.18,421.59 L581.19,421.10Z" fill="#62a05a" stroke="#3d6e38" stroke-width="0.8" stroke-linejoin="round"/>
<line x1="588.95" y1="341.50" x2="610.56" y2="339.50" stroke="#2d3f9e" stroke-width="3.8"/>
<line x1="611.56" y1="339.50" x2="633.17" y2="337.50" stroke="#33479f" stroke-width="3.4"/>
<rect x="582.85" y="338.10" width="5.2" height="4.8" fill="#aee0a2" stroke="#5f8a58" stroke-width="0.5"/>
<path d="M583.85,342.10 L585.65,338.30 L587.45,341.10 Z" fill="#e0201a"/>
<rect x="632.07" y="335.10" width="5.2" height="4.8" fill="#aee0a2" stroke="#5f8a58" stroke-width="0.5"/>
<path d="M633.07,339.10 L634.87,335.30 L636.67,338.10 Z" fill="#e0201a"/>
<line x1="592.00" y1="354.10" x2="614.69" y2="352.10" stroke="#2d3f9e" stroke-width="3.8"/>
<line x1="615.69" y1="352.10" x2="638.39" y2="350.10" stroke="#9dc4ee" stroke-width="3.4"/>
<rect x="585.90" y="350.70" width="5.2" height="4.8" fill="#aee0a2" stroke="#5f8a58" stroke-width="0.5"/>
<path d="M586.90,354.70 L588.70,350.90 L590.50,353.70 Z" fill="#e0201a"/>
<rect x="637.29" y="347.70" width="5.2" height="4.8" fill="#aee0a2" stroke="#5f8a58" stroke-width="0.5"/>
<path d="M638.29,351.70 L640.09,347.90 L641.89,350.70 Z" fill="#e0201a"/>
<line x1="603.54" y1="366.70" x2="618.23" y2="364.70" stroke="#2d3f9e" stroke-width="3.8"/>
<line x1="619.23" y1="364.70" x2="633.92" y2="362.70" stroke="#33479f" stroke-width="3.4"/>
<rect x="597.44" y="363.30" width="5.2" height="4.8" fill="#aee0a2" stroke="#5f8a58" stroke-width="0.5"/>
<path d="M598.44,367.30 L600.24,363.50 L602.04,366.30 Z" fill="#e0201a"/>
<rect x="632.82" y="360.30" width="5.2" height="4.8" fill="#aee0a2" stroke="#5f8a58" stroke-width="0.5"/>
<path d="M633.82,364.30 L635.62,360.50 L637.42,363.30 Z" fill="#e0201a"/>
<line x1="615.91" y1="379.30" x2="619.12" y2="377.30" stroke="#2d3f9e" stroke-width="3.8"/>
<line x1="620.12" y1="377.30" x2="623.33" y2="375.30" stroke="#33479f" stroke-width="3.4"/>
<rect x="613.47" y="375.90" width="5.2" height="4.8" fill="#aee0a2" stroke="#5f8a58" stroke-width="0.5"/>
<path d="M614.47,379.90 L616.27,376.10 L618.07,378.90 Z" fill="#e0201a"/>
<rect x="620.03" y="372.90" width="5.2" height="4.8" fill="#aee0a2" stroke="#5f8a58" stroke-width="0.5"/>
<path d="M621.03,376.90 L622.83,373.10 L624.63,375.90 Z" fill="#e0201a"/>
<line x1="626.46" y1="391.90" x2="618.24" y2="389.90" stroke="#2d3f9e" stroke-width="3.8"/>
<line x1="617.24" y1="389.90" x2="609.03" y2="387.90" stroke="#9dc4ee" stroke-width="3.4"/>
<rect x="625.51" y="388.50" width="5.2" height="4.8" fill="#aee0a2" stroke="#5f8a58" stroke-width="0.5"/>
<path d="M626.51,392.50 L628.31,388.70 L630.11,391.50 Z" fill="#e0201a"/>
<rect x="606.04" y="385.50" width="5.2" height="4.8" fill="#aee0a2" stroke="#5f8a58" stroke-width="0.5"/>
<path d="M607.04,389.50 L608.84,385.70 L610.64,388.50 Z" fill="#e0201a"/>
<line x1="633.47" y1="404.50" x2="614.48" y2="402.50" stroke="#2d3f9e" stroke-width="3.8"/>
<line x1="613.48" y1="402.50" x2="594.49" y2="400.50" stroke="#33479f" stroke-width="3.4"/>
<rect x="634.37" y="401.10" width="5.2" height="4.8" fill="#aee0a2" stroke="#5f8a58" stroke-width="0.5"/>
<path d="M635.37,405.10 L637.17,401.30 L638.97,404.10 Z" fill="#e0201a"/>
<rect x="590.39" y="398.10" width="5.2" height="4.8" fill="#aee0a2" stroke="#5f8a58" stroke-width="0.5"/>
<path d="M591.39,402.10 L593.19,398.30 L594.99,401.10 Z" fill="#e0201a"/>
<line x1="632.32" y1="417.10" x2="608.92" y2="415.10" stroke="#2d3f9e" stroke-width="3.8"/>
<line x1="607.92" y1="415.10" x2="584.52" y2="413.10" stroke="#33479f" stroke-width="3.4"/>
<rect x="633.22" y="413.70" width="5.2" height="4.8" fill="#aee0a2" stroke="#5f8a58" stroke-width="0.5"/>
<path d="M634.22,417.70 L636.02,413.90 L637.82,416.70 Z" fill="#e0201a"/>
<rect x="580.42" y="410.70" width="5.2" height="4.8" fill="#aee0a2" stroke="#5f8a58" stroke-width="0.5"/>
<path d="M581.42,414.70 L583.22,410.90 L585.02,413.70 Z" fill="#e0201a"/>
<line x1="621.60" y1="429.70" x2="603.11" y2="427.70" stroke="#2d3f9e" stroke-width="3.8"/>
<line x1="602.11" y1="427.70" x2="583.63" y2="425.70" stroke="#9dc4ee" stroke-width="3.4"/>
<rect x="622.50" y="426.30" width="5.2" height="4.8" fill="#aee0a2" stroke="#5f8a58" stroke-width="0.5"/>
<path d="M623.50,430.30 L625.30,426.50 L627.10,429.30 Z" fill="#e0201a"/>
<rect x="579.53" y="423.30" width="5.2" height="4.8" fill="#aee0a2" stroke="#5f8a58" stroke-width="0.5"/>
<path d="M580.53,427.30 L582.33,423.50 L584.13,426.30 Z" fill="#e0201a"/>
<line x1="606.78" y1="442.30" x2="599.22" y2="440.30" stroke="#2d3f9e" stroke-width="3.8"/>
<line x1="598.22" y1="440.30" x2="590.66" y2="438.30" stroke="#33479f" stroke-width="3.4"/>
<rect x="605.59" y="438.90" width="5.2" height="4.8" fill="#aee0a2" stroke="#5f8a58" stroke-width="0.5"/>
<path d="M606.59,442.90 L608.39,439.10 L610.19,441.90 Z" fill="#e0201a"/>
<rect x="587.82" y="435.90" width="5.2" height="4.8" fill="#aee0a2" stroke="#5f8a58" stroke-width="0.5"/>
<path d="M588.82,439.90 L590.62,436.10 L592.42,438.90 Z" fill="#e0201a"/>
<line x1="593.36" y1="454.90" x2="597.26" y2="452.90" stroke="#2d3f9e" stroke-width="3.8"/>
<line x1="598.26" y1="452.90" x2="602.17" y2="450.90" stroke="#33479f" stroke-width="3.4"/>
<rect x="590.67" y="451.50" width="5.2" height="4.8" fill="#aee0a2" stroke="#5f8a58" stroke-width="0.5"/>
<path d="M591.67,455.50 L593.47,451.70 L595.27,454.50 Z" fill="#e0201a"/>
<rect x="599.02" y="448.50" width="5.2" height="4.8" fill="#aee0a2" stroke="#5f8a58" stroke-width="0.5"/>
<path d="M600.02,452.50 L601.82,448.70 L603.62,451.50 Z" fill="#e0201a"/>
<line x1="583.32" y1="467.50" x2="598.67" y2="465.50" stroke="#2d3f9e" stroke-width="3.8"/>
<line x1="599.67" y1="465.50" x2="615.02" y2="463.50" stroke="#9dc4ee" stroke-width="3.4"/>
<rect x="577.22" y="464.10" width="5.2" height="4.8" fill="#aee0a2" stroke="#5f8a58" stroke-width="0.5"/>
<path d="M578.22,468.10 L580.02,464.30 L581.82,467.10 Z" fill="#e0201a"/>
<rect x="613.92" y="461.10" width="5.2" height="4.8" fill="#aee0a2" stroke="#5f8a58" stroke-width="0.5"/>
<path d="M614.92,465.10 L616.72,461.30 L618.52,464.10 Z" fill="#e0201a"/>
<line x1="578.06" y1="480.10" x2="600.95" y2="478.10" stroke="#2d3f9e" stroke-width="3.8"/>
<line x1="601.95" y1="478.10" x2="624.83" y2="476.10" stroke="#33479f" stroke-width="3.4"/>
<rect x="571.96" y="476.70" width="5.2" height="4.8" fill="#aee0a2" stroke="#5f8a58" stroke-width="0.5"/>
<path d="M572.96,480.70 L574.76,476.90 L576.56,479.70 Z" fill="#e0201a"/>
<rect x="623.73" y="473.70" width="5.2" height="4.8" fill="#aee0a2" stroke="#5f8a58" stroke-width="0.5"/>
<path d="M624.73,477.70 L626.53,473.90 L628.33,476.70 Z" fill="#e0201a"/>
<path d="M582.77,335.89 L582.66,336.44 L582.56,337.01 L582.48,337.57 L582.42,338.14 L582.37,338.70 L582.34,339.26 L582.33,339.82 L582.34,340.37 L582.36,340.92 L582.36,341.45 L585.20,341.55 L585.24,341.08 L585.33,340.63 L585.44,340.18 L585.56,339.74 L585.70,339.30 L585.85,338.86 L586.01,338.43 L586.18,337.99 L586.37,337.56 L586.58,337.11Z" fill="#aee0a2" stroke="#5f8a58" stroke-width="0.9" stroke-linejoin="round"/>
<path d="M637.84,408.80 L637.71,409.27 L637.57,409.71 L637.42,410.15 L637.25,410.59 L637.07,411.03 L636.87,411.46 L636.67,411.89 L636.45,412.32 L636.21,412.75 L635.96,413.18 L635.70,413.61 L635.43,414.03 L635.14,414.46 L634.84,414.89 L634.53,415.31 L634.21,415.74 L633.87,416.16 L633.52,416.59 L633.15,417.02 L632.78,417.45 L632.39,417.88 L631.99,418.30 L631.57,418.74 L631.15,419.17 L630.71,419.60 L630.26,420.03 L629.80,420.47 L629.32,420.90 L628.84,421.34 L628.34,421.78 L627.83,422.22 L627.31,422.66 L626.78,423.10 L626.24,423.55 L625.69,423.99 L625.12,424.44 L624.55,424.89 L623.97,425.34 L623.38,425.79 L622.78,426.25 L622.17,426.70 L621.55,427.16 L620.92,427.62 L620.29,428.08 L619.64,428.54 L618.99,429.00 L618.34,429.46 L617.67,429.93 L617.00,430.40 L616.32,430.87 L615.64,431.34 L614.95,431.81 L614.26,432.29 L613.56,432.76 L612.85,433.24 L612.14,433.72 L611.43,434.20 L610.71,434.69 L609.99,435.17 L609.27,435.66 L608.55,436.15 L607.82,436.64 L607.09,437.13 L606.36,437.62 L605.63,438.12 L604.90,438.61 L604.16,439.11 L603.43,439.61 L602.70,440.12 L601.97,440.62 L601.24,441.13 L600.51,441.63 L599.78,442.14 L599.06,442.65 L598.33,443.17 L597.61,443.68 L596.90,444.20 L596.19,444.72 L595.48,445.24 L594.77,445.76 L594.07,446.28 L593.38,446.81 L592.69,447.33 L592.01,447.86 L591.33,448.39 L590.66,448.92 L589.99,449.45 L589.34,449.99 L588.69,450.53 L588.05,451.06 L587.41,451.60 L586.79,452.15 L586.17,452.69 L585.56,453.23 L584.97,453.78 L584.38,454.33 L583.80,454.88 L583.23,455.43 L582.68,455.98 L582.13,456.53 L581.60,457.09 L581.08,457.65 L580.56,458.20 L580.07,458.76 L579.58,459.32 L579.11,459.89 L578.65,460.45 L578.20,461.01 L577.77,461.58 L577.35,462.15 L576.94,462.72 L576.55,463.28 L576.18,463.85 L575.82,464.43 L575.47,465.00 L575.14,465.57 L574.83,466.14 L574.53,466.72 L574.25,467.29 L573.98,467.86 L573.73,468.44 L573.51,468.98 L573.29,469.53 L573.08,470.10 L572.88,470.67 L572.69,471.25 L572.53,471.82 L572.38,472.38 L572.25,472.95 L572.14,473.52 L572.04,474.08 L571.97,474.64 L571.91,475.20 L571.87,475.75 L571.80,476.28 L574.61,476.72 L574.71,476.25 L574.85,475.80 L575.02,475.36 L575.19,474.92 L575.38,474.48 L575.58,474.05 L575.80,473.62 L576.02,473.18 L576.27,472.75 L576.52,472.33 L576.79,471.90 L577.07,471.47 L577.38,471.02 L577.68,470.56 L577.99,470.14 L578.30,469.71 L578.63,469.28 L578.97,468.86 L579.33,468.43 L579.69,468.00 L580.07,467.57 L580.47,467.15 L580.87,466.72 L581.29,466.28 L581.72,465.85 L582.16,465.42 L582.61,464.99 L583.08,464.55 L583.56,464.11 L584.05,463.68 L584.55,463.24 L585.06,462.80 L585.58,462.35 L586.12,461.91 L586.66,461.47 L587.22,461.02 L587.78,460.57 L588.36,460.12 L588.94,459.67 L589.53,459.22 L590.14,458.77 L590.75,458.31 L591.37,457.85 L592.00,457.40 L592.64,456.94 L593.28,456.47 L593.94,456.01 L594.59,455.55 L595.26,455.08 L595.93,454.61 L596.61,454.14 L597.30,453.67 L597.99,453.19 L598.69,452.72 L599.39,452.24 L600.09,451.76 L600.80,451.28 L601.52,450.80 L602.23,450.32 L602.95,449.83 L603.68,449.35 L604.40,448.86 L605.13,448.37 L605.86,447.87 L606.59,447.38 L607.32,446.88 L608.05,446.39 L608.79,445.89 L609.52,445.39 L610.25,444.88 L610.98,444.38 L611.71,443.87 L612.44,443.36 L613.17,442.85 L613.89,442.34 L614.61,441.83 L615.33,441.31 L616.05,440.80 L616.76,440.28 L617.47,439.76 L618.17,439.24 L618.87,438.71 L619.56,438.19 L620.25,437.66 L620.93,437.13 L621.61,436.60 L622.28,436.07 L622.94,435.54 L623.59,435.00 L624.24,434.46 L624.88,433.92 L625.51,433.38 L626.13,432.84 L626.75,432.30 L627.35,431.75 L627.94,431.21 L628.53,430.66 L629.10,430.11 L629.67,429.56 L630.22,429.01 L630.76,428.45 L631.30,427.90 L631.81,427.34 L632.32,426.78 L632.82,426.22 L633.30,425.66 L633.77,425.10 L634.22,424.53 L634.67,423.97 L635.10,423.40 L635.51,422.83 L635.91,422.26 L636.30,421.70 L636.67,421.12 L637.03,420.55 L637.37,419.98 L637.69,419.41 L638.00,418.84 L638.30,418.26 L638.57,417.69 L638.84,417.11 L639.08,416.54 L639.31,415.97 L639.52,415.39 L639.71,414.82 L639.88,414.25 L640.04,413.68 L640.18,413.11 L640.30,412.54 L640.41,411.97 L640.50,411.41 L640.56,410.85 L640.61,410.29 L640.65,409.73 L640.66,409.20Z" fill="#aee0a2" stroke="#5f8a58" stroke-width="0.9" stroke-linejoin="round"/>
<path d="M639.93,353.40 L639.84,353.87 L639.73,354.32 L639.61,354.76 L639.47,355.20 L639.32,355.64 L639.16,356.07 L638.99,356.51 L638.80,356.94 L638.60,357.37 L638.38,357.79 L638.15,358.22 L637.91,358.64 L637.66,359.07 L637.40,359.49 L637.12,359.92 L636.83,360.34 L636.52,360.77 L636.21,361.19 L635.88,361.62 L635.54,362.04 L635.18,362.47 L634.82,362.90 L634.44,363.33 L634.05,363.76 L633.65,364.19 L633.23,364.62 L632.81,365.05 L632.37,365.49 L631.92,365.92 L631.46,366.36 L630.99,366.80 L630.51,367.24 L630.02,367.68 L629.51,368.12 L629.00,368.57 L628.47,369.01 L627.94,369.46 L627.39,369.91 L626.84,370.36 L626.28,370.81 L625.71,371.27 L625.13,371.72 L624.54,372.18 L623.94,372.64 L623.34,373.10 L622.73,373.56 L622.11,374.03 L621.48,374.49 L620.85,374.96 L620.21,375.43 L619.57,375.90 L618.92,376.37 L618.26,376.85 L617.60,377.32 L616.94,377.80 L616.27,378.28 L615.60,378.76 L614.92,379.25 L614.24,379.73 L613.56,380.22 L612.87,380.71 L612.19,381.20 L611.50,381.69 L610.81,382.18 L610.12,382.68 L609.43,383.18 L608.74,383.68 L608.04,384.18 L607.35,384.68 L606.66,385.19 L605.97,385.69 L605.29,386.20 L604.60,386.71 L603.92,387.22 L603.24,387.74 L602.56,388.25 L601.88,388.77 L601.21,389.29 L600.55,389.81 L599.88,390.33 L599.23,390.86 L598.57,391.38 L597.93,391.91 L597.29,392.44 L596.65,392.97 L596.02,393.50 L595.40,394.04 L594.79,394.57 L594.18,395.11 L593.58,395.65 L592.99,396.19 L592.41,396.74 L591.84,397.28 L591.28,397.83 L590.72,398.38 L590.18,398.93 L589.64,399.48 L589.12,400.03 L588.61,400.58 L588.11,401.14 L587.62,401.70 L587.14,402.26 L586.67,402.82 L586.22,403.38 L585.83,403.89 L585.40,404.40 L584.95,404.97 L584.50,405.53 L584.08,406.10 L583.66,406.67 L583.26,407.24 L582.87,407.81 L582.50,408.38 L582.15,408.95 L581.80,409.52 L581.48,410.09 L581.17,410.67 L580.88,411.24 L580.60,411.81 L580.34,412.39 L580.09,412.96 L579.87,413.53 L579.66,414.11 L579.47,414.68 L579.29,415.25 L579.13,415.82 L578.99,416.39 L578.87,416.96 L578.77,417.53 L578.68,418.09 L578.61,418.65 L578.56,419.21 L578.53,419.77 L578.51,420.32 L578.44,420.84 L581.30,421.16 L581.33,420.68 L581.46,420.23 L581.60,419.79 L581.76,419.35 L581.92,418.91 L582.11,418.47 L582.30,418.04 L582.51,417.61 L582.73,417.18 L582.96,416.75 L583.21,416.32 L583.47,415.89 L583.74,415.47 L584.03,415.04 L584.33,414.61 L584.64,414.19 L584.97,413.76 L585.30,413.33 L585.65,412.91 L586.02,412.48 L586.39,412.05 L586.78,411.62 L587.18,411.19 L587.60,410.76 L588.02,410.33 L588.46,409.90 L588.91,409.47 L589.37,409.03 L589.85,408.60 L590.38,408.11 L590.88,407.62 L591.35,407.18 L591.83,406.74 L592.32,406.30 L592.82,405.86 L593.33,405.42 L593.85,404.97 L594.38,404.52 L594.93,404.07 L595.48,403.62 L596.04,403.17 L596.60,402.72 L597.18,402.26 L597.77,401.81 L598.36,401.35 L598.96,400.89 L599.57,400.43 L600.19,399.96 L600.81,399.50 L601.44,399.03 L602.08,398.56 L602.72,398.09 L603.37,397.62 L604.02,397.14 L604.68,396.67 L605.35,396.19 L606.01,395.71 L606.68,395.23 L607.36,394.75 L608.04,394.26 L608.72,393.78 L609.40,393.29 L610.09,392.80 L610.78,392.31 L611.47,391.81 L612.16,391.32 L612.85,390.82 L613.54,390.32 L614.23,389.82 L614.92,389.32 L615.61,388.82 L616.30,388.31 L616.99,387.80 L617.68,387.29 L618.36,386.78 L619.04,386.27 L619.72,385.75 L620.40,385.24 L621.07,384.72 L621.74,384.20 L622.40,383.68 L623.06,383.15 L623.71,382.63 L624.36,382.10 L625.01,381.57 L625.64,381.04 L626.27,380.51 L626.90,379.97 L627.51,379.44 L628.12,378.90 L628.72,378.36 L629.31,377.82 L629.90,377.28 L630.47,376.73 L631.04,376.19 L631.60,375.64 L632.14,375.09 L632.68,374.54 L633.21,373.99 L633.72,373.43 L634.23,372.88 L634.72,372.32 L635.20,371.76 L635.67,371.20 L636.13,370.64 L636.58,370.08 L637.01,369.51 L637.43,368.95 L637.83,368.38 L638.22,367.81 L638.60,367.24 L638.96,366.67 L639.31,366.10 L639.64,365.53 L639.96,364.96 L640.27,364.38 L640.55,363.81 L640.82,363.23 L641.08,362.66 L641.32,362.08 L641.54,361.51 L641.74,360.93 L641.93,360.36 L642.10,359.78 L642.26,359.21 L642.39,358.63 L642.51,358.06 L642.61,357.49 L642.69,356.93 L642.76,356.36 L642.80,355.80 L642.83,355.24 L642.84,354.68 L642.83,354.13 L642.81,353.60Z" fill="#aee0a2" stroke="#5f8a58" stroke-width="0.9" stroke-linejoin="round"/>
<path d="M627.96,488.23 L627.80,488.72 L630.76,489.28 L630.79,488.77Z" fill="#aee0a2" stroke="#5f8a58" stroke-width="0.9" stroke-linejoin="round"/>
<path d="M493.65,519.54 L493.63,520.07 L493.63,520.61 L493.64,521.16 L493.68,521.71 L493.73,522.27 L493.80,522.82 L493.89,523.38 L494.00,523.93 L494.13,524.49 L494.27,525.05 L494.43,525.60 L494.61,526.16 L494.81,526.72 L495.02,527.28 L495.25,527.83 L495.50,528.39 L495.76,528.94 L496.04,529.50 L496.34,530.05 L496.65,530.60 L496.97,531.16 L497.31,531.71 L497.67,532.26 L498.04,532.81 L498.43,533.35 L498.82,533.90 L499.24,534.44 L499.66,534.99 L500.10,535.53 L500.55,536.07 L501.01,536.61 L501.49,537.15 L501.97,537.69 L502.47,538.22 L502.98,538.76 L503.50,539.29 L504.03,539.83 L504.57,540.36 L505.12,540.89 L505.67,541.42 L506.24,541.94 L506.82,542.47 L507.40,542.99 L507.99,543.52 L508.59,544.04 L509.20,544.56 L509.81,545.08 L510.43,545.60 L511.05,546.12 L511.68,546.64 L512.32,547.15 L512.96,547.67 L513.60,548.18 L514.25,548.69 L514.90,549.20 L515.55,549.71 L516.21,550.22 L516.87,550.72 L517.53,551.23 L518.19,551.73 L518.86,552.24 L519.52,552.74 L520.19,553.24 L520.85,553.74 L521.51,554.23 L522.18,554.73 L522.84,555.23 L523.50,555.72 L524.16,556.21 L524.81,556.71 L525.46,557.20 L526.11,557.69 L526.75,558.17 L527.40,558.66 L528.03,559.15 L528.66,559.63 L529.29,560.11 L529.91,560.60 L530.52,561.08 L531.13,561.56 L531.73,562.03 L532.32,562.51 L532.91,562.99 L533.48,563.46 L534.05,563.93 L534.61,564.41 L535.16,564.88 L535.71,565.35 L536.24,565.82 L536.76,566.28 L537.27,566.75 L537.78,567.21 L538.27,567.68 L538.75,568.14 L539.22,568.60 L539.67,569.06 L540.12,569.52 L540.55,569.97 L540.98,570.43 L541.38,570.88 L541.78,571.34 L542.16,571.79 L542.53,572.24 L542.89,572.69 L543.24,573.14 L543.57,573.59 L543.88,574.03 L544.19,574.48 L544.48,574.93 L544.75,575.37 L545.01,575.81 L545.26,576.26 L545.49,576.70 L545.71,577.14 L545.92,577.59 L546.11,578.03 L546.29,578.47 L546.45,578.91 L546.60,579.36 L546.74,579.80 L546.86,580.25 L546.96,580.70 L547.05,581.15 L547.13,581.60 L547.19,582.05 L547.24,582.51 L547.22,582.98 L549.87,583.02 L549.86,582.49 L549.89,581.95 L549.89,581.40 L549.88,580.85 L549.86,580.30 L549.81,579.75 L549.74,579.20 L549.66,578.64 L549.56,578.09 L549.44,577.53 L549.30,576.97 L549.14,576.41 L548.97,575.86 L548.78,575.30 L548.57,574.74 L548.35,574.19 L548.11,573.63 L547.85,573.07 L547.57,572.52 L547.28,571.97 L546.98,571.41 L546.66,570.86 L546.32,570.31 L545.97,569.76 L545.60,569.21 L545.22,568.66 L544.83,568.12 L544.42,567.57 L544.00,567.03 L543.57,566.48 L543.12,565.94 L542.66,565.40 L542.19,564.86 L541.71,564.32 L541.21,563.79 L540.71,563.25 L540.19,562.72 L539.67,562.18 L539.13,561.65 L538.59,561.12 L538.03,560.59 L537.47,560.07 L536.89,559.54 L536.31,559.01 L535.72,558.49 L535.13,557.97 L534.52,557.44 L533.91,556.92 L533.30,556.40 L532.68,555.89 L532.05,555.37 L531.41,554.85 L530.78,554.34 L530.13,553.83 L529.49,553.31 L528.84,552.80 L528.18,552.29 L527.53,551.79 L526.87,551.28 L526.21,550.77 L525.55,550.27 L524.88,549.77 L524.22,549.26 L523.55,548.76 L522.89,548.26 L522.22,547.76 L521.56,547.27 L520.90,546.77 L520.24,546.28 L519.58,545.78 L518.93,545.29 L518.27,544.80 L517.62,544.31 L516.98,543.82 L516.34,543.33 L515.70,542.85 L515.07,542.36 L514.44,541.88 L513.82,541.40 L513.20,540.92 L512.59,540.44 L511.99,539.96 L511.39,539.48 L510.81,539.01 L510.23,538.53 L509.65,538.06 L509.09,537.58 L508.54,537.11 L507.99,536.64 L507.46,536.17 L506.93,535.71 L506.41,535.24 L505.91,534.78 L505.41,534.31 L504.93,533.85 L504.46,533.39 L504.00,532.93 L503.55,532.47 L503.11,532.01 L502.68,531.56 L502.27,531.10 L501.87,530.65 L501.48,530.19 L501.11,529.74 L500.75,529.29 L500.40,528.84 L500.06,528.40 L499.74,527.95 L499.43,527.50 L499.14,527.06 L498.86,526.61 L498.59,526.17 L498.34,525.72 L498.10,525.28 L497.88,524.84 L497.67,524.40 L497.47,523.95 L497.29,523.51 L497.12,523.07 L496.97,522.62 L496.83,522.18 L496.70,521.73 L496.59,521.29 L496.50,520.84 L496.42,520.39 L496.35,519.93 L496.30,519.46Z" fill="#93534c" stroke="#6e3a36" stroke-width="0.8" stroke-linejoin="round"/>
<path d="M484.86,646.36 L484.76,646.87 L484.68,647.42 L484.62,647.96 L484.58,648.51 L484.56,649.06 L484.55,649.61 L484.56,650.16 L484.59,650.72 L484.64,651.28 L484.71,651.83 L484.79,652.39 L484.90,652.95 L485.02,653.51 L485.15,654.07 L485.31,654.63 L485.48,655.19 L485.67,655.75 L485.87,656.30 L486.09,656.86 L486.33,657.42 L486.59,657.97 L486.85,658.53 L487.14,659.08 L487.43,659.64 L487.75,660.19 L488.07,660.74 L488.41,661.29 L488.77,661.83 L489.13,662.38 L489.51,662.92 L489.91,663.47 L490.31,664.01 L490.73,664.55 L491.15,665.09 L491.59,665.63 L492.04,666.16 L492.50,666.70 L492.97,667.23 L493.45,667.77 L493.93,668.30 L494.43,668.83 L494.94,669.36 L495.44,669.88 L499.11,666.12 L498.59,665.64 L498.09,665.17 L497.60,664.70 L497.12,664.23 L496.64,663.77 L496.18,663.30 L495.72,662.84 L495.27,662.37 L494.84,661.91 L494.41,661.45 L494.00,660.99 L493.60,660.53 L493.21,660.08 L492.83,659.62 L492.46,659.17 L492.10,658.71 L491.76,658.26 L491.43,657.81 L491.11,657.36 L490.80,656.92 L490.51,656.47 L490.23,656.03 L489.96,655.58 L489.71,655.14 L489.47,654.70 L489.24,654.25 L489.02,653.81 L488.82,653.37 L488.64,652.93 L488.46,652.49 L488.30,652.05 L488.16,651.61 L488.02,651.17 L487.91,650.72 L487.80,650.28 L487.71,649.84 L487.64,649.39 L487.57,648.94 L487.53,648.49 L487.49,648.04 L487.48,647.58 L487.47,647.13 L487.49,646.64Z" fill="#93534c" stroke="#6e3a36" stroke-width="0.8" stroke-linejoin="round"/>
<path d="M542.39,519.29 L542.77,519.76 L543.14,520.21 L543.48,520.65 L543.82,521.10 L544.14,521.55 L544.45,522.00 L544.74,522.44 L545.02,522.89 L545.29,523.33 L545.54,523.77 L545.78,524.22 L546.00,524.66 L546.21,525.10 L546.40,525.54 L546.59,525.99 L546.75,526.43 L546.91,526.88 L547.05,527.32 L547.17,527.77 L547.28,528.21 L547.38,528.66 L547.46,529.11 L547.52,529.56 L547.57,530.02 L547.58,530.50 L550.21,530.50 L550.22,529.98 L550.24,529.44 L550.24,528.89 L550.23,528.34 L550.19,527.79 L550.14,527.23 L550.07,526.68 L549.98,526.12 L549.87,525.57 L549.75,525.01 L549.60,524.46 L549.44,523.90 L549.27,523.34 L549.07,522.78 L548.86,522.23 L548.63,521.67 L548.38,521.11 L548.12,520.56 L547.84,520.00 L547.54,519.45 L547.23,518.90 L546.91,518.35 L546.57,517.79 L546.21,517.24 L545.85,516.71Z" fill="#93534c" stroke="#6e3a36" stroke-width="0.8" stroke-linejoin="round"/>
<path d="M492.61,593.84 L492.51,594.36 L492.42,594.90 L492.36,595.45 L492.31,595.99 L492.28,596.54 L492.27,597.10 L492.28,597.65 L492.30,598.20 L492.34,598.76 L492.41,599.32 L492.48,599.87 L492.58,600.43 L492.70,600.99 L492.83,601.55 L492.98,602.11 L493.15,602.67 L493.33,603.23 L493.53,603.79 L493.75,604.34 L493.98,604.90 L494.23,605.46 L494.49,606.01 L494.77,606.57 L495.06,607.12 L495.37,607.67 L495.69,608.22 L496.03,608.77 L496.38,609.32 L496.74,609.87 L497.12,610.41 L497.51,610.95 L497.91,611.50 L498.32,612.04 L498.74,612.58 L499.18,613.12 L499.62,613.65 L500.08,614.19 L500.55,614.72 L501.02,615.26 L501.51,615.79 L502.00,616.32 L502.50,616.85 L503.01,617.37 L503.53,617.90 L504.06,618.43 L504.59,618.95 L505.13,619.47 L505.68,619.99 L506.23,620.51 L506.79,621.03 L507.35,621.55 L507.92,622.06 L508.50,622.57 L509.07,623.09 L509.65,623.60 L510.24,624.11 L510.82,624.62 L511.41,625.12 L512.00,625.63 L512.59,626.14 L513.19,626.64 L513.78,627.14 L514.37,627.64 L514.97,628.14 L515.56,628.64 L516.15,629.14 L516.75,629.63 L517.33,630.13 L517.92,630.62 L518.51,631.11 L519.09,631.60 L519.67,632.09 L520.24,632.58 L520.81,633.06 L521.38,633.55 L521.94,634.03 L522.50,634.52 L523.05,635.00 L523.59,635.48 L524.13,635.95 L524.66,636.43 L525.19,636.91 L525.71,637.38 L526.21,637.85 L526.72,638.33 L527.21,638.80 L527.69,639.27 L528.17,639.73 L528.63,640.20 L529.09,640.66 L529.53,641.13 L529.97,641.59 L530.39,642.05 L530.81,642.51 L531.21,642.97 L531.60,643.42 L531.98,643.88 L532.35,644.33 L532.70,644.78 L533.04,645.24 L533.38,645.68 L533.69,646.13 L534.00,646.58 L534.29,647.03 L534.57,647.47 L534.84,647.92 L535.09,648.36 L535.33,648.80 L535.56,649.24 L535.78,649.69 L535.98,650.13 L536.16,650.57 L536.34,651.01 L536.50,651.45 L536.64,651.89 L536.77,652.33 L536.89,652.77 L536.99,653.22 L537.08,653.66 L537.16,654.11 L537.22,654.56 L537.27,655.01 L537.30,655.46 L537.32,655.92 L537.32,656.37 L537.31,656.83 L537.25,657.31 L539.85,657.69 L539.93,657.17 L540.03,656.63 L540.11,656.08 L540.17,655.54 L540.21,654.99 L540.24,654.44 L540.24,653.89 L540.23,653.34 L540.20,652.78 L540.15,652.23 L540.09,651.67 L540.00,651.11 L539.90,650.55 L539.78,649.99 L539.65,649.43 L539.49,648.87 L539.32,648.31 L539.13,647.76 L538.93,647.20 L538.71,646.64 L538.47,646.08 L538.22,645.53 L537.95,644.97 L537.67,644.42 L537.37,643.87 L537.06,643.32 L536.73,642.76 L536.39,642.22 L536.04,641.67 L535.67,641.12 L535.29,640.58 L534.90,640.03 L534.50,639.49 L534.08,638.95 L533.65,638.41 L533.22,637.87 L532.77,637.34 L532.31,636.80 L531.84,636.27 L531.36,635.73 L530.87,635.20 L530.38,634.67 L529.87,634.15 L529.36,633.62 L528.84,633.09 L528.31,632.57 L527.77,632.05 L527.23,631.52 L526.68,631.00 L526.13,630.48 L525.57,629.97 L525.01,629.45 L524.44,628.94 L523.86,628.42 L523.28,627.91 L522.70,627.40 L522.12,626.89 L521.53,626.38 L520.94,625.87 L520.35,625.37 L519.76,624.86 L519.17,624.36 L518.57,623.86 L517.98,623.36 L517.39,622.86 L516.79,622.36 L516.20,621.86 L515.61,621.37 L515.02,620.88 L514.43,620.38 L513.85,619.89 L513.27,619.40 L512.69,618.91 L512.11,618.43 L511.55,617.94 L510.98,617.45 L510.42,616.97 L509.86,616.49 L509.32,616.01 L508.77,615.53 L508.24,615.05 L507.71,614.57 L507.18,614.10 L506.67,613.63 L506.16,613.15 L505.66,612.68 L505.17,612.21 L504.69,611.74 L504.22,611.28 L503.76,610.81 L503.30,610.35 L502.86,609.88 L502.43,609.42 L502.01,608.96 L501.60,608.50 L501.20,608.05 L500.81,607.59 L500.43,607.13 L500.07,606.68 L499.72,606.23 L499.38,605.78 L499.05,605.33 L498.73,604.88 L498.43,604.43 L498.14,603.99 L497.87,603.54 L497.60,603.10 L497.35,602.66 L497.12,602.21 L496.89,601.77 L496.68,601.33 L496.48,600.89 L496.30,600.45 L496.13,600.01 L495.98,599.57 L495.83,599.13 L495.71,598.68 L495.59,598.24 L495.49,597.80 L495.41,597.35 L495.33,596.90 L495.28,596.46 L495.23,596.01 L495.21,595.55 L495.19,595.10 L495.20,594.64 L495.22,594.16Z" fill="#93534c" stroke="#6e3a36" stroke-width="0.8" stroke-linejoin="round"/>
<line x1="499.97" y1="521.50" x2="520.58" y2="519.50" stroke="#2d3f9e" stroke-width="3.8"/>
<line x1="521.58" y1="519.50" x2="542.19" y2="517.50" stroke="#33479f" stroke-width="3.4"/>
<rect x="493.87" y="518.10" width="5.2" height="4.8" fill="#ec8a81" stroke="#a8524c" stroke-width="0.5"/>
<path d="M494.87,522.10 L496.67,518.30 L498.47,521.10 Z" fill="#e0201a"/>
<rect x="541.09" y="515.10" width="5.2" height="4.8" fill="#ec8a81" stroke="#a8524c" stroke-width="0.5"/>
<path d="M542.09,519.10 L543.89,515.30 L545.69,518.10 Z" fill="#e0201a"/>
<line x1="504.69" y1="533.40" x2="524.77" y2="531.40" stroke="#2d3f9e" stroke-width="3.8"/>
<line x1="525.77" y1="531.40" x2="545.85" y2="529.40" stroke="#9dc4ee" stroke-width="3.4"/>
<rect x="498.59" y="530.00" width="5.2" height="4.8" fill="#ec8a81" stroke="#a8524c" stroke-width="0.5"/>
<path d="M499.59,534.00 L501.39,530.20 L503.19,533.00 Z" fill="#e0201a"/>
<rect x="544.75" y="527.00" width="5.2" height="4.8" fill="#ec8a81" stroke="#a8524c" stroke-width="0.5"/>
<path d="M545.75,531.00 L547.55,527.20 L549.35,530.00 Z" fill="#e0201a"/>
<line x1="516.29" y1="545.30" x2="528.04" y2="543.30" stroke="#2d3f9e" stroke-width="3.8"/>
<line x1="529.04" y1="543.30" x2="540.78" y2="541.30" stroke="#33479f" stroke-width="3.4"/>
<rect x="510.77" y="541.90" width="5.2" height="4.8" fill="#ec8a81" stroke="#a8524c" stroke-width="0.5"/>
<path d="M511.77,545.90 L513.57,542.10 L515.37,544.90 Z" fill="#e0201a"/>
<rect x="539.33" y="538.90" width="5.2" height="4.8" fill="#ec8a81" stroke="#a8524c" stroke-width="0.5"/>
<path d="M540.33,542.90 L542.13,539.10 L543.93,541.90 Z" fill="#e0201a"/>
<line x1="527.87" y1="557.20" x2="530.45" y2="553.20" stroke="#2d3f9e" stroke-width="3.8"/>
<rect x="526.31" y="553.80" width="5.2" height="4.8" fill="#ec8a81" stroke="#a8524c" stroke-width="0.5"/>
<path d="M527.31,557.80 L529.11,554.00 L530.91,556.80 Z" fill="#e0201a"/>
<rect x="526.63" y="550.80" width="5.2" height="4.8" fill="#ec8a81" stroke="#a8524c" stroke-width="0.5"/>
<path d="M527.63,554.80 L529.43,551.00 L531.23,553.80 Z" fill="#e0201a"/>
<line x1="537.39" y1="569.10" x2="527.79" y2="567.10" stroke="#2d3f9e" stroke-width="3.8"/>
<line x1="526.79" y1="567.10" x2="517.19" y2="565.10" stroke="#9dc4ee" stroke-width="3.4"/>
<rect x="536.93" y="565.70" width="5.2" height="4.8" fill="#ec8a81" stroke="#a8524c" stroke-width="0.5"/>
<path d="M537.93,569.70 L539.73,565.90 L541.53,568.70 Z" fill="#e0201a"/>
<rect x="513.90" y="562.70" width="5.2" height="4.8" fill="#ec8a81" stroke="#a8524c" stroke-width="0.5"/>
<path d="M514.90,566.70 L516.70,562.90 L518.50,565.70 Z" fill="#e0201a"/>
<line x1="543.13" y1="581.00" x2="524.32" y2="579.00" stroke="#2d3f9e" stroke-width="3.8"/>
<line x1="523.32" y1="579.00" x2="504.51" y2="577.00" stroke="#33479f" stroke-width="3.4"/>
<rect x="544.03" y="577.60" width="5.2" height="4.8" fill="#ec8a81" stroke="#a8524c" stroke-width="0.5"/>
<path d="M545.03,581.60 L546.83,577.80 L548.63,580.60 Z" fill="#e0201a"/>
<rect x="500.41" y="574.60" width="5.2" height="4.8" fill="#ec8a81" stroke="#a8524c" stroke-width="0.5"/>
<path d="M501.41,578.60 L503.21,574.80 L505.01,577.60 Z" fill="#e0201a"/>
<line x1="541.16" y1="592.90" x2="519.90" y2="590.90" stroke="#2d3f9e" stroke-width="3.8"/>
<line x1="518.90" y1="590.90" x2="497.65" y2="588.90" stroke="#33479f" stroke-width="3.4"/>
<rect x="542.06" y="589.50" width="5.2" height="4.8" fill="#ec8a81" stroke="#a8524c" stroke-width="0.5"/>
<path d="M543.06,593.50 L544.86,589.70 L546.66,592.50 Z" fill="#e0201a"/>
<rect x="493.55" y="586.50" width="5.2" height="4.8" fill="#ec8a81" stroke="#a8524c" stroke-width="0.5"/>
<path d="M494.55,590.50 L496.35,586.70 L498.15,589.50 Z" fill="#e0201a"/>
<line x1="529.29" y1="604.80" x2="514.26" y2="602.80" stroke="#2d3f9e" stroke-width="3.8"/>
<line x1="513.26" y1="602.80" x2="498.24" y2="600.80" stroke="#9dc4ee" stroke-width="3.4"/>
<rect x="530.19" y="601.40" width="5.2" height="4.8" fill="#ec8a81" stroke="#a8524c" stroke-width="0.5"/>
<path d="M531.19,605.40 L532.99,601.60 L534.79,604.40 Z" fill="#e0201a"/>
<rect x="494.14" y="598.40" width="5.2" height="4.8" fill="#ec8a81" stroke="#a8524c" stroke-width="0.5"/>
<path d="M495.14,602.40 L496.94,598.60 L498.74,601.40 Z" fill="#e0201a"/>
<line x1="515.60" y1="616.70" x2="510.88" y2="614.70" stroke="#2d3f9e" stroke-width="3.8"/>
<line x1="509.88" y1="614.70" x2="505.16" y2="612.70" stroke="#33479f" stroke-width="3.4"/>
<rect x="513.38" y="613.30" width="5.2" height="4.8" fill="#ec8a81" stroke="#a8524c" stroke-width="0.5"/>
<path d="M514.38,617.30 L516.18,613.50 L517.98,616.30 Z" fill="#e0201a"/>
<rect x="502.93" y="610.30" width="5.2" height="4.8" fill="#ec8a81" stroke="#a8524c" stroke-width="0.5"/>
<path d="M503.93,614.30 L505.73,610.50 L507.53,613.30 Z" fill="#e0201a"/>
<line x1="503.13" y1="628.60" x2="509.11" y2="626.60" stroke="#2d3f9e" stroke-width="3.8"/>
<line x1="510.11" y1="626.60" x2="516.08" y2="624.60" stroke="#33479f" stroke-width="3.4"/>
<rect x="499.70" y="625.20" width="5.2" height="4.8" fill="#ec8a81" stroke="#a8524c" stroke-width="0.5"/>
<path d="M500.70,629.20 L502.50,625.40 L504.30,628.20 Z" fill="#e0201a"/>
<rect x="513.38" y="622.20" width="5.2" height="4.8" fill="#ec8a81" stroke="#a8524c" stroke-width="0.5"/>
<path d="M514.38,626.20 L516.18,622.40 L517.98,625.20 Z" fill="#e0201a"/>
<line x1="494.27" y1="640.50" x2="510.37" y2="638.50" stroke="#2d3f9e" stroke-width="3.8"/>
<line x1="511.37" y1="638.50" x2="527.47" y2="636.50" stroke="#9dc4ee" stroke-width="3.4"/>
<rect x="488.17" y="637.10" width="5.2" height="4.8" fill="#ec8a81" stroke="#a8524c" stroke-width="0.5"/>
<path d="M489.17,641.10 L490.97,637.30 L492.77,640.10 Z" fill="#e0201a"/>
<rect x="526.37" y="634.10" width="5.2" height="4.8" fill="#ec8a81" stroke="#a8524c" stroke-width="0.5"/>
<path d="M527.37,638.10 L529.17,634.30 L530.97,637.10 Z" fill="#e0201a"/>
<line x1="491.18" y1="652.40" x2="512.61" y2="650.40" stroke="#2d3f9e" stroke-width="3.8"/>
<line x1="513.61" y1="650.40" x2="535.03" y2="648.40" stroke="#33479f" stroke-width="3.4"/>
<rect x="485.08" y="649.00" width="5.2" height="4.8" fill="#ec8a81" stroke="#a8524c" stroke-width="0.5"/>
<path d="M486.08,653.00 L487.88,649.20 L489.68,652.00 Z" fill="#e0201a"/>
<rect x="533.93" y="646.00" width="5.2" height="4.8" fill="#ec8a81" stroke="#a8524c" stroke-width="0.5"/>
<path d="M534.93,650.00 L536.73,646.20 L538.53,649.00 Z" fill="#e0201a"/>
<line x1="496.99" y1="664.30" x2="515.01" y2="662.30" stroke="#2d3f9e" stroke-width="3.8"/>
<line x1="516.01" y1="662.30" x2="534.02" y2="660.30" stroke="#33479f" stroke-width="3.4"/>
<rect x="490.89" y="660.90" width="5.2" height="4.8" fill="#ec8a81" stroke="#a8524c" stroke-width="0.5"/>
<path d="M491.89,664.90 L493.69,661.10 L495.49,663.90 Z" fill="#e0201a"/>
<rect x="532.92" y="657.90" width="5.2" height="4.8" fill="#ec8a81" stroke="#a8524c" stroke-width="0.5"/>
<path d="M533.92,661.90 L535.72,658.10 L537.52,660.90 Z" fill="#e0201a"/>
<path d="M493.47,517.90 L493.50,518.42 L493.55,518.97 L493.53,519.50 L496.42,519.50 L496.40,519.03 L496.48,518.58 L496.58,518.10Z" fill="#ec8a81" stroke="#a8524c" stroke-width="0.9" stroke-linejoin="round"/>
<path d="M547.10,582.93 L547.01,583.41 L546.91,583.85 L546.79,584.29 L546.66,584.73 L546.52,585.16 L546.36,585.59 L546.19,586.02 L546.01,586.45 L545.81,586.87 L545.60,587.30 L545.37,587.72 L545.13,588.14 L544.88,588.56 L544.68,588.86 L544.40,589.18 L544.04,589.60 L543.67,590.02 L543.29,590.45 L542.89,590.87 L542.48,591.30 L542.06,591.73 L541.62,592.15 L541.18,592.58 L540.71,593.01 L540.24,593.44 L539.75,593.88 L539.26,594.31 L538.75,594.75 L538.22,595.19 L537.69,595.62 L537.14,596.06 L536.59,596.51 L536.02,596.95 L535.44,597.40 L534.85,597.84 L534.26,598.29 L533.65,598.74 L533.03,599.19 L532.40,599.65 L531.77,600.10 L531.12,600.56 L530.47,601.02 L529.81,601.48 L529.14,601.94 L528.46,602.41 L527.78,602.88 L527.09,603.34 L526.40,603.81 L525.70,604.29 L524.99,604.76 L524.28,605.24 L523.56,605.72 L522.84,606.19 L522.12,606.68 L521.39,607.16 L520.66,607.65 L519.92,608.13 L519.19,608.62 L518.45,609.11 L517.71,609.61 L516.97,610.10 L516.23,610.60 L515.49,611.10 L514.74,611.60 L514.00,612.11 L513.26,612.61 L512.53,613.12 L511.79,613.63 L511.05,614.14 L510.32,614.65 L509.59,615.17 L508.87,615.68 L508.14,616.20 L507.43,616.72 L506.71,617.24 L506.01,617.77 L505.30,618.30 L504.61,618.82 L503.91,619.35 L503.23,619.89 L502.55,620.42 L501.88,620.96 L501.22,621.49 L500.57,622.03 L499.92,622.57 L499.28,623.12 L498.66,623.66 L498.04,624.21 L497.43,624.76 L496.83,625.31 L496.25,625.86 L495.67,626.41 L495.10,626.97 L494.55,627.53 L494.01,628.08 L493.48,628.64 L492.96,629.21 L492.46,629.77 L491.97,630.33 L491.50,630.90 L491.03,631.47 L490.59,632.04 L490.15,632.61 L489.73,633.18 L489.33,633.75 L488.94,634.32 L488.57,634.90 L488.22,635.47 L487.88,636.05 L487.56,636.63 L487.25,637.20 L486.96,637.78 L486.69,638.36 L486.44,638.94 L486.20,639.51 L485.98,640.09 L485.79,640.67 L485.61,641.24 L485.44,641.82 L485.30,642.39 L485.18,642.96 L485.07,643.53 L484.99,644.10 L484.92,644.66 L484.87,645.22 L484.84,645.78 L484.74,646.30 L487.60,646.70 L487.65,646.22 L487.79,645.78 L487.95,645.34 L488.13,644.90 L488.32,644.47 L488.52,644.04 L488.73,643.61 L488.96,643.18 L489.21,642.76 L489.46,642.33 L489.73,641.91 L490.02,641.49 L490.31,641.06 L490.63,640.64 L490.95,640.22 L491.29,639.80 L491.64,639.37 L492.01,638.95 L492.38,638.53 L492.78,638.10 L493.18,637.68 L493.60,637.25 L494.03,636.82 L494.48,636.39 L494.93,635.96 L495.40,635.53 L495.88,635.10 L496.38,634.67 L496.88,634.23 L497.40,633.79 L497.93,633.36 L498.47,632.92 L499.03,632.47 L499.59,632.03 L500.17,631.59 L500.75,631.14 L501.35,630.69 L501.95,630.24 L502.57,629.79 L503.19,629.34 L503.82,628.88 L504.47,628.43 L505.12,627.97 L505.77,627.51 L506.44,627.04 L507.11,626.58 L507.79,626.11 L508.48,625.65 L509.17,625.18 L509.87,624.70 L510.58,624.23 L511.29,623.76 L512.00,623.28 L512.72,622.80 L513.45,622.32 L514.17,621.83 L514.90,621.35 L515.64,620.86 L516.37,620.37 L517.11,619.88 L517.85,619.39 L518.59,618.89 L519.33,618.40 L520.07,617.90 L520.81,617.40 L521.55,616.90 L522.29,616.39 L523.03,615.89 L523.77,615.38 L524.51,614.87 L525.24,614.35 L525.97,613.84 L526.70,613.32 L527.42,612.81 L528.14,612.28 L528.85,611.76 L529.56,611.24 L530.27,610.71 L530.97,610.19 L531.66,609.66 L532.35,609.12 L533.03,608.59 L533.70,608.06 L534.36,607.52 L535.02,606.98 L535.67,606.44 L536.31,605.90 L536.94,605.35 L537.56,604.81 L538.17,604.26 L538.77,603.71 L539.36,603.16 L539.94,602.60 L540.51,602.05 L541.07,601.49 L541.61,600.94 L542.15,600.38 L542.67,599.81 L543.17,599.25 L543.67,598.69 L544.15,598.12 L544.62,597.56 L545.07,596.99 L545.51,596.42 L545.93,595.85 L546.34,595.27 L546.73,594.70 L547.11,594.13 L547.47,593.55 L547.81,592.98 L548.14,592.40 L548.45,591.82 L548.81,591.14 L549.07,590.44 L549.25,589.86 L549.42,589.28 L549.56,588.70 L549.69,588.13 L549.80,587.55 L549.89,586.98 L549.96,586.41 L550.01,585.84 L550.04,585.27 L550.06,584.71 L550.05,584.15 L550.03,583.59 L549.99,583.07Z" fill="#ec8a81" stroke="#a8524c" stroke-width="0.9" stroke-linejoin="round"/>
<path d="M547.47,530.45 L547.39,530.92 L547.29,531.37 L547.18,531.81 L547.05,532.25 L546.91,532.68 L546.76,533.11 L546.59,533.54 L546.41,533.97 L546.22,534.40 L546.01,534.82 L545.79,535.24 L545.55,535.66 L545.31,536.08 L545.05,536.50 L544.77,536.92 L544.49,537.34 L544.19,537.76 L543.87,538.18 L543.55,538.60 L543.21,539.02 L542.86,539.45 L542.50,539.87 L542.12,540.30 L541.73,540.72 L541.33,541.15 L540.92,541.58 L540.49,542.01 L540.05,542.44 L539.60,542.87 L539.14,543.31 L538.67,543.74 L538.19,544.18 L537.69,544.62 L537.19,545.06 L536.67,545.51 L536.15,545.95 L535.61,546.40 L535.07,546.85 L534.52,547.30 L533.95,547.75 L533.38,548.21 L532.80,548.66 L532.21,549.12 L531.62,549.58 L531.01,550.05 L530.40,550.51 L529.79,550.98 L529.17,551.44 L528.54,551.92 L527.90,552.39 L527.26,552.86 L526.62,553.34 L525.97,553.82 L525.32,554.30 L524.66,554.78 L524.00,555.26 L523.34,555.75 L522.67,556.24 L522.01,556.73 L521.34,557.22 L520.67,557.72 L520.00,558.21 L519.33,558.71 L518.66,559.21 L517.98,559.72 L517.31,560.22 L516.65,560.73 L515.98,561.24 L515.31,561.75 L514.65,562.26 L513.99,562.78 L513.33,563.29 L512.68,563.81 L512.03,564.33 L511.39,564.86 L510.75,565.38 L510.11,565.91 L509.49,566.44 L508.86,566.97 L508.25,567.50 L507.64,568.04 L507.03,568.57 L506.44,569.11 L505.85,569.65 L505.28,570.20 L504.71,570.74 L504.15,571.29 L503.60,571.84 L503.05,572.39 L502.52,572.94 L502.00,573.49 L501.49,574.05 L501.00,574.61 L500.51,575.17 L500.04,575.73 L499.57,576.29 L499.13,576.85 L498.69,577.42 L498.27,577.99 L497.86,578.56 L497.46,579.13 L497.08,579.70 L496.72,580.28 L496.37,580.85 L496.03,581.43 L495.71,582.00 L495.41,582.58 L495.13,583.16 L494.86,583.74 L494.60,584.32 L494.37,584.90 L494.15,585.48 L493.95,586.06 L493.77,586.64 L493.60,587.22 L493.46,587.80 L493.33,588.38 L493.22,588.95 L493.17,589.41 L493.06,589.87 L492.93,590.44 L492.82,591.01 L492.73,591.58 L492.65,592.14 L492.60,592.70 L492.56,593.26 L492.50,593.79 L495.32,594.21 L495.41,593.74 L495.56,593.30 L495.72,592.86 L495.90,592.42 L496.09,591.99 L496.30,591.56 L496.52,591.13 L496.79,590.59 L497.01,590.05 L497.21,589.62 L497.42,589.20 L497.64,588.78 L497.88,588.36 L498.13,587.94 L498.40,587.52 L498.67,587.10 L498.96,586.68 L499.27,586.26 L499.58,585.84 L499.91,585.42 L500.26,585.00 L500.61,584.57 L500.98,584.15 L501.36,583.72 L501.75,583.30 L502.15,582.87 L502.57,582.44 L503.00,582.01 L503.44,581.58 L503.89,581.15 L504.36,580.71 L504.83,580.27 L505.32,579.83 L505.81,579.39 L506.32,578.95 L506.84,578.51 L507.37,578.06 L507.90,577.61 L508.45,577.16 L509.01,576.71 L509.57,576.26 L510.15,575.80 L510.73,575.35 L511.32,574.89 L511.92,574.43 L512.52,573.96 L513.13,573.50 L513.75,573.03 L514.37,572.56 L515.01,572.09 L515.64,571.62 L516.28,571.14 L516.93,570.67 L517.58,570.19 L518.23,569.71 L518.89,569.22 L519.55,568.74 L520.21,568.25 L520.88,567.76 L521.54,567.27 L522.21,566.78 L522.88,566.28 L523.55,565.79 L524.23,565.29 L524.90,564.79 L525.57,564.28 L526.24,563.78 L526.91,563.27 L527.57,562.76 L528.24,562.25 L528.90,561.74 L529.56,561.22 L530.21,560.70 L530.87,560.18 L531.51,559.66 L532.16,559.14 L532.79,558.61 L533.43,558.08 L534.05,557.56 L534.68,557.02 L535.29,556.49 L535.90,555.95 L536.50,555.42 L537.09,554.88 L537.67,554.34 L538.25,553.79 L538.82,553.25 L539.38,552.70 L539.92,552.15 L540.46,551.60 L540.99,551.05 L541.51,550.49 L542.01,549.94 L542.51,549.38 L542.99,548.82 L543.46,548.26 L543.92,547.69 L544.36,547.13 L544.80,546.56 L545.22,545.99 L545.62,545.42 L546.01,544.85 L546.39,544.28 L546.75,543.70 L547.10,543.13 L547.43,542.55 L547.74,541.98 L548.04,541.40 L548.32,540.82 L548.59,540.24 L548.83,539.66 L549.07,539.08 L549.28,538.50 L549.47,537.92 L549.65,537.34 L549.81,536.76 L549.95,536.18 L550.07,535.60 L550.18,535.03 L550.26,534.46 L550.32,533.89 L550.37,533.32 L550.40,532.75 L550.41,532.19 L550.40,531.63 L550.37,531.08 L550.32,530.55Z" fill="#ec8a81" stroke="#a8524c" stroke-width="0.9" stroke-linejoin="round"/>
<path d="M537.14,657.25 L536.99,657.72 L536.83,658.16 L536.66,658.59 L536.47,659.03 L536.27,659.46 L536.05,659.89 L535.82,660.31 L535.58,660.74 L535.32,661.16 L535.05,661.59 L534.77,662.01 L534.47,662.43 L534.16,662.86 L533.83,663.28 L533.50,663.70 L533.14,664.12 L532.78,664.55 L532.40,664.97 L532.01,665.40 L531.60,665.82 L531.17,666.27 L535.47,669.73 L535.84,669.18 L536.21,668.60 L536.57,668.03 L536.91,667.45 L537.23,666.88 L537.54,666.30 L537.82,665.72 L538.10,665.14 L538.35,664.57 L538.59,663.99 L538.80,663.41 L539.00,662.84 L539.18,662.26 L539.35,661.69 L539.49,661.11 L539.61,660.54 L539.72,659.97 L539.81,659.41 L539.87,658.84 L539.92,658.28 L539.95,657.75Z" fill="#ec8a81" stroke="#a8524c" stroke-width="0.9" stroke-linejoin="round"/>
<path d="M579.65,519.54 L579.63,520.07 L579.63,520.61 L579.64,521.16 L579.68,521.71 L579.73,522.27 L579.80,522.82 L579.89,523.38 L580.00,523.93 L580.13,524.49 L580.27,525.05 L580.43,525.60 L580.61,526.16 L580.81,526.72 L581.02,527.28 L581.25,527.83 L581.50,528.39 L581.76,528.94 L582.04,529.50 L582.34,530.05 L582.65,530.60 L582.97,531.16 L583.31,531.71 L583.67,532.26 L584.04,532.81 L584.43,533.35 L584.82,533.90 L585.24,534.44 L585.66,534.99 L586.10,535.53 L586.55,536.07 L587.01,536.61 L587.49,537.15 L587.97,537.69 L588.47,538.22 L588.98,538.76 L589.50,539.29 L590.03,539.83 L590.57,540.36 L591.12,540.89 L591.67,541.42 L592.24,541.94 L592.82,542.47 L593.40,542.99 L593.99,543.52 L594.59,544.04 L595.20,544.56 L595.81,545.08 L596.43,545.60 L597.05,546.12 L597.68,546.64 L598.32,547.15 L598.96,547.67 L599.60,548.18 L600.25,548.69 L600.90,549.20 L601.55,549.71 L602.21,550.22 L602.87,550.72 L603.53,551.23 L604.19,551.73 L604.86,552.24 L605.52,552.74 L606.19,553.24 L606.85,553.74 L607.51,554.23 L608.18,554.73 L608.84,555.23 L609.50,555.72 L610.16,556.21 L610.81,556.71 L611.46,557.20 L612.11,557.69 L612.75,558.17 L613.40,558.66 L614.03,559.15 L614.66,559.63 L615.29,560.11 L615.91,560.60 L616.52,561.08 L617.13,561.56 L617.73,562.03 L618.32,562.51 L618.91,562.99 L619.48,563.46 L620.05,563.93 L620.61,564.41 L621.16,564.88 L621.71,565.35 L622.24,565.82 L622.76,566.28 L623.27,566.75 L623.78,567.21 L624.27,567.68 L624.75,568.14 L625.22,568.60 L625.67,569.06 L626.12,569.52 L626.55,569.97 L626.98,570.43 L627.38,570.88 L627.78,571.34 L628.16,571.79 L628.53,572.24 L628.89,572.69 L629.24,573.14 L629.57,573.59 L629.88,574.03 L630.19,574.48 L630.48,574.93 L630.75,575.37 L631.01,575.81 L631.26,576.26 L631.49,576.70 L631.71,577.14 L631.92,577.59 L632.11,578.03 L632.29,578.47 L632.45,578.91 L632.60,579.36 L632.74,579.80 L632.86,580.25 L632.96,580.70 L633.05,581.15 L633.13,581.60 L633.19,582.05 L633.24,582.51 L633.22,582.98 L635.87,583.02 L635.86,582.49 L635.89,581.95 L635.89,581.40 L635.88,580.85 L635.86,580.30 L635.81,579.75 L635.74,579.20 L635.66,578.64 L635.56,578.09 L635.44,577.53 L635.30,576.97 L635.14,576.41 L634.97,575.86 L634.78,575.30 L634.57,574.74 L634.35,574.19 L634.11,573.63 L633.85,573.07 L633.57,572.52 L633.28,571.97 L632.98,571.41 L632.66,570.86 L632.32,570.31 L631.97,569.76 L631.60,569.21 L631.22,568.66 L630.83,568.12 L630.42,567.57 L630.00,567.03 L629.57,566.48 L629.12,565.94 L628.66,565.40 L628.19,564.86 L627.71,564.32 L627.21,563.79 L626.71,563.25 L626.19,562.72 L625.67,562.18 L625.13,561.65 L624.59,561.12 L624.03,560.59 L623.47,560.07 L622.89,559.54 L622.31,559.01 L621.72,558.49 L621.13,557.97 L620.52,557.44 L619.91,556.92 L619.30,556.40 L618.68,555.89 L618.05,555.37 L617.41,554.85 L616.78,554.34 L616.13,553.83 L615.49,553.31 L614.84,552.80 L614.18,552.29 L613.53,551.79 L612.87,551.28 L612.21,550.77 L611.55,550.27 L610.88,549.77 L610.22,549.26 L609.55,548.76 L608.89,548.26 L608.22,547.76 L607.56,547.27 L606.90,546.77 L606.24,546.28 L605.58,545.78 L604.93,545.29 L604.27,544.80 L603.62,544.31 L602.98,543.82 L602.34,543.33 L601.70,542.85 L601.07,542.36 L600.44,541.88 L599.82,541.40 L599.20,540.92 L598.59,540.44 L597.99,539.96 L597.39,539.48 L596.81,539.01 L596.23,538.53 L595.65,538.06 L595.09,537.58 L594.54,537.11 L593.99,536.64 L593.46,536.17 L592.93,535.71 L592.41,535.24 L591.91,534.78 L591.41,534.31 L590.93,533.85 L590.46,533.39 L590.00,532.93 L589.55,532.47 L589.11,532.01 L588.68,531.56 L588.27,531.10 L587.87,530.65 L587.48,530.19 L587.11,529.74 L586.75,529.29 L586.40,528.84 L586.06,528.40 L585.74,527.95 L585.43,527.50 L585.14,527.06 L584.86,526.61 L584.59,526.17 L584.34,525.72 L584.10,525.28 L583.88,524.84 L583.67,524.40 L583.47,523.95 L583.29,523.51 L583.12,523.07 L582.97,522.62 L582.83,522.18 L582.70,521.73 L582.59,521.29 L582.50,520.84 L582.42,520.39 L582.35,519.93 L582.30,519.46Z" fill="#93534c" stroke="#6e3a36" stroke-width="0.8" stroke-linejoin="round"/>
<path d="M570.86,646.36 L570.76,646.87 L570.68,647.42 L570.62,647.96 L570.58,648.51 L570.56,649.06 L570.55,649.61 L570.56,650.16 L570.59,650.72 L570.64,651.28 L570.71,651.83 L570.79,652.39 L570.90,652.95 L571.02,653.51 L571.15,654.07 L571.31,654.63 L571.48,655.19 L571.67,655.75 L571.87,656.30 L572.09,656.86 L572.33,657.42 L572.59,657.97 L572.85,658.53 L573.14,659.08 L573.43,659.64 L573.75,660.19 L574.07,660.74 L574.41,661.29 L574.77,661.83 L575.13,662.38 L575.51,662.92 L575.91,663.47 L576.31,664.01 L576.73,664.55 L577.15,665.09 L577.59,665.63 L578.04,666.16 L578.50,666.70 L578.97,667.23 L579.45,667.77 L579.93,668.30 L580.43,668.83 L580.94,669.36 L581.44,669.88 L585.11,666.12 L584.59,665.64 L584.09,665.17 L583.60,664.70 L583.12,664.23 L582.64,663.77 L582.18,663.30 L581.72,662.84 L581.27,662.37 L580.84,661.91 L580.41,661.45 L580.00,660.99 L579.60,660.53 L579.21,660.08 L578.83,659.62 L578.46,659.17 L578.10,658.71 L577.76,658.26 L577.43,657.81 L577.11,657.36 L576.80,656.92 L576.51,656.47 L576.23,656.03 L575.96,655.58 L575.71,655.14 L575.47,654.70 L575.24,654.25 L575.02,653.81 L574.82,653.37 L574.64,652.93 L574.46,652.49 L574.30,652.05 L574.16,651.61 L574.02,651.17 L573.91,650.72 L573.80,650.28 L573.71,649.84 L573.64,649.39 L573.57,648.94 L573.53,648.49 L573.49,648.04 L573.48,647.58 L573.47,647.13 L573.49,646.64Z" fill="#93534c" stroke="#6e3a36" stroke-width="0.8" stroke-linejoin="round"/>
<path d="M628.39,519.29 L628.77,519.76 L629.14,520.21 L629.48,520.65 L629.82,521.10 L630.14,521.55 L630.45,522.00 L630.74,522.44 L631.02,522.89 L631.29,523.33 L631.54,523.77 L631.78,524.22 L632.00,524.66 L632.21,525.10 L632.40,525.54 L632.59,525.99 L632.75,526.43 L632.91,526.88 L633.05,527.32 L633.17,527.77 L633.28,528.21 L633.38,528.66 L633.46,529.11 L633.52,529.56 L633.57,530.02 L633.58,530.50 L636.21,530.50 L636.22,529.98 L636.24,529.44 L636.24,528.89 L636.23,528.34 L636.19,527.79 L636.14,527.23 L636.07,526.68 L635.98,526.12 L635.87,525.57 L635.75,525.01 L635.60,524.46 L635.44,523.90 L635.27,523.34 L635.07,522.78 L634.86,522.23 L634.63,521.67 L634.38,521.11 L634.12,520.56 L633.84,520.00 L633.54,519.45 L633.23,518.90 L632.91,518.35 L632.57,517.79 L632.21,517.24 L631.85,516.71Z" fill="#93534c" stroke="#6e3a36" stroke-width="0.8" stroke-linejoin="round"/>
<path d="M578.61,593.84 L578.51,594.36 L578.42,594.90 L578.36,595.45 L578.31,595.99 L578.28,596.54 L578.27,597.10 L578.28,597.65 L578.30,598.20 L578.34,598.76 L578.41,599.32 L578.48,599.87 L578.58,600.43 L578.70,600.99 L578.83,601.55 L578.98,602.11 L579.15,602.67 L579.33,603.23 L579.53,603.79 L579.75,604.34 L579.98,604.90 L580.23,605.46 L580.49,606.01 L580.77,606.57 L581.06,607.12 L581.37,607.67 L581.69,608.22 L582.03,608.77 L582.38,609.32 L582.74,609.87 L583.12,610.41 L583.51,610.95 L583.91,611.50 L584.32,612.04 L584.74,612.58 L585.18,613.12 L585.62,613.65 L586.08,614.19 L586.55,614.72 L587.02,615.26 L587.51,615.79 L588.00,616.32 L588.50,616.85 L589.01,617.37 L589.53,617.90 L590.06,618.43 L590.59,618.95 L591.13,619.47 L591.68,619.99 L592.23,620.51 L592.79,621.03 L593.35,621.55 L593.92,622.06 L594.50,622.57 L595.07,623.09 L595.65,623.60 L596.24,624.11 L596.82,624.62 L597.41,625.12 L598.00,625.63 L598.59,626.14 L599.19,626.64 L599.78,627.14 L600.37,627.64 L600.97,628.14 L601.56,628.64 L602.15,629.14 L602.75,629.63 L603.33,630.13 L603.92,630.62 L604.51,631.11 L605.09,631.60 L605.67,632.09 L606.24,632.58 L606.81,633.06 L607.38,633.55 L607.94,634.03 L608.50,634.52 L609.05,635.00 L609.59,635.48 L610.13,635.95 L610.66,636.43 L611.19,636.91 L611.71,637.38 L612.21,637.85 L612.72,638.33 L613.21,638.80 L613.69,639.27 L614.17,639.73 L614.63,640.20 L615.09,640.66 L615.53,641.13 L615.97,641.59 L616.39,642.05 L616.81,642.51 L617.21,642.97 L617.60,643.42 L617.98,643.88 L618.35,644.33 L618.70,644.78 L619.04,645.24 L619.38,645.68 L619.69,646.13 L620.00,646.58 L620.29,647.03 L620.57,647.47 L620.84,647.92 L621.09,648.36 L621.33,648.80 L621.56,649.24 L621.78,649.69 L621.98,650.13 L622.16,650.57 L622.34,651.01 L622.50,651.45 L622.64,651.89 L622.77,652.33 L622.89,652.77 L622.99,653.22 L623.08,653.66 L623.16,654.11 L623.22,654.56 L623.27,655.01 L623.30,655.46 L623.32,655.92 L623.32,656.37 L623.31,656.83 L623.25,657.31 L625.85,657.69 L625.93,657.17 L626.03,656.63 L626.11,656.08 L626.17,655.54 L626.21,654.99 L626.24,654.44 L626.24,653.89 L626.23,653.34 L626.20,652.78 L626.15,652.23 L626.09,651.67 L626.00,651.11 L625.90,650.55 L625.78,649.99 L625.65,649.43 L625.49,648.87 L625.32,648.31 L625.13,647.76 L624.93,647.20 L624.71,646.64 L624.47,646.08 L624.22,645.53 L623.95,644.97 L623.67,644.42 L623.37,643.87 L623.06,643.32 L622.73,642.76 L622.39,642.22 L622.04,641.67 L621.67,641.12 L621.29,640.58 L620.90,640.03 L620.50,639.49 L620.08,638.95 L619.65,638.41 L619.22,637.87 L618.77,637.34 L618.31,636.80 L617.84,636.27 L617.36,635.73 L616.87,635.20 L616.38,634.67 L615.87,634.15 L615.36,633.62 L614.84,633.09 L614.31,632.57 L613.77,632.05 L613.23,631.52 L612.68,631.00 L612.13,630.48 L611.57,629.97 L611.01,629.45 L610.44,628.94 L609.86,628.42 L609.28,627.91 L608.70,627.40 L608.12,626.89 L607.53,626.38 L606.94,625.87 L606.35,625.37 L605.76,624.86 L605.17,624.36 L604.57,623.86 L603.98,623.36 L603.39,622.86 L602.79,622.36 L602.20,621.86 L601.61,621.37 L601.02,620.88 L600.43,620.38 L599.85,619.89 L599.27,619.40 L598.69,618.91 L598.11,618.43 L597.55,617.94 L596.98,617.45 L596.42,616.97 L595.86,616.49 L595.32,616.01 L594.77,615.53 L594.24,615.05 L593.71,614.57 L593.18,614.10 L592.67,613.63 L592.16,613.15 L591.66,612.68 L591.17,612.21 L590.69,611.74 L590.22,611.28 L589.76,610.81 L589.30,610.35 L588.86,609.88 L588.43,609.42 L588.01,608.96 L587.60,608.50 L587.20,608.05 L586.81,607.59 L586.43,607.13 L586.07,606.68 L585.72,606.23 L585.38,605.78 L585.05,605.33 L584.73,604.88 L584.43,604.43 L584.14,603.99 L583.87,603.54 L583.60,603.10 L583.35,602.66 L583.12,602.21 L582.89,601.77 L582.68,601.33 L582.48,600.89 L582.30,600.45 L582.13,600.01 L581.98,599.57 L581.83,599.13 L581.71,598.68 L581.59,598.24 L581.49,597.80 L581.41,597.35 L581.33,596.90 L581.28,596.46 L581.23,596.01 L581.21,595.55 L581.19,595.10 L581.20,594.64 L581.22,594.16Z" fill="#93534c" stroke="#6e3a36" stroke-width="0.8" stroke-linejoin="round"/>
<line x1="585.97" y1="521.50" x2="606.58" y2="519.50" stroke="#2d3f9e" stroke-width="3.8"/>
<line x1="607.58" y1="519.50" x2="628.19" y2="517.50" stroke="#33479f" stroke-width="3.4"/>
<rect x="579.87" y="518.10" width="5.2" height="4.8" fill="#ec8a81" stroke="#a8524c" stroke-width="0.5"/>
<path d="M580.87,522.10 L582.67,518.30 L584.47,521.10 Z" fill="#e0201a"/>
<rect x="627.09" y="515.10" width="5.2" height="4.8" fill="#ec8a81" stroke="#a8524c" stroke-width="0.5"/>
<path d="M628.09,519.10 L629.89,515.30 L631.69,518.10 Z" fill="#e0201a"/>
<line x1="590.69" y1="533.40" x2="610.77" y2="531.40" stroke="#2d3f9e" stroke-width="3.8"/>
<line x1="611.77" y1="531.40" x2="631.85" y2="529.40" stroke="#9dc4ee" stroke-width="3.4"/>
<rect x="584.59" y="530.00" width="5.2" height="4.8" fill="#ec8a81" stroke="#a8524c" stroke-width="0.5"/>
<path d="M585.59,534.00 L587.39,530.20 L589.19,533.00 Z" fill="#e0201a"/>
<rect x="630.75" y="527.00" width="5.2" height="4.8" fill="#ec8a81" stroke="#a8524c" stroke-width="0.5"/>
<path d="M631.75,531.00 L633.55,527.20 L635.35,530.00 Z" fill="#e0201a"/>
<line x1="602.29" y1="545.30" x2="614.04" y2="543.30" stroke="#2d3f9e" stroke-width="3.8"/>
<line x1="615.04" y1="543.30" x2="626.78" y2="541.30" stroke="#33479f" stroke-width="3.4"/>
<rect x="596.77" y="541.90" width="5.2" height="4.8" fill="#ec8a81" stroke="#a8524c" stroke-width="0.5"/>
<path d="M597.77,545.90 L599.57,542.10 L601.37,544.90 Z" fill="#e0201a"/>
<rect x="625.33" y="538.90" width="5.2" height="4.8" fill="#ec8a81" stroke="#a8524c" stroke-width="0.5"/>
<path d="M626.33,542.90 L628.13,539.10 L629.93,541.90 Z" fill="#e0201a"/>
<line x1="613.87" y1="557.20" x2="616.45" y2="553.20" stroke="#2d3f9e" stroke-width="3.8"/>
<rect x="612.31" y="553.80" width="5.2" height="4.8" fill="#ec8a81" stroke="#a8524c" stroke-width="0.5"/>
<path d="M613.31,557.80 L615.11,554.00 L616.91,556.80 Z" fill="#e0201a"/>
<rect x="612.63" y="550.80" width="5.2" height="4.8" fill="#ec8a81" stroke="#a8524c" stroke-width="0.5"/>
<path d="M613.63,554.80 L615.43,551.00 L617.23,553.80 Z" fill="#e0201a"/>
<line x1="623.39" y1="569.10" x2="613.79" y2="567.10" stroke="#2d3f9e" stroke-width="3.8"/>
<line x1="612.79" y1="567.10" x2="603.19" y2="565.10" stroke="#9dc4ee" stroke-width="3.4"/>
<rect x="622.93" y="565.70" width="5.2" height="4.8" fill="#ec8a81" stroke="#a8524c" stroke-width="0.5"/>
<path d="M623.93,569.70 L625.73,565.90 L627.53,568.70 Z" fill="#e0201a"/>
<rect x="599.90" y="562.70" width="5.2" height="4.8" fill="#ec8a81" stroke="#a8524c" stroke-width="0.5"/>
<path d="M600.90,566.70 L602.70,562.90 L604.50,565.70 Z" fill="#e0201a"/>
<line x1="629.13" y1="581.00" x2="610.32" y2="579.00" stroke="#2d3f9e" stroke-width="3.8"/>
<line x1="609.32" y1="579.00" x2="590.51" y2="577.00" stroke="#33479f" stroke-width="3.4"/>
<rect x="630.03" y="577.60" width="5.2" height="4.8" fill="#ec8a81" stroke="#a8524c" stroke-width="0.5"/>
<path d="M631.03,581.60 L632.83,577.80 L634.63,580.60 Z" fill="#e0201a"/>
<rect x="586.41" y="574.60" width="5.2" height="4.8" fill="#ec8a81" stroke="#a8524c" stroke-width="0.5"/>
<path d="M587.41,578.60 L589.21,574.80 L591.01,577.60 Z" fill="#e0201a"/>
<line x1="627.16" y1="592.90" x2="605.90" y2="590.90" stroke="#2d3f9e" stroke-width="3.8"/>
<line x1="604.90" y1="590.90" x2="583.65" y2="588.90" stroke="#33479f" stroke-width="3.4"/>
<rect x="628.06" y="589.50" width="5.2" height="4.8" fill="#ec8a81" stroke="#a8524c" stroke-width="0.5"/>
<path d="M629.06,593.50 L630.86,589.70 L632.66,592.50 Z" fill="#e0201a"/>
<rect x="579.55" y="586.50" width="5.2" height="4.8" fill="#ec8a81" stroke="#a8524c" stroke-width="0.5"/>
<path d="M580.55,590.50 L582.35,586.70 L584.15,589.50 Z" fill="#e0201a"/>
<line x1="615.29" y1="604.80" x2="600.26" y2="602.80" stroke="#2d3f9e" stroke-width="3.8"/>
<line x1="599.26" y1="602.80" x2="584.24" y2="600.80" stroke="#9dc4ee" stroke-width="3.4"/>
<rect x="616.19" y="601.40" width="5.2" height="4.8" fill="#ec8a81" stroke="#a8524c" stroke-width="0.5"/>
<path d="M617.19,605.40 L618.99,601.60 L620.79,604.40 Z" fill="#e0201a"/>
<rect x="580.14" y="598.40" width="5.2" height="4.8" fill="#ec8a81" stroke="#a8524c" stroke-width="0.5"/>
<path d="M581.14,602.40 L582.94,598.60 L584.74,601.40 Z" fill="#e0201a"/>
<line x1="601.60" y1="616.70" x2="596.88" y2="614.70" stroke="#2d3f9e" stroke-width="3.8"/>
<line x1="595.88" y1="614.70" x2="591.16" y2="612.70" stroke="#33479f" stroke-width="3.4"/>
<rect x="599.38" y="613.30" width="5.2" height="4.8" fill="#ec8a81" stroke="#a8524c" stroke-width="0.5"/>
<path d="M600.38,617.30 L602.18,613.50 L603.98,616.30 Z" fill="#e0201a"/>
<rect x="588.93" y="610.30" width="5.2" height="4.8" fill="#ec8a81" stroke="#a8524c" stroke-width="0.5"/>
<path d="M589.93,614.30 L591.73,610.50 L593.53,613.30 Z" fill="#e0201a"/>
<line x1="589.13" y1="628.60" x2="595.11" y2="626.60" stroke="#2d3f9e" stroke-width="3.8"/>
<line x1="596.11" y1="626.60" x2="602.08" y2="624.60" stroke="#33479f" stroke-width="3.4"/>
<rect x="585.70" y="625.20" width="5.2" height="4.8" fill="#ec8a81" stroke="#a8524c" stroke-width="0.5"/>
<path d="M586.70,629.20 L588.50,625.40 L590.30,628.20 Z" fill="#e0201a"/>
<rect x="599.38" y="622.20" width="5.2" height="4.8" fill="#ec8a81" stroke="#a8524c" stroke-width="0.5"/>
<path d="M600.38,626.20 L602.18,622.40 L603.98,625.20 Z" fill="#e0201a"/>
<line x1="580.27" y1="640.50" x2="596.37" y2="638.50" stroke="#2d3f9e" stroke-width="3.8"/>
<line x1="597.37" y1="638.50" x2="613.47" y2="636.50" stroke="#9dc4ee" stroke-width="3.4"/>
<rect x="574.17" y="637.10" width="5.2" height="4.8" fill="#ec8a81" stroke="#a8524c" stroke-width="0.5"/>
<path d="M575.17,641.10 L576.97,637.30 L578.77,640.10 Z" fill="#e0201a"/>
<rect x="612.37" y="634.10" width="5.2" height="4.8" fill="#ec8a81" stroke="#a8524c" stroke-width="0.5"/>
<path d="M613.37,638.10 L615.17,634.30 L616.97,637.10 Z" fill="#e0201a"/>
<line x1="577.18" y1="652.40" x2="598.61" y2="650.40" stroke="#2d3f9e" stroke-width="3.8"/>
<line x1="599.61" y1="650.40" x2="621.03" y2="648.40" stroke="#33479f" stroke-width="3.4"/>
<rect x="571.08" y="649.00" width="5.2" height="4.8" fill="#ec8a81" stroke="#a8524c" stroke-width="0.5"/>
<path d="M572.08,653.00 L573.88,649.20 L575.68,652.00 Z" fill="#e0201a"/>
<rect x="619.93" y="646.00" width="5.2" height="4.8" fill="#ec8a81" stroke="#a8524c" stroke-width="0.5"/>
<path d="M620.93,650.00 L622.73,646.20 L624.53,649.00 Z" fill="#e0201a"/>
<line x1="582.99" y1="664.30" x2="601.01" y2="662.30" stroke="#2d3f9e" stroke-width="3.8"/>
<line x1="602.01" y1="662.30" x2="620.02" y2="660.30" stroke="#33479f" stroke-width="3.4"/>
<rect x="576.89" y="660.90" width="5.2" height="4.8" fill="#ec8a81" stroke="#a8524c" stroke-width="0.5"/>
<path d="M577.89,664.90 L579.69,661.10 L581.49,663.90 Z" fill="#e0201a"/>
<rect x="618.92" y="657.90" width="5.2" height="4.8" fill="#ec8a81" stroke="#a8524c" stroke-width="0.5"/>
<path d="M619.92,661.90 L621.72,658.10 L623.52,660.90 Z" fill="#e0201a"/>
<path d="M579.47,517.90 L579.50,518.42 L579.55,518.97 L579.53,519.50 L582.42,519.50 L582.40,519.03 L582.48,518.58 L582.58,518.10Z" fill="#ec8a81" stroke="#a8524c" stroke-width="0.9" stroke-linejoin="round"/>
<path d="M633.10,582.93 L633.01,583.41 L632.91,583.85 L632.79,584.29 L632.66,584.73 L632.52,585.16 L632.36,585.59 L632.19,586.02 L632.01,586.45 L631.81,586.87 L631.60,587.30 L631.37,587.72 L631.13,588.14 L630.88,588.56 L630.68,588.86 L630.40,589.18 L630.04,589.60 L629.67,590.02 L629.29,590.45 L628.89,590.87 L628.48,591.30 L628.06,591.73 L627.62,592.15 L627.18,592.58 L626.71,593.01 L626.24,593.44 L625.75,593.88 L625.26,594.31 L624.75,594.75 L624.22,595.19 L623.69,595.62 L623.14,596.06 L622.59,596.51 L622.02,596.95 L621.44,597.40 L620.85,597.84 L620.26,598.29 L619.65,598.74 L619.03,599.19 L618.40,599.65 L617.77,600.10 L617.12,600.56 L616.47,601.02 L615.81,601.48 L615.14,601.94 L614.46,602.41 L613.78,602.88 L613.09,603.34 L612.40,603.81 L611.70,604.29 L610.99,604.76 L610.28,605.24 L609.56,605.72 L608.84,606.19 L608.12,606.68 L607.39,607.16 L606.66,607.65 L605.92,608.13 L605.19,608.62 L604.45,609.11 L603.71,609.61 L602.97,610.10 L602.23,610.60 L601.49,611.10 L600.74,611.60 L600.00,612.11 L599.26,612.61 L598.53,613.12 L597.79,613.63 L597.05,614.14 L596.32,614.65 L595.59,615.17 L594.87,615.68 L594.14,616.20 L593.43,616.72 L592.71,617.24 L592.01,617.77 L591.30,618.30 L590.61,618.82 L589.91,619.35 L589.23,619.89 L588.55,620.42 L587.88,620.96 L587.22,621.49 L586.57,622.03 L585.92,622.57 L585.28,623.12 L584.66,623.66 L584.04,624.21 L583.43,624.76 L582.83,625.31 L582.25,625.86 L581.67,626.41 L581.10,626.97 L580.55,627.53 L580.01,628.08 L579.48,628.64 L578.96,629.21 L578.46,629.77 L577.97,630.33 L577.50,630.90 L577.03,631.47 L576.59,632.04 L576.15,632.61 L575.73,633.18 L575.33,633.75 L574.94,634.32 L574.57,634.90 L574.22,635.47 L573.88,636.05 L573.56,636.63 L573.25,637.20 L572.96,637.78 L572.69,638.36 L572.44,638.94 L572.20,639.51 L571.98,640.09 L571.79,640.67 L571.61,641.24 L571.44,641.82 L571.30,642.39 L571.18,642.96 L571.07,643.53 L570.99,644.10 L570.92,644.66 L570.87,645.22 L570.84,645.78 L570.74,646.30 L573.60,646.70 L573.65,646.22 L573.79,645.78 L573.95,645.34 L574.13,644.90 L574.32,644.47 L574.52,644.04 L574.73,643.61 L574.96,643.18 L575.21,642.76 L575.46,642.33 L575.73,641.91 L576.02,641.49 L576.31,641.06 L576.63,640.64 L576.95,640.22 L577.29,639.80 L577.64,639.37 L578.01,638.95 L578.38,638.53 L578.78,638.10 L579.18,637.68 L579.60,637.25 L580.03,636.82 L580.48,636.39 L580.93,635.96 L581.40,635.53 L581.88,635.10 L582.38,634.67 L582.88,634.23 L583.40,633.79 L583.93,633.36 L584.47,632.92 L585.03,632.47 L585.59,632.03 L586.17,631.59 L586.75,631.14 L587.35,630.69 L587.95,630.24 L588.57,629.79 L589.19,629.34 L589.82,628.88 L590.47,628.43 L591.12,627.97 L591.77,627.51 L592.44,627.04 L593.11,626.58 L593.79,626.11 L594.48,625.65 L595.17,625.18 L595.87,624.70 L596.58,624.23 L597.29,623.76 L598.00,623.28 L598.72,622.80 L599.45,622.32 L600.17,621.83 L600.90,621.35 L601.64,620.86 L602.37,620.37 L603.11,619.88 L603.85,619.39 L604.59,618.89 L605.33,618.40 L606.07,617.90 L606.81,617.40 L607.55,616.90 L608.29,616.39 L609.03,615.89 L609.77,615.38 L610.51,614.87 L611.24,614.35 L611.97,613.84 L612.70,613.32 L613.42,612.81 L614.14,612.28 L614.85,611.76 L615.56,611.24 L616.27,610.71 L616.97,610.19 L617.66,609.66 L618.35,609.12 L619.03,608.59 L619.70,608.06 L620.36,607.52 L621.02,606.98 L621.67,606.44 L622.31,605.90 L622.94,605.35 L623.56,604.81 L624.17,604.26 L624.77,603.71 L625.36,603.16 L625.94,602.60 L626.51,602.05 L627.07,601.49 L627.61,600.94 L628.15,600.38 L628.67,599.81 L629.17,599.25 L629.67,598.69 L630.15,598.12 L630.62,597.56 L631.07,596.99 L631.51,596.42 L631.93,595.85 L632.34,595.27 L632.73,594.70 L633.11,594.13 L633.47,593.55 L633.81,592.98 L634.14,592.40 L634.45,591.82 L634.81,591.14 L635.07,590.44 L635.25,589.86 L635.42,589.28 L635.56,588.70 L635.69,588.13 L635.80,587.55 L635.89,586.98 L635.96,586.41 L636.01,585.84 L636.04,585.27 L636.06,584.71 L636.05,584.15 L636.03,583.59 L635.99,583.07Z" fill="#ec8a81" stroke="#a8524c" stroke-width="0.9" stroke-linejoin="round"/>
<path d="M633.47,530.45 L633.39,530.92 L633.29,531.37 L633.18,531.81 L633.05,532.25 L632.91,532.68 L632.76,533.11 L632.59,533.54 L632.41,533.97 L632.22,534.40 L632.01,534.82 L631.79,535.24 L631.55,535.66 L631.31,536.08 L631.05,536.50 L630.77,536.92 L630.49,537.34 L630.19,537.76 L629.87,538.18 L629.55,538.60 L629.21,539.02 L628.86,539.45 L628.50,539.87 L628.12,540.30 L627.73,540.72 L627.33,541.15 L626.92,541.58 L626.49,542.01 L626.05,542.44 L625.60,542.87 L625.14,543.31 L624.67,543.74 L624.19,544.18 L623.69,544.62 L623.19,545.06 L622.67,545.51 L622.15,545.95 L621.61,546.40 L621.07,546.85 L620.52,547.30 L619.95,547.75 L619.38,548.21 L618.80,548.66 L618.21,549.12 L617.62,549.58 L617.01,550.05 L616.40,550.51 L615.79,550.98 L615.17,551.44 L614.54,551.92 L613.90,552.39 L613.26,552.86 L612.62,553.34 L611.97,553.82 L611.32,554.30 L610.66,554.78 L610.00,555.26 L609.34,555.75 L608.67,556.24 L608.01,556.73 L607.34,557.22 L606.67,557.72 L606.00,558.21 L605.33,558.71 L604.66,559.21 L603.98,559.72 L603.31,560.22 L602.65,560.73 L601.98,561.24 L601.31,561.75 L600.65,562.26 L599.99,562.78 L599.33,563.29 L598.68,563.81 L598.03,564.33 L597.39,564.86 L596.75,565.38 L596.11,565.91 L595.49,566.44 L594.86,566.97 L594.25,567.50 L593.64,568.04 L593.03,568.57 L592.44,569.11 L591.85,569.65 L591.28,570.20 L590.71,570.74 L590.15,571.29 L589.60,571.84 L589.05,572.39 L588.52,572.94 L588.00,573.49 L587.49,574.05 L587.00,574.61 L586.51,575.17 L586.04,575.73 L585.57,576.29 L585.13,576.85 L584.69,577.42 L584.27,577.99 L583.86,578.56 L583.46,579.13 L583.08,579.70 L582.72,580.28 L582.37,580.85 L582.03,581.43 L581.71,582.00 L581.41,582.58 L581.13,583.16 L580.86,583.74 L580.60,584.32 L580.37,584.90 L580.15,585.48 L579.95,586.06 L579.77,586.64 L579.60,587.22 L579.46,587.80 L579.33,588.38 L579.22,588.95 L579.17,589.41 L579.06,589.87 L578.93,590.44 L578.82,591.01 L578.73,591.58 L578.65,592.14 L578.60,592.70 L578.56,593.26 L578.50,593.79 L581.32,594.21 L581.41,593.74 L581.56,593.30 L581.72,592.86 L581.90,592.42 L582.09,591.99 L582.30,591.56 L582.52,591.13 L582.79,590.59 L583.01,590.05 L583.21,589.62 L583.42,589.20 L583.64,588.78 L583.88,588.36 L584.13,587.94 L584.40,587.52 L584.67,587.10 L584.96,586.68 L585.27,586.26 L585.58,585.84 L585.91,585.42 L586.26,585.00 L586.61,584.57 L586.98,584.15 L587.36,583.72 L587.75,583.30 L588.15,582.87 L588.57,582.44 L589.00,582.01 L589.44,581.58 L589.89,581.15 L590.36,580.71 L590.83,580.27 L591.32,579.83 L591.81,579.39 L592.32,578.95 L592.84,578.51 L593.37,578.06 L593.90,577.61 L594.45,577.16 L595.01,576.71 L595.57,576.26 L596.15,575.80 L596.73,575.35 L597.32,574.89 L597.92,574.43 L598.52,573.96 L599.13,573.50 L599.75,573.03 L600.37,572.56 L601.01,572.09 L601.64,571.62 L602.28,571.14 L602.93,570.67 L603.58,570.19 L604.23,569.71 L604.89,569.22 L605.55,568.74 L606.21,568.25 L606.88,567.76 L607.54,567.27 L608.21,566.78 L608.88,566.28 L609.55,565.79 L610.23,565.29 L610.90,564.79 L611.57,564.28 L612.24,563.78 L612.91,563.27 L613.57,562.76 L614.24,562.25 L614.90,561.74 L615.56,561.22 L616.21,560.70 L616.87,560.18 L617.51,559.66 L618.16,559.14 L618.79,558.61 L619.43,558.08 L620.05,557.56 L620.68,557.02 L621.29,556.49 L621.90,555.95 L622.50,555.42 L623.09,554.88 L623.67,554.34 L624.25,553.79 L624.82,553.25 L625.38,552.70 L625.92,552.15 L626.46,551.60 L626.99,551.05 L627.51,550.49 L628.01,549.94 L628.51,549.38 L628.99,548.82 L629.46,548.26 L629.92,547.69 L630.36,547.13 L630.80,546.56 L631.22,545.99 L631.62,545.42 L632.01,544.85 L632.39,544.28 L632.75,543.70 L633.10,543.13 L633.43,542.55 L633.74,541.98 L634.04,541.40 L634.32,540.82 L634.59,540.24 L634.83,539.66 L635.07,539.08 L635.28,538.50 L635.47,537.92 L635.65,537.34 L635.81,536.76 L635.95,536.18 L636.07,535.60 L636.18,535.03 L636.26,534.46 L636.32,533.89 L636.37,533.32 L636.40,532.75 L636.41,532.19 L636.40,531.63 L636.37,531.08 L636.32,530.55Z" fill="#ec8a81" stroke="#a8524c" stroke-width="0.9" stroke-linejoin="round"/>
<path d="M623.14,657.25 L622.99,657.72 L622.83,658.16 L622.66,658.59 L622.47,659.03 L622.27,659.46 L622.05,659.89 L621.82,660.31 L621.58,660.74 L621.32,661.16 L621.05,661.59 L620.77,662.01 L620.47,662.43 L620.16,662.86 L619.83,663.28 L619.50,663.70 L619.14,664.12 L618.78,664.55 L618.40,664.97 L618.01,665.40 L617.60,665.82 L617.17,666.27 L621.47,669.73 L621.84,669.18 L622.21,668.60 L622.57,668.03 L622.91,667.45 L623.23,666.88 L623.54,666.30 L623.82,665.72 L624.10,665.14 L624.35,664.57 L624.59,663.99 L624.80,663.41 L625.00,662.84 L625.18,662.26 L625.35,661.69 L625.49,661.11 L625.61,660.54 L625.72,659.97 L625.81,659.41 L625.87,658.84 L625.92,658.28 L625.95,657.75Z" fill="#ec8a81" stroke="#a8524c" stroke-width="0.9" stroke-linejoin="round"/>
<path d="M541.6,213.3 L530,223 L519,233.7 L512,241 L507.6,249.5 L502,254 L498.6,256 L499,261 L502,263" fill="none" stroke="#7a4aa0" stroke-width="2.5" stroke-linejoin="round"/><path d="M541.6,213.3 L530,223 L519,233.7 L512,241 L507.6,249.5 L502,254 L498.6,256 L499,261 L502,263" fill="none" stroke="#d6b8ec" stroke-width="1.5" stroke-linejoin="round"/>
<path d="M631.8,209 L615,220 L600,230 L585.5,240" fill="none" stroke="#3a78b8" stroke-width="2.3" stroke-linejoin="round"/><path d="M631.8,209 L615,220 L600,230 L585.5,240" fill="none" stroke="#8cc4ee" stroke-width="1.3" stroke-linejoin="round"/>
<path d="M571,386 L566.6,389.2 L558,391 L548,398 L535,408 L520,420 L504.9,432" fill="none" stroke="#8a7a5a" stroke-width="3.0" stroke-linejoin="round"/><path d="M571,386 L566.6,389.2 L558,391 L548,398 L535,408 L520,420 L504.9,432" fill="none" stroke="#efe4c8" stroke-width="2.0" stroke-linejoin="round"/>
<path d="M553,388 l4,-4 l6,1 l2,5 l-4,4 l-6,-1 z" fill="none" stroke="#8a7a5a" stroke-width="1.2"/>
<path d="M594,420 L605,412 L615,404 L622,396 L631.8,392.6 L627,388" fill="none" stroke="#902090" stroke-width="2.5" stroke-linejoin="round"/><path d="M594,420 L605,412 L615,404 L622,396 L631.8,392.6 L627,388" fill="none" stroke="#e050d0" stroke-width="1.5" stroke-linejoin="round"/>
<path d="M537.5,577.8 L525,588 L512,598 L501.5,607" fill="none" stroke="#4a9ab0" stroke-width="2.6" stroke-linejoin="round"/><path d="M537.5,577.8 L525,588 L512,598 L501.5,607" fill="none" stroke="#b8eaf6" stroke-width="1.6" stroke-linejoin="round"/>
<path d="M483,611 l4,-3 l4,2 l0,5 l-4,3 l-4,-2 z M491,610 l4,-3 l4,2 l0,5 l-4,3 l-4,-2 z" fill="none" stroke="#3f8aa0" stroke-width="1.2"/>
<path d="M476,612 L483,612" fill="none" stroke="#4a9ab0" stroke-width="2.2" stroke-linejoin="round"/><path d="M476,612 L483,612" fill="none" stroke="#b8eaf6" stroke-width="1.2" stroke-linejoin="round"/>
<path d="M625,571 L610,581 L595,591 L580.4,600" fill="none" stroke="#7a7a20" stroke-width="2.8" stroke-linejoin="round"/><path d="M625,571 L610,581 L595,591 L580.4,600" fill="none" stroke="#eeee50" stroke-width="1.8" stroke-linejoin="round"/>
<text transform="translate(4.10 342.80) scale(0.9 1)" font-size="24" fill="#000">E</text>
<rect x="27.2" y="350.5" width="350.5" height="42.80000000000001" fill="#d9d9d9"/>
<rect x="27.2" y="393.3" width="350.5" height="14.399999999999977" fill="#d9f0d2"/>
<rect x="27.2" y="407.7" width="350.5" height="13.600000000000023" fill="#ddebf7"/>
<rect x="27.2" y="421.3" width="350.5" height="13.300000000000011" fill="#d9f0d2"/>
<line x1="27.2" y1="350.5" x2="377.7" y2="350.5" stroke="#222" stroke-width="1.4"/>
<line x1="27.2" y1="393.3" x2="377.7" y2="393.3" stroke="#222" stroke-width="1.4"/>
<line x1="27.2" y1="407.7" x2="377.7" y2="407.7" stroke="#222" stroke-width="1.0"/>
<line x1="27.2" y1="421.3" x2="377.7" y2="421.3" stroke="#222" stroke-width="1.0"/>
<line x1="27.2" y1="434.6" x2="377.7" y2="434.6" stroke="#222" stroke-width="1.4"/>
<line x1="27.2" y1="350.5" x2="27.2" y2="434.6" stroke="#222" stroke-width="1.4"/>
<line x1="100.5" y1="350.5" x2="100.5" y2="434.6" stroke="#222" stroke-width="1.4"/>
<line x1="167.6" y1="350.5" x2="167.6" y2="434.6" stroke="#222" stroke-width="1.4"/>
<line x1="237.5" y1="350.5" x2="237.5" y2="434.6" stroke="#222" stroke-width="1.4"/>
<line x1="307.6" y1="350.5" x2="307.6" y2="434.6" stroke="#222" stroke-width="1.4"/>
<line x1="377.7" y1="350.5" x2="377.7" y2="434.6" stroke="#222" stroke-width="1.4"/>
<text x="63.85" y="372.30" font-size="11" text-anchor="middle" fill="#333" font-weight="normal" >Applied 3D</text>
<text x="62.85" y="382.80" font-size="11" text-anchor="middle" fill="#333" font-weight="normal" >QSAR Model<tspan font-size="6" dy="-4">a</tspan></text>
<text x="134.05" y="376.20" font-size="11" text-anchor="middle" fill="#333" font-weight="normal" >Pred Smina<tspan font-size="6" dy="-4">b</tspan></text>
<text x="202.55" y="372.30" font-size="11" text-anchor="middle" fill="#333" font-weight="normal" >Pred Smina</text>
<text x="204.05" y="382.80" font-size="11" text-anchor="middle" fill="#333" font-weight="normal" >Min<tspan font-size="6" dy="-4">c</tspan></text>
<text x="272.55" y="376.20" font-size="11" text-anchor="middle" fill="#333" font-weight="normal" >Pred Plants<tspan font-size="6" dy="-4">d</tspan></text>
<text x="340.85" y="370.40" font-size="11" text-anchor="middle" fill="#333" font-weight="normal" >Average</text>
<text x="342.85" y="380.90" font-size="11" text-anchor="middle" fill="#333" font-weight="normal" >Pred<tspan font-size="6" dy="-4">e</tspan></text>
<text x="63.85" y="404.60" font-size="11" text-anchor="middle" fill="#333" font-weight="normal" >1</text>
<text x="134.05" y="404.60" font-size="11" text-anchor="middle" fill="#333" font-weight="normal" >6.34</text>
<text x="202.55" y="404.60" font-size="11" text-anchor="middle" fill="#333" font-weight="normal" >6.36</text>
<text x="272.55" y="404.60" font-size="11" text-anchor="middle" fill="#333" font-weight="normal" >6.93</text>
<text x="342.65" y="404.60" font-size="11" text-anchor="middle" fill="#333" font-weight="normal" >6.54</text>
<text x="63.85" y="419.00" font-size="11" text-anchor="middle" fill="#333" font-weight="normal" >2</text>
<text x="134.05" y="419.00" font-size="11" text-anchor="middle" fill="#333" font-weight="normal" >7.16</text>
<text x="202.55" y="419.00" font-size="11" text-anchor="middle" fill="#333" font-weight="normal" >7.60</text>
<text x="272.55" y="419.00" font-size="11" text-anchor="middle" fill="#333" font-weight="normal" >8.02</text>
<text x="342.65" y="419.00" font-size="11" text-anchor="middle" fill="#333" font-weight="normal" >7.59</text>
<text x="63.85" y="432.60" font-size="11" text-anchor="middle" fill="#333" font-weight="normal" >3</text>
<text x="134.05" y="432.60" font-size="11" text-anchor="middle" fill="#333" font-weight="normal" >7.47</text>
<text x="202.55" y="432.60" font-size="11" text-anchor="middle" fill="#333" font-weight="normal" >7.18</text>
<text x="272.55" y="432.60" font-size="11" text-anchor="middle" fill="#333" font-weight="normal" >7.23</text>
<text x="342.65" y="432.60" font-size="11" text-anchor="middle" fill="#333" font-weight="normal" >7.29</text>
<text transform="translate(2.00 507.80) scale(0.9 1)" font-size="24" fill="#000">F</text>
<line x1="34.2" y1="521.51" x2="34.2" y2="638.00" stroke="#222" stroke-width="1"/>
<line x1="33.7" y1="637.70" x2="206.5" y2="637.70" stroke="#222" stroke-width="1"/>
<line x1="29.400000000000002" y1="637.50" x2="34.2" y2="637.50" stroke="#222" stroke-width="0.9"/>
<text x="26.80" y="640.00" font-size="7.2" text-anchor="end" fill="#222" font-weight="normal" >0</text>
<line x1="31.200000000000003" y1="628.07" x2="34.2" y2="628.07" stroke="#222" stroke-width="0.9"/>
<line x1="29.400000000000002" y1="618.64" x2="34.2" y2="618.64" stroke="#222" stroke-width="0.9"/>
<text x="26.80" y="621.14" font-size="7.2" text-anchor="end" fill="#222" font-weight="normal" >2</text>
<line x1="31.200000000000003" y1="609.21" x2="34.2" y2="609.21" stroke="#222" stroke-width="0.9"/>
<line x1="29.400000000000002" y1="599.78" x2="34.2" y2="599.78" stroke="#222" stroke-width="0.9"/>
<text x="26.80" y="602.28" font-size="7.2" text-anchor="end" fill="#222" font-weight="normal" >4</text>
<line x1="31.200000000000003" y1="590.35" x2="34.2" y2="590.35" stroke="#222" stroke-width="0.9"/>
<line x1="29.400000000000002" y1="580.92" x2="34.2" y2="580.92" stroke="#222" stroke-width="0.9"/>
<text x="26.80" y="583.42" font-size="7.2" text-anchor="end" fill="#222" font-weight="normal" >6</text>
<line x1="31.200000000000003" y1="571.49" x2="34.2" y2="571.49" stroke="#222" stroke-width="0.9"/>
<line x1="29.400000000000002" y1="562.06" x2="34.2" y2="562.06" stroke="#222" stroke-width="0.9"/>
<text x="26.80" y="564.56" font-size="7.2" text-anchor="end" fill="#222" font-weight="normal" >8</text>
<line x1="31.200000000000003" y1="552.63" x2="34.2" y2="552.63" stroke="#222" stroke-width="0.9"/>
<line x1="29.400000000000002" y1="543.20" x2="34.2" y2="543.20" stroke="#222" stroke-width="0.9"/>
<text x="26.80" y="545.70" font-size="7.2" text-anchor="end" fill="#222" font-weight="normal" >10</text>
<line x1="31.200000000000003" y1="533.77" x2="34.2" y2="533.77" stroke="#222" stroke-width="0.9"/>
<line x1="29.400000000000002" y1="524.34" x2="34.2" y2="524.34" stroke="#222" stroke-width="0.9"/>
<text x="26.80" y="526.84" font-size="7.2" text-anchor="end" fill="#222" font-weight="normal" >12</text>
<line x1="38.40" y1="637.50" x2="38.40" y2="640.50" stroke="#222" stroke-width="0.9"/>
<text x="38.90" y="650.20" font-size="7.2" text-anchor="middle" fill="#222" font-weight="normal" >400</text>
<line x1="51.05" y1="637.50" x2="51.05" y2="639.80" stroke="#222" stroke-width="0.9"/>
<line x1="63.70" y1="637.50" x2="63.70" y2="640.50" stroke="#222" stroke-width="0.9"/>
<text x="64.20" y="650.20" font-size="7.2" text-anchor="middle" fill="#222" font-weight="normal" >450</text>
<line x1="76.35" y1="637.50" x2="76.35" y2="639.80" stroke="#222" stroke-width="0.9"/>
<line x1="89.00" y1="637.50" x2="89.00" y2="640.50" stroke="#222" stroke-width="0.9"/>
<text x="89.50" y="650.20" font-size="7.2" text-anchor="middle" fill="#222" font-weight="normal" >500</text>
<line x1="101.65" y1="637.50" x2="101.65" y2="639.80" stroke="#222" stroke-width="0.9"/>
<line x1="114.30" y1="637.50" x2="114.30" y2="640.50" stroke="#222" stroke-width="0.9"/>
<text x="114.80" y="650.20" font-size="7.2" text-anchor="middle" fill="#222" font-weight="normal" >550</text>
<line x1="126.95" y1="637.50" x2="126.95" y2="639.80" stroke="#222" stroke-width="0.9"/>
<line x1="139.60" y1="637.50" x2="139.60" y2="640.50" stroke="#222" stroke-width="0.9"/>
<text x="140.10" y="650.20" font-size="7.2" text-anchor="middle" fill="#222" font-weight="normal" >600</text>
<line x1="152.25" y1="637.50" x2="152.25" y2="639.80" stroke="#222" stroke-width="0.9"/>
<line x1="164.90" y1="637.50" x2="164.90" y2="640.50" stroke="#222" stroke-width="0.9"/>
<text x="165.40" y="650.20" font-size="7.2" text-anchor="middle" fill="#222" font-weight="normal" >650</text>
<line x1="177.55" y1="637.50" x2="177.55" y2="639.80" stroke="#222" stroke-width="0.9"/>
<line x1="190.20" y1="637.50" x2="190.20" y2="640.50" stroke="#222" stroke-width="0.9"/>
<text x="190.70" y="650.20" font-size="7.2" text-anchor="middle" fill="#222" font-weight="normal" >700</text>
<line x1="202.85" y1="637.50" x2="202.85" y2="639.80" stroke="#222" stroke-width="0.9"/>
<text x="117.40" y="661.00" font-size="8.4" text-anchor="middle" fill="#222" font-weight="normal" >wavelength (nm)</text>
<text transform="translate(15.2 577.2) rotate(-90)" font-size="8.7" text-anchor="middle" fill="#222">photoluminescence (x 10<tspan font-size="5.5" dy="-3">6</tspan><tspan dy="3">)</tspan></text>
<path d="M33.59,637.48 L34.60,637.47 L35.62,637.47 L36.63,637.46 L37.64,637.45 L38.65,637.44 L39.66,637.43 L40.68,637.42 L41.69,637.41 L42.70,637.40 L43.71,637.38 L44.73,637.37 L45.74,637.35 L46.75,637.34 L47.76,637.33 L48.77,637.32 L49.78,637.31 L50.80,637.30 L51.81,637.29 L52.82,637.28 L53.83,637.27 L54.84,637.26 L55.86,637.25 L56.87,637.25 L57.88,637.24 L58.89,637.24 L59.91,637.24 L60.92,637.23 L61.93,637.23 L62.94,637.23 L63.95,637.23 L64.97,637.22 L65.98,637.22 L66.99,637.22 L68.00,637.22 L69.01,637.22 L70.03,637.22 L71.04,637.22 L72.05,637.22 L73.06,637.22 L74.07,637.23 L75.09,637.23 L76.10,637.24 L77.11,637.24 L78.12,637.25 L79.13,637.25 L80.14,637.26 L81.16,637.26 L82.17,637.27 L83.18,637.28 L84.19,637.28 L85.20,637.29 L86.22,637.30 L87.23,637.30 L88.24,637.31 L89.25,637.32 L90.27,637.32 L91.28,637.33 L92.29,637.33 L93.30,637.34 L94.31,637.34 L95.32,637.35 L96.34,637.36 L97.35,637.36 L98.36,637.37 L99.37,637.37 L100.38,637.38 L101.40,637.38 L102.41,637.39 L103.42,637.39 L104.43,637.40 L105.44,637.40 L106.46,637.41 L107.47,637.41 L108.48,637.42 L109.49,637.42 L110.50,637.43 L111.52,637.43 L112.53,637.44 L113.54,637.44 L114.55,637.45 L115.56,637.45 L116.58,637.45 L117.59,637.46 L118.60,637.46 L119.61,637.46 L120.62,637.46 L121.64,637.47 L122.65,637.47 L123.66,637.47 L124.67,637.47 L125.69,637.48 L126.70,637.48 L127.71,637.48 L128.72,637.48 L129.73,637.48 L130.75,637.48 L131.76,637.48 L132.77,637.49 L133.78,637.49 L134.79,637.49 L135.81,637.49 L136.82,637.49 L137.83,637.49 L138.84,637.49 L139.85,637.49 L140.87,637.49 L141.88,637.49 L142.89,637.49 L143.90,637.49 L144.91,637.49 L145.93,637.49 L146.94,637.49 L147.95,637.49 L148.96,637.49 L149.97,637.50 L150.99,637.50 L152.00,637.50 L153.01,637.50 L154.02,637.50 L155.03,637.50 L156.04,637.50 L157.06,637.50 L158.07,637.50 L159.08,637.50 L160.09,637.50 L161.10,637.50 L162.12,637.50 L163.13,637.50 L164.14,637.50 L165.15,637.50 L166.16,637.50 L167.18,637.50 L168.19,637.50 L169.20,637.50 L170.21,637.50 L171.22,637.50 L172.24,637.50 L173.25,637.50 L174.26,637.50 L175.27,637.50 L176.28,637.50 L177.30,637.50 L178.31,637.50 L179.32,637.50 L180.33,637.50 L181.34,637.50 L182.36,637.50 L183.37,637.50 L184.38,637.50 L185.39,637.50 L186.41,637.50 L187.42,637.50 L188.43,637.50 L189.44,637.50 L190.45,637.50 L191.47,637.50 L192.48,637.50 L193.49,637.50 L194.50,637.50 L195.51,637.50 L196.53,637.50 L197.54,637.50 L198.55,637.50 L199.56,637.50 L200.57,637.50" fill="none" stroke="#c0282d" stroke-width="1.6"/>
<path d="M33.59,636.92 L34.60,636.80 L35.62,636.63 L36.63,636.44 L37.64,636.21 L38.65,635.97 L39.66,635.71 L40.68,635.42 L41.69,635.12 L42.70,634.81 L43.71,634.46 L44.73,634.10 L45.74,633.76 L46.75,633.44 L47.76,633.14 L48.77,632.85 L49.78,632.57 L50.80,632.28 L51.81,632.01 L52.82,631.77 L53.83,631.56 L54.84,631.37 L55.86,631.21 L56.87,631.06 L57.88,630.93 L58.89,630.82 L59.91,630.73 L60.92,630.66 L61.93,630.60 L62.94,630.54 L63.95,630.49 L64.97,630.44 L65.98,630.40 L66.99,630.35 L68.00,630.29 L69.01,630.25 L70.03,630.24 L71.04,630.27 L72.05,630.33 L73.06,630.40 L74.07,630.50 L75.09,630.61 L76.10,630.72 L77.11,630.85 L78.12,630.98 L79.13,631.12 L80.14,631.27 L81.16,631.43 L82.17,631.60 L83.18,631.77 L84.19,631.94 L85.20,632.11 L86.22,632.28 L87.23,632.45 L88.24,632.61 L89.25,632.77 L90.27,632.93 L91.28,633.08 L92.29,633.23 L93.30,633.38 L94.31,633.52 L95.32,633.66 L96.34,633.79 L97.35,633.92 L98.36,634.05 L99.37,634.18 L100.38,634.32 L101.40,634.45 L102.41,634.59 L103.42,634.73 L104.43,634.87 L105.44,635.01 L106.46,635.15 L107.47,635.28 L108.48,635.41 L109.49,635.55 L110.50,635.68 L111.52,635.80 L112.53,635.92 L113.54,636.04 L114.55,636.14 L115.56,636.23 L116.58,636.32 L117.59,636.40 L118.60,636.47 L119.61,636.54 L120.62,636.60 L121.64,636.66 L122.65,636.72 L123.66,636.77 L124.67,636.83 L125.69,636.87 L126.70,636.92 L127.71,636.96 L128.72,636.99 L129.73,637.03 L130.75,637.06 L131.76,637.09 L132.77,637.12 L133.78,637.14 L134.79,637.17 L135.81,637.20 L136.82,637.22 L137.83,637.24 L138.84,637.26 L139.85,637.28 L140.87,637.29 L141.88,637.31 L142.89,637.32 L143.90,637.33 L144.91,637.34 L145.93,637.35 L146.94,637.36 L147.95,637.36 L148.96,637.37 L149.97,637.38 L150.99,637.39 L152.00,637.39 L153.01,637.40 L154.02,637.40 L155.03,637.41 L156.04,637.41 L157.06,637.42 L158.07,637.42 L159.08,637.43 L160.09,637.43 L161.10,637.44 L162.12,637.44 L163.13,637.44 L164.14,637.45 L165.15,637.45 L166.16,637.46 L167.18,637.46 L168.19,637.46 L169.20,637.47 L170.21,637.47 L171.22,637.47 L172.24,637.47 L173.25,637.48 L174.26,637.48 L175.27,637.48 L176.28,637.48 L177.30,637.48 L178.31,637.48 L179.32,637.48 L180.33,637.48 L181.34,637.49 L182.36,637.49 L183.37,637.49 L184.38,637.49 L185.39,637.49 L186.41,637.49 L187.42,637.49 L188.43,637.49 L189.44,637.49 L190.45,637.49 L191.47,637.50 L192.48,637.50 L193.49,637.50 L194.50,637.50 L195.51,637.50 L196.53,637.50 L197.54,637.50 L198.55,637.50 L199.56,637.50 L200.57,637.50" fill="none" stroke="#f05a28" stroke-width="0.9"/>
<path d="M33.59,635.14 L34.60,634.64 L35.62,633.98 L36.63,633.18 L37.64,632.26 L38.65,631.26 L39.66,630.21 L40.68,629.05 L41.69,627.83 L42.70,626.55 L43.71,625.14 L44.73,623.68 L45.74,622.28 L46.75,621.00 L47.76,619.78 L48.77,618.60 L49.78,617.44 L50.80,616.29 L51.81,615.19 L52.82,614.23 L53.83,613.37 L54.84,612.60 L55.86,611.92 L56.87,611.33 L57.88,610.79 L58.89,610.33 L59.91,609.97 L60.92,609.68 L61.93,609.44 L62.94,609.22 L63.95,609.01 L64.97,608.81 L65.98,608.62 L66.99,608.42 L68.00,608.20 L69.01,608.03 L70.03,607.99 L71.04,608.13 L72.05,608.37 L73.06,608.65 L74.07,609.05 L75.09,609.48 L76.10,609.95 L77.11,610.45 L78.12,610.99 L79.13,611.56 L80.14,612.16 L81.16,612.81 L82.17,613.50 L83.18,614.20 L84.19,614.90 L85.20,615.58 L86.22,616.27 L87.23,616.95 L88.24,617.63 L89.25,618.28 L90.27,618.92 L91.28,619.54 L92.29,620.15 L93.30,620.74 L94.31,621.32 L95.32,621.87 L96.34,622.41 L97.35,622.94 L98.36,623.48 L99.37,624.02 L100.38,624.57 L101.40,625.12 L102.41,625.68 L103.42,626.23 L104.43,626.80 L105.44,627.37 L106.46,627.94 L107.47,628.48 L108.48,629.02 L109.49,629.56 L110.50,630.09 L111.52,630.60 L112.53,631.10 L113.54,631.56 L114.55,631.98 L115.56,632.35 L116.58,632.69 L117.59,633.01 L118.60,633.31 L119.61,633.59 L120.62,633.85 L121.64,634.09 L122.65,634.33 L123.66,634.55 L124.67,634.76 L125.69,634.95 L126.70,635.13 L127.71,635.29 L128.72,635.43 L129.73,635.57 L130.75,635.70 L131.76,635.82 L132.77,635.94 L133.78,636.05 L134.79,636.16 L135.81,636.27 L136.82,636.37 L137.83,636.46 L138.84,636.54 L139.85,636.60 L140.87,636.66 L141.88,636.71 L142.89,636.76 L143.90,636.80 L144.91,636.84 L145.93,636.88 L146.94,636.91 L147.95,636.94 L148.96,636.98 L149.97,637.00 L150.99,637.03 L152.00,637.06 L153.01,637.08 L154.02,637.11 L155.03,637.13 L156.04,637.15 L157.06,637.17 L158.07,637.19 L159.08,637.21 L160.09,637.22 L161.10,637.24 L162.12,637.26 L163.13,637.28 L164.14,637.29 L165.15,637.31 L166.16,637.32 L167.18,637.34 L168.19,637.35 L169.20,637.36 L170.21,637.37 L171.22,637.38 L172.24,637.39 L173.25,637.40 L174.26,637.41 L175.27,637.41 L176.28,637.42 L177.30,637.42 L178.31,637.43 L179.32,637.43 L180.33,637.44 L181.34,637.44 L182.36,637.45 L183.37,637.45 L184.38,637.46 L185.39,637.46 L186.41,637.47 L187.42,637.47 L188.43,637.47 L189.44,637.48 L190.45,637.48 L191.47,637.48 L192.48,637.49 L193.49,637.49 L194.50,637.49 L195.51,637.49 L196.53,637.49 L197.54,637.50 L198.55,637.50 L199.56,637.50 L200.57,637.50" fill="none" stroke="#f5a040" stroke-width="0.9"/>
<path d="M33.59,633.26 L34.60,632.35 L35.62,631.16 L36.63,629.73 L37.64,628.07 L38.65,626.28 L39.66,624.38 L40.68,622.31 L41.69,620.10 L42.70,617.80 L43.71,615.27 L44.73,612.64 L45.74,610.13 L46.75,607.82 L47.76,605.62 L48.77,603.50 L49.78,601.42 L50.80,599.35 L51.81,597.38 L52.82,595.64 L53.83,594.10 L54.84,592.71 L55.86,591.48 L56.87,590.42 L57.88,589.46 L58.89,588.63 L59.91,587.98 L60.92,587.47 L61.93,587.03 L62.94,586.63 L63.95,586.25 L64.97,585.89 L65.98,585.55 L66.99,585.19 L68.00,584.80 L69.01,584.49 L70.03,584.42 L71.04,584.67 L72.05,585.10 L73.06,585.61 L74.07,586.32 L75.09,587.10 L76.10,587.94 L77.11,588.85 L78.12,589.82 L79.13,590.84 L80.14,591.91 L81.16,593.08 L82.17,594.32 L83.18,595.59 L84.19,596.84 L85.20,598.07 L86.22,599.31 L87.23,600.54 L88.24,601.75 L89.25,602.93 L90.27,604.08 L91.28,605.20 L92.29,606.29 L93.30,607.36 L94.31,608.40 L95.32,609.39 L96.34,610.36 L97.35,611.32 L98.36,612.28 L99.37,613.26 L100.38,614.24 L101.40,615.24 L102.41,616.23 L103.42,617.23 L104.43,618.25 L105.44,619.29 L106.46,620.31 L107.47,621.28 L108.48,622.25 L109.49,623.21 L110.50,624.17 L111.52,625.10 L112.53,625.98 L113.54,626.81 L114.55,627.56 L115.56,628.24 L116.58,628.85 L117.59,629.43 L118.60,629.96 L119.61,630.46 L120.62,630.93 L121.64,631.37 L122.65,631.79 L123.66,632.19 L124.67,632.57 L125.69,632.91 L126.70,633.23 L127.71,633.52 L128.72,633.78 L129.73,634.03 L130.75,634.26 L131.76,634.48 L132.77,634.69 L133.78,634.89 L134.79,635.09 L135.81,635.29 L136.82,635.47 L137.83,635.63 L138.84,635.77 L139.85,635.89 L140.87,635.99 L141.88,636.08 L142.89,636.17 L143.90,636.25 L144.91,636.32 L145.93,636.38 L146.94,636.44 L147.95,636.50 L148.96,636.56 L149.97,636.61 L150.99,636.66 L152.00,636.71 L153.01,636.75 L154.02,636.80 L155.03,636.84 L156.04,636.87 L157.06,636.91 L158.07,636.94 L159.08,636.97 L160.09,637.01 L161.10,637.04 L162.12,637.07 L163.13,637.10 L164.14,637.13 L165.15,637.15 L166.16,637.18 L167.18,637.20 L168.19,637.23 L169.20,637.25 L170.21,637.27 L171.22,637.29 L172.24,637.31 L173.25,637.32 L174.26,637.33 L175.27,637.34 L176.28,637.35 L177.30,637.36 L178.31,637.37 L179.32,637.38 L180.33,637.39 L181.34,637.40 L182.36,637.41 L183.37,637.41 L184.38,637.42 L185.39,637.43 L186.41,637.44 L187.42,637.44 L188.43,637.45 L189.44,637.46 L190.45,637.46 L191.47,637.47 L192.48,637.47 L193.49,637.48 L194.50,637.48 L195.51,637.49 L196.53,637.49 L197.54,637.49 L198.55,637.50 L199.56,637.50 L200.57,637.50" fill="none" stroke="#d4e436" stroke-width="0.9"/>
<path d="M33.59,631.82 L34.60,630.59 L35.62,629.00 L36.63,627.08 L37.64,624.86 L38.65,622.45 L39.66,619.91 L40.68,617.13 L41.69,614.17 L42.70,611.08 L43.71,607.69 L44.73,604.17 L45.74,600.80 L46.75,597.70 L47.76,594.75 L48.77,591.90 L49.78,589.12 L50.80,586.33 L51.81,583.69 L52.82,581.36 L53.83,579.30 L54.84,577.43 L55.86,575.79 L56.87,574.37 L57.88,573.08 L58.89,571.97 L59.91,571.09 L60.92,570.40 L61.93,569.82 L62.94,569.28 L63.95,568.77 L64.97,568.29 L65.98,567.84 L66.99,567.36 L68.00,566.82 L69.01,566.42 L70.03,566.32 L71.04,566.66 L72.05,567.22 L73.06,567.91 L74.07,568.87 L75.09,569.91 L76.10,571.04 L77.11,572.25 L78.12,573.56 L79.13,574.93 L80.14,576.36 L81.16,577.94 L82.17,579.60 L83.18,581.30 L84.19,582.98 L85.20,584.62 L86.22,586.28 L87.23,587.94 L88.24,589.56 L89.25,591.14 L90.27,592.68 L91.28,594.18 L92.29,595.65 L93.30,597.08 L94.31,598.47 L95.32,599.81 L96.34,601.11 L97.35,602.39 L98.36,603.67 L99.37,604.99 L100.38,606.31 L101.40,607.64 L102.41,608.98 L103.42,610.32 L104.43,611.68 L105.44,613.07 L106.46,614.44 L107.47,615.75 L108.48,617.04 L109.49,618.34 L110.50,619.62 L111.52,620.87 L112.53,622.05 L113.54,623.16 L114.55,624.18 L115.56,625.08 L116.58,625.91 L117.59,626.67 L118.60,627.39 L119.61,628.06 L120.62,628.69 L121.64,629.28 L122.65,629.85 L123.66,630.38 L124.67,630.89 L125.69,631.35 L126.70,631.78 L127.71,632.16 L128.72,632.52 L129.73,632.85 L130.75,633.16 L131.76,633.45 L132.77,633.73 L133.78,634.00 L134.79,634.27 L135.81,634.53 L136.82,634.78 L137.83,634.99 L138.84,635.18 L139.85,635.34 L140.87,635.48 L141.88,635.60 L142.89,635.72 L143.90,635.82 L144.91,635.91 L145.93,636.00 L146.94,636.08 L147.95,636.16 L148.96,636.23 L149.97,636.31 L150.99,636.37 L152.00,636.44 L153.01,636.50 L154.02,636.55 L155.03,636.61 L156.04,636.66 L157.06,636.71 L158.07,636.75 L159.08,636.79 L160.09,636.84 L161.10,636.88 L162.12,636.92 L163.13,636.96 L164.14,637.00 L165.15,637.03 L166.16,637.07 L167.18,637.10 L168.19,637.14 L169.20,637.16 L170.21,637.19 L171.22,637.22 L172.24,637.24 L173.25,637.26 L174.26,637.28 L175.27,637.29 L176.28,637.30 L177.30,637.32 L178.31,637.33 L179.32,637.34 L180.33,637.35 L181.34,637.36 L182.36,637.37 L183.37,637.39 L184.38,637.40 L185.39,637.41 L186.41,637.42 L187.42,637.43 L188.43,637.43 L189.44,637.44 L190.45,637.45 L191.47,637.46 L192.48,637.46 L193.49,637.47 L194.50,637.48 L195.51,637.48 L196.53,637.49 L197.54,637.49 L198.55,637.49 L199.56,637.50 L200.57,637.50" fill="none" stroke="#5dc850" stroke-width="0.9"/>
<path d="M33.59,630.60 L34.60,629.12 L35.62,627.19 L36.63,624.86 L37.64,622.16 L38.65,619.24 L39.66,616.15 L40.68,612.78 L41.69,609.20 L42.70,605.44 L43.71,601.34 L44.73,597.06 L45.74,592.97 L46.75,589.22 L47.76,585.63 L48.77,582.18 L49.78,578.80 L50.80,575.42 L51.81,572.22 L52.82,569.39 L53.83,566.89 L54.84,564.63 L55.86,562.63 L56.87,560.90 L57.88,559.34 L58.89,557.99 L59.91,556.93 L60.92,556.09 L61.93,555.39 L62.94,554.74 L63.95,554.11 L64.97,553.53 L65.98,552.98 L66.99,552.40 L68.00,551.75 L69.01,551.26 L70.03,551.14 L71.04,551.55 L72.05,552.24 L73.06,553.07 L74.07,554.23 L75.09,555.50 L76.10,556.86 L77.11,558.34 L78.12,559.92 L79.13,561.58 L80.14,563.33 L81.16,565.24 L82.17,567.25 L83.18,569.32 L84.19,571.35 L85.20,573.35 L86.22,575.36 L87.23,577.37 L88.24,579.34 L89.25,581.26 L90.27,583.12 L91.28,584.94 L92.29,586.72 L93.30,588.46 L94.31,590.15 L95.32,591.77 L96.34,593.35 L97.35,594.90 L98.36,596.46 L99.37,598.05 L100.38,599.66 L101.40,601.28 L102.41,602.90 L103.42,604.53 L104.43,606.18 L105.44,607.87 L106.46,609.53 L107.47,611.11 L108.48,612.68 L109.49,614.26 L110.50,615.81 L111.52,617.32 L112.53,618.76 L113.54,620.11 L114.55,621.34 L115.56,622.43 L116.58,623.43 L117.59,624.37 L118.60,625.23 L119.61,626.05 L120.62,626.81 L121.64,627.53 L122.65,628.21 L123.66,628.86 L124.67,629.47 L125.69,630.04 L126.70,630.56 L127.71,631.02 L128.72,631.45 L129.73,631.85 L130.75,632.23 L131.76,632.59 L132.77,632.93 L133.78,633.26 L134.79,633.58 L135.81,633.90 L136.82,634.20 L137.83,634.46 L138.84,634.69 L139.85,634.87 L140.87,635.04 L141.88,635.20 L142.89,635.33 L143.90,635.46 L144.91,635.57 L145.93,635.68 L146.94,635.78 L147.95,635.87 L148.96,635.96 L149.97,636.05 L150.99,636.13 L152.00,636.21 L153.01,636.28 L154.02,636.35 L155.03,636.42 L156.04,636.48 L157.06,636.54 L158.07,636.59 L159.08,636.64 L160.09,636.69 L161.10,636.75 L162.12,636.80 L163.13,636.84 L164.14,636.89 L165.15,636.94 L166.16,636.98 L167.18,637.02 L168.19,637.06 L169.20,637.09 L170.21,637.13 L171.22,637.16 L172.24,637.18 L173.25,637.21 L174.26,637.23 L175.27,637.24 L176.28,637.26 L177.30,637.28 L178.31,637.29 L179.32,637.31 L180.33,637.32 L181.34,637.33 L182.36,637.35 L183.37,637.36 L184.38,637.37 L185.39,637.39 L186.41,637.40 L187.42,637.41 L188.43,637.42 L189.44,637.43 L190.45,637.44 L191.47,637.45 L192.48,637.46 L193.49,637.46 L194.50,637.47 L195.51,637.48 L196.53,637.48 L197.54,637.49 L198.55,637.49 L199.56,637.50 L200.57,637.50" fill="none" stroke="#1d6b32" stroke-width="0.9"/>
<path d="M33.59,629.79 L34.60,628.13 L35.62,625.97 L36.63,623.37 L37.64,620.36 L38.65,617.09 L39.66,613.64 L40.68,609.87 L41.69,605.86 L42.70,601.67 L43.71,597.07 L44.73,592.29 L45.74,587.72 L46.75,583.53 L47.76,579.52 L48.77,575.66 L49.78,571.88 L50.80,568.10 L51.81,564.52 L52.82,561.36 L53.83,558.57 L54.84,556.03 L55.86,553.80 L56.87,551.87 L57.88,550.12 L58.89,548.62 L59.91,547.43 L60.92,546.50 L61.93,545.70 L62.94,544.98 L63.95,544.28 L64.97,543.63 L65.98,543.02 L66.99,542.36 L68.00,541.64 L69.01,541.09 L70.03,540.96 L71.04,541.41 L72.05,542.18 L73.06,543.12 L74.07,544.41 L75.09,545.83 L76.10,547.35 L77.11,549.01 L78.12,550.77 L79.13,552.63 L80.14,554.58 L81.16,556.72 L82.17,558.97 L83.18,561.28 L84.19,563.56 L85.20,565.78 L86.22,568.03 L87.23,570.28 L88.24,572.48 L89.25,574.63 L90.27,576.71 L91.28,578.75 L92.29,580.74 L93.30,582.68 L94.31,584.57 L95.32,586.38 L96.34,588.14 L97.35,589.88 L98.36,591.62 L99.37,593.40 L100.38,595.20 L101.40,597.00 L102.41,598.82 L103.42,600.64 L104.43,602.49 L105.44,604.37 L106.46,606.23 L107.47,608.00 L108.48,609.76 L109.49,611.52 L110.50,613.25 L111.52,614.94 L112.53,616.55 L113.54,618.06 L114.55,619.43 L115.56,620.65 L116.58,621.78 L117.59,622.82 L118.60,623.79 L119.61,624.69 L120.62,625.55 L121.64,626.35 L122.65,627.12 L123.66,627.85 L124.67,628.53 L125.69,629.16 L126.70,629.74 L127.71,630.26 L128.72,630.74 L129.73,631.19 L130.75,631.61 L131.76,632.01 L132.77,632.39 L133.78,632.76 L134.79,633.12 L135.81,633.48 L136.82,633.81 L137.83,634.10 L138.84,634.35 L139.85,634.57 L140.87,634.75 L141.88,634.93 L142.89,635.08 L143.90,635.22 L144.91,635.35 L145.93,635.46 L146.94,635.57 L147.95,635.68 L148.96,635.78 L149.97,635.88 L150.99,635.97 L152.00,636.06 L153.01,636.14 L154.02,636.22 L155.03,636.29 L156.04,636.36 L157.06,636.42 L158.07,636.48 L159.08,636.54 L160.09,636.60 L161.10,636.66 L162.12,636.71 L163.13,636.77 L164.14,636.82 L165.15,636.87 L166.16,636.92 L167.18,636.96 L168.19,637.01 L169.20,637.05 L170.21,637.08 L171.22,637.12 L172.24,637.15 L173.25,637.17 L174.26,637.20 L175.27,637.21 L176.28,637.23 L177.30,637.25 L178.31,637.27 L179.32,637.28 L180.33,637.30 L181.34,637.31 L182.36,637.33 L183.37,637.34 L184.38,637.36 L185.39,637.37 L186.41,637.39 L187.42,637.40 L188.43,637.41 L189.44,637.42 L190.45,637.43 L191.47,637.44 L192.48,637.45 L193.49,637.46 L194.50,637.47 L195.51,637.48 L196.53,637.48 L197.54,637.49 L198.55,637.49 L199.56,637.49 L200.57,637.50" fill="none" stroke="#8cc8ef" stroke-width="0.9"/>
<path d="M33.59,629.22 L34.60,627.44 L35.62,625.11 L36.63,622.32 L37.64,619.08 L38.65,615.58 L39.66,611.87 L40.68,607.82 L41.69,603.51 L42.70,599.01 L43.71,594.07 L44.73,588.93 L45.74,584.02 L46.75,579.52 L47.76,575.22 L48.77,571.07 L49.78,567.01 L50.80,562.95 L51.81,559.11 L52.82,555.71 L53.83,552.71 L54.84,549.99 L55.86,547.59 L56.87,545.52 L57.88,543.64 L58.89,542.02 L59.91,540.75 L60.92,539.74 L61.93,538.89 L62.94,538.11 L63.95,537.36 L64.97,536.66 L65.98,536.00 L66.99,535.30 L68.00,534.53 L69.01,533.93 L70.03,533.79 L71.04,534.28 L72.05,535.11 L73.06,536.12 L74.07,537.51 L75.09,539.03 L76.10,540.66 L77.11,542.44 L78.12,544.34 L79.13,546.33 L80.14,548.43 L81.16,550.72 L82.17,553.14 L83.18,555.62 L84.19,558.07 L85.20,560.46 L86.22,562.88 L87.23,565.29 L88.24,567.66 L89.25,569.96 L90.27,572.20 L91.28,574.38 L92.29,576.52 L93.30,578.61 L94.31,580.64 L95.32,582.59 L96.34,584.48 L97.35,586.34 L98.36,588.22 L99.37,590.13 L100.38,592.06 L101.40,594.00 L102.41,595.95 L103.42,597.90 L104.43,599.89 L105.44,601.91 L106.46,603.91 L107.47,605.81 L108.48,607.70 L109.49,609.59 L110.50,611.45 L111.52,613.27 L112.53,615.00 L113.54,616.61 L114.55,618.09 L115.56,619.40 L116.58,620.61 L117.59,621.73 L118.60,622.77 L119.61,623.74 L120.62,624.66 L121.64,625.52 L122.65,626.35 L123.66,627.13 L124.67,627.86 L125.69,628.54 L126.70,629.16 L127.71,629.72 L128.72,630.24 L129.73,630.72 L130.75,631.17 L131.76,631.60 L132.77,632.01 L133.78,632.40 L134.79,632.80 L135.81,633.18 L136.82,633.53 L137.83,633.85 L138.84,634.12 L139.85,634.35 L140.87,634.55 L141.88,634.73 L142.89,634.90 L143.90,635.05 L144.91,635.19 L145.93,635.31 L146.94,635.43 L147.95,635.55 L148.96,635.66 L149.97,635.76 L150.99,635.86 L152.00,635.95 L153.01,636.04 L154.02,636.12 L155.03,636.20 L156.04,636.27 L157.06,636.34 L158.07,636.41 L159.08,636.47 L160.09,636.53 L161.10,636.59 L162.12,636.65 L163.13,636.71 L164.14,636.77 L165.15,636.82 L166.16,636.87 L167.18,636.92 L168.19,636.97 L169.20,637.01 L170.21,637.05 L171.22,637.09 L172.24,637.12 L173.25,637.15 L174.26,637.17 L175.27,637.19 L176.28,637.21 L177.30,637.23 L178.31,637.25 L179.32,637.27 L180.33,637.28 L181.34,637.30 L182.36,637.32 L183.37,637.33 L184.38,637.35 L185.39,637.36 L186.41,637.38 L187.42,637.39 L188.43,637.40 L189.44,637.42 L190.45,637.43 L191.47,637.44 L192.48,637.45 L193.49,637.46 L194.50,637.47 L195.51,637.47 L196.53,637.48 L197.54,637.49 L198.55,637.49 L199.56,637.49 L200.57,637.50" fill="none" stroke="#3a78c0" stroke-width="0.9"/>
<path d="M33.59,628.88 L34.60,627.03 L35.62,624.61 L36.63,621.70 L37.64,618.33 L38.65,614.68 L39.66,610.82 L40.68,606.60 L41.69,602.12 L42.70,597.43 L43.71,592.29 L44.73,586.95 L45.74,581.83 L46.75,577.15 L47.76,572.67 L48.77,568.35 L49.78,564.12 L50.80,559.90 L51.81,555.90 L52.82,552.36 L53.83,549.24 L54.84,546.41 L55.86,543.91 L56.87,541.76 L57.88,539.80 L58.89,538.11 L59.91,536.79 L60.92,535.74 L61.93,534.86 L62.94,534.05 L63.95,533.26 L64.97,532.54 L65.98,531.85 L66.99,531.12 L68.00,530.31 L69.01,529.70 L70.03,529.55 L71.04,530.06 L72.05,530.92 L73.06,531.97 L74.07,533.41 L75.09,535.00 L76.10,536.70 L77.11,538.55 L78.12,540.53 L79.13,542.60 L80.14,544.79 L81.16,547.17 L82.17,549.69 L83.18,552.27 L84.19,554.82 L85.20,557.31 L86.22,559.82 L87.23,562.33 L88.24,564.80 L89.25,567.20 L90.27,569.52 L91.28,571.80 L92.29,574.03 L93.30,576.20 L94.31,578.31 L95.32,580.34 L96.34,582.31 L97.35,584.25 L98.36,586.20 L99.37,588.19 L100.38,590.20 L101.40,592.22 L102.41,594.25 L103.42,596.28 L104.43,598.35 L105.44,600.46 L106.46,602.53 L107.47,604.51 L108.48,606.48 L109.49,608.45 L110.50,610.39 L111.52,612.28 L112.53,614.08 L113.54,615.76 L114.55,617.29 L115.56,618.66 L116.58,619.92 L117.59,621.08 L118.60,622.17 L119.61,623.18 L120.62,624.13 L121.64,625.03 L122.65,625.89 L123.66,626.71 L124.67,627.47 L125.69,628.17 L126.70,628.82 L127.71,629.40 L128.72,629.94 L129.73,630.44 L130.75,630.91 L131.76,631.36 L132.77,631.78 L133.78,632.20 L134.79,632.61 L135.81,633.00 L136.82,633.37 L137.83,633.70 L138.84,633.98 L139.85,634.22 L140.87,634.43 L141.88,634.62 L142.89,634.79 L143.90,634.95 L144.91,635.09 L145.93,635.22 L146.94,635.35 L147.95,635.47 L148.96,635.58 L149.97,635.69 L150.99,635.79 L152.00,635.89 L153.01,635.98 L154.02,636.07 L155.03,636.15 L156.04,636.22 L157.06,636.30 L158.07,636.36 L159.08,636.43 L160.09,636.49 L161.10,636.56 L162.12,636.62 L163.13,636.68 L164.14,636.74 L165.15,636.79 L166.16,636.85 L167.18,636.90 L168.19,636.95 L169.20,636.99 L170.21,637.03 L171.22,637.07 L172.24,637.10 L173.25,637.13 L174.26,637.16 L175.27,637.18 L176.28,637.20 L177.30,637.22 L178.31,637.24 L179.32,637.26 L180.33,637.28 L181.34,637.29 L182.36,637.31 L183.37,637.33 L184.38,637.34 L185.39,637.36 L186.41,637.37 L187.42,637.39 L188.43,637.40 L189.44,637.41 L190.45,637.42 L191.47,637.44 L192.48,637.45 L193.49,637.46 L194.50,637.46 L195.51,637.47 L196.53,637.48 L197.54,637.49 L198.55,637.49 L199.56,637.49 L200.57,637.50" fill="none" stroke="#5a2aa0" stroke-width="0.9"/>
<path d="M33.59,628.77 L34.60,626.89 L35.62,624.44 L36.63,621.49 L37.64,618.08 L38.65,614.38 L39.66,610.47 L40.68,606.20 L41.69,601.66 L42.70,596.91 L43.71,591.70 L44.73,586.29 L45.74,581.11 L46.75,576.36 L47.76,571.82 L48.77,567.44 L49.78,563.16 L50.80,558.89 L51.81,554.83 L52.82,551.25 L53.83,548.08 L54.84,545.21 L55.86,542.69 L56.87,540.50 L57.88,538.52 L58.89,536.81 L59.91,535.47 L60.92,534.41 L61.93,533.51 L62.94,532.69 L63.95,531.90 L64.97,531.16 L65.98,530.47 L66.99,529.73 L68.00,528.91 L69.01,528.29 L70.03,528.14 L71.04,528.65 L72.05,529.53 L73.06,530.59 L74.07,532.05 L75.09,533.66 L76.10,535.38 L77.11,537.26 L78.12,539.26 L79.13,541.36 L80.14,543.57 L81.16,545.99 L82.17,548.54 L83.18,551.15 L84.19,553.73 L85.20,556.26 L86.22,558.81 L87.23,561.35 L88.24,563.85 L89.25,566.28 L90.27,568.63 L91.28,570.94 L92.29,573.20 L93.30,575.40 L94.31,577.54 L95.32,579.59 L96.34,581.58 L97.35,583.55 L98.36,585.53 L99.37,587.55 L100.38,589.58 L101.40,591.63 L102.41,593.68 L103.42,595.74 L104.43,597.84 L105.44,599.97 L106.46,602.08 L107.47,604.08 L108.48,606.07 L109.49,608.07 L110.50,610.03 L111.52,611.95 L112.53,613.77 L113.54,615.47 L114.55,617.03 L115.56,618.41 L116.58,619.69 L117.59,620.87 L118.60,621.97 L119.61,622.99 L120.62,623.96 L121.64,624.87 L122.65,625.74 L123.66,626.56 L124.67,627.34 L125.69,628.05 L126.70,628.71 L127.71,629.30 L128.72,629.84 L129.73,630.35 L130.75,630.83 L131.76,631.28 L132.77,631.71 L133.78,632.13 L134.79,632.54 L135.81,632.94 L136.82,633.31 L137.83,633.65 L138.84,633.94 L139.85,634.18 L140.87,634.39 L141.88,634.58 L142.89,634.76 L143.90,634.92 L144.91,635.06 L145.93,635.19 L146.94,635.32 L147.95,635.44 L148.96,635.55 L149.97,635.66 L150.99,635.77 L152.00,635.87 L153.01,635.96 L154.02,636.05 L155.03,636.13 L156.04,636.21 L157.06,636.28 L158.07,636.35 L159.08,636.41 L160.09,636.48 L161.10,636.55 L162.12,636.61 L163.13,636.67 L164.14,636.73 L165.15,636.78 L166.16,636.84 L167.18,636.89 L168.19,636.94 L169.20,636.98 L170.21,637.03 L171.22,637.06 L172.24,637.10 L173.25,637.13 L174.26,637.16 L175.27,637.18 L176.28,637.20 L177.30,637.22 L178.31,637.24 L179.32,637.25 L180.33,637.27 L181.34,637.29 L182.36,637.31 L183.37,637.32 L184.38,637.34 L185.39,637.36 L186.41,637.37 L187.42,637.39 L188.43,637.40 L189.44,637.41 L190.45,637.42 L191.47,637.44 L192.48,637.45 L193.49,637.46 L194.50,637.46 L195.51,637.47 L196.53,637.48 L197.54,637.49 L198.55,637.49 L199.56,637.49 L200.57,637.50" fill="none" stroke="#c8bfa0" stroke-width="0.9"/>
<path d="M33.59,628.72 L34.60,626.84 L35.62,624.37 L36.63,621.41 L37.64,617.98 L38.65,614.26 L39.66,610.33 L40.68,606.04 L41.69,601.47 L42.70,596.70 L43.71,591.47 L44.73,586.02 L45.74,580.81 L46.75,576.04 L47.76,571.48 L48.77,567.08 L49.78,562.78 L50.80,558.48 L51.81,554.40 L52.82,550.80 L53.83,547.62 L54.84,544.74 L55.86,542.20 L56.87,540.00 L57.88,538.01 L58.89,536.29 L59.91,534.94 L60.92,533.88 L61.93,532.97 L62.94,532.15 L63.95,531.35 L64.97,530.61 L65.98,529.92 L66.99,529.17 L68.00,528.35 L69.01,527.72 L70.03,527.57 L71.04,528.09 L72.05,528.97 L73.06,530.03 L74.07,531.51 L75.09,533.12 L76.10,534.85 L77.11,536.74 L78.12,538.75 L79.13,540.86 L80.14,543.08 L81.16,545.51 L82.17,548.08 L83.18,550.71 L84.19,553.30 L85.20,555.84 L86.22,558.40 L87.23,560.95 L88.24,563.47 L89.25,565.91 L90.27,568.28 L91.28,570.60 L92.29,572.86 L93.30,575.08 L94.31,577.23 L95.32,579.29 L96.34,581.30 L97.35,583.27 L98.36,585.26 L99.37,587.29 L100.38,589.33 L101.40,591.39 L102.41,593.45 L103.42,595.53 L104.43,597.63 L105.44,599.78 L106.46,601.89 L107.47,603.91 L108.48,605.91 L109.49,607.91 L110.50,609.89 L111.52,611.81 L112.53,613.65 L113.54,615.36 L114.55,616.92 L115.56,618.32 L116.58,619.59 L117.59,620.78 L118.60,621.89 L119.61,622.92 L120.62,623.89 L121.64,624.80 L122.65,625.68 L123.66,626.51 L124.67,627.28 L125.69,628.00 L126.70,628.66 L127.71,629.25 L128.72,629.80 L129.73,630.31 L130.75,630.79 L131.76,631.24 L132.77,631.68 L133.78,632.10 L134.79,632.52 L135.81,632.92 L136.82,633.29 L137.83,633.63 L138.84,633.92 L139.85,634.16 L140.87,634.37 L141.88,634.57 L142.89,634.74 L143.90,634.90 L144.91,635.05 L145.93,635.18 L146.94,635.31 L147.95,635.43 L148.96,635.54 L149.97,635.65 L150.99,635.76 L152.00,635.86 L153.01,635.95 L154.02,636.04 L155.03,636.12 L156.04,636.20 L157.06,636.27 L158.07,636.34 L159.08,636.41 L160.09,636.48 L161.10,636.54 L162.12,636.60 L163.13,636.66 L164.14,636.72 L165.15,636.78 L166.16,636.84 L167.18,636.89 L168.19,636.94 L169.20,636.98 L170.21,637.02 L171.22,637.06 L172.24,637.10 L173.25,637.13 L174.26,637.15 L175.27,637.18 L176.28,637.20 L177.30,637.21 L178.31,637.23 L179.32,637.25 L180.33,637.27 L181.34,637.29 L182.36,637.31 L183.37,637.32 L184.38,637.34 L185.39,637.36 L186.41,637.37 L187.42,637.38 L188.43,637.40 L189.44,637.41 L190.45,637.42 L191.47,637.43 L192.48,637.45 L193.49,637.46 L194.50,637.46 L195.51,637.47 L196.53,637.48 L197.54,637.48 L198.55,637.49 L199.56,637.49 L200.57,637.50" fill="none" stroke="#5c5040" stroke-width="0.9"/>
<line x1="164.1" y1="529.00" x2="174.9" y2="529.00" stroke="#c0282d" stroke-width="1.8"/>
<text x="179.80" y="531.50" font-size="7.2" text-anchor="start" fill="#222" font-weight="normal" >0 μM</text>
<line x1="164.1" y1="538.71" x2="174.9" y2="538.71" stroke="#f05a28" stroke-width="1.8"/>
<text x="179.80" y="541.21" font-size="7.2" text-anchor="start" fill="#222" font-weight="normal" >1 μM</text>
<line x1="164.1" y1="548.42" x2="174.9" y2="548.42" stroke="#f5a040" stroke-width="1.8"/>
<text x="179.80" y="550.92" font-size="7.2" text-anchor="start" fill="#222" font-weight="normal" >2 μM</text>
<line x1="164.1" y1="558.13" x2="174.9" y2="558.13" stroke="#d4e436" stroke-width="1.8"/>
<text x="179.80" y="560.63" font-size="7.2" text-anchor="start" fill="#222" font-weight="normal" >3 μM</text>
<line x1="164.1" y1="567.84" x2="174.9" y2="567.84" stroke="#5dc850" stroke-width="1.8"/>
<text x="179.80" y="570.34" font-size="7.2" text-anchor="start" fill="#222" font-weight="normal" >4 μM</text>
<line x1="164.1" y1="577.55" x2="174.9" y2="577.55" stroke="#1d6b32" stroke-width="1.8"/>
<text x="179.80" y="580.05" font-size="7.2" text-anchor="start" fill="#222" font-weight="normal" >5 μM</text>
<line x1="164.1" y1="587.26" x2="174.9" y2="587.26" stroke="#8cc8ef" stroke-width="1.8"/>
<text x="179.80" y="589.76" font-size="7.2" text-anchor="start" fill="#222" font-weight="normal" >6 μM</text>
<line x1="164.1" y1="596.97" x2="174.9" y2="596.97" stroke="#3a78c0" stroke-width="1.8"/>
<text x="179.80" y="599.47" font-size="7.2" text-anchor="start" fill="#222" font-weight="normal" >7 μM</text>
<line x1="164.1" y1="606.68" x2="174.9" y2="606.68" stroke="#5a2aa0" stroke-width="1.8"/>
<text x="179.80" y="609.18" font-size="7.2" text-anchor="start" fill="#222" font-weight="normal" >8 μM</text>
<line x1="164.1" y1="616.39" x2="174.9" y2="616.39" stroke="#c8bfa0" stroke-width="1.8"/>
<text x="179.80" y="618.89" font-size="7.2" text-anchor="start" fill="#222" font-weight="normal" >9 μM</text>
<line x1="164.1" y1="626.10" x2="174.9" y2="626.10" stroke="#5c5040" stroke-width="1.8"/>
<text x="179.80" y="628.60" font-size="7.2" text-anchor="start" fill="#222" font-weight="normal" >10 μM</text>
<text transform="translate(238.80 508.10) scale(0.9 1)" font-size="24" fill="#000">G</text>
<line x1="259.3" y1="521.51" x2="259.3" y2="638.00" stroke="#222" stroke-width="1"/>
<line x1="258.8" y1="637.70" x2="432" y2="637.70" stroke="#222" stroke-width="1"/>
<line x1="254.5" y1="637.50" x2="259.3" y2="637.50" stroke="#222" stroke-width="0.9"/>
<text x="251.80" y="640.00" font-size="7.2" text-anchor="end" fill="#222" font-weight="normal" >0</text>
<line x1="256.3" y1="628.07" x2="259.3" y2="628.07" stroke="#222" stroke-width="0.9"/>
<line x1="254.5" y1="618.64" x2="259.3" y2="618.64" stroke="#222" stroke-width="0.9"/>
<text x="251.80" y="621.14" font-size="7.2" text-anchor="end" fill="#222" font-weight="normal" >2</text>
<line x1="256.3" y1="609.21" x2="259.3" y2="609.21" stroke="#222" stroke-width="0.9"/>
<line x1="254.5" y1="599.78" x2="259.3" y2="599.78" stroke="#222" stroke-width="0.9"/>
<text x="251.80" y="602.28" font-size="7.2" text-anchor="end" fill="#222" font-weight="normal" >4</text>
<line x1="256.3" y1="590.35" x2="259.3" y2="590.35" stroke="#222" stroke-width="0.9"/>
<line x1="254.5" y1="580.92" x2="259.3" y2="580.92" stroke="#222" stroke-width="0.9"/>
<text x="251.80" y="583.42" font-size="7.2" text-anchor="end" fill="#222" font-weight="normal" >6</text>
<line x1="256.3" y1="571.49" x2="259.3" y2="571.49" stroke="#222" stroke-width="0.9"/>
<line x1="254.5" y1="562.06" x2="259.3" y2="562.06" stroke="#222" stroke-width="0.9"/>
<text x="251.80" y="564.56" font-size="7.2" text-anchor="end" fill="#222" font-weight="normal" >8</text>
<line x1="256.3" y1="552.63" x2="259.3" y2="552.63" stroke="#222" stroke-width="0.9"/>
<line x1="254.5" y1="543.20" x2="259.3" y2="543.20" stroke="#222" stroke-width="0.9"/>
<text x="251.80" y="545.70" font-size="7.2" text-anchor="end" fill="#222" font-weight="normal" >10</text>
<line x1="256.3" y1="533.77" x2="259.3" y2="533.77" stroke="#222" stroke-width="0.9"/>
<line x1="254.5" y1="524.34" x2="259.3" y2="524.34" stroke="#222" stroke-width="0.9"/>
<text x="251.80" y="526.84" font-size="7.2" text-anchor="end" fill="#222" font-weight="normal" >12</text>
<line x1="259.20" y1="637.50" x2="259.20" y2="640.50" stroke="#222" stroke-width="0.9"/>
<text x="259.20" y="650.20" font-size="7.2" text-anchor="middle" fill="#222" font-weight="normal" >0</text>
<line x1="274.55" y1="637.50" x2="274.55" y2="639.80" stroke="#222" stroke-width="0.9"/>
<line x1="289.90" y1="637.50" x2="289.90" y2="640.50" stroke="#222" stroke-width="0.9"/>
<text x="289.90" y="650.20" font-size="7.2" text-anchor="middle" fill="#222" font-weight="normal" >2</text>
<line x1="305.25" y1="637.50" x2="305.25" y2="639.80" stroke="#222" stroke-width="0.9"/>
<line x1="320.60" y1="637.50" x2="320.60" y2="640.50" stroke="#222" stroke-width="0.9"/>
<text x="320.60" y="650.20" font-size="7.2" text-anchor="middle" fill="#222" font-weight="normal" >4</text>
<line x1="335.95" y1="637.50" x2="335.95" y2="639.80" stroke="#222" stroke-width="0.9"/>
<line x1="351.30" y1="637.50" x2="351.30" y2="640.50" stroke="#222" stroke-width="0.9"/>
<text x="351.30" y="650.20" font-size="7.2" text-anchor="middle" fill="#222" font-weight="normal" >6</text>
<line x1="366.65" y1="637.50" x2="366.65" y2="639.80" stroke="#222" stroke-width="0.9"/>
<line x1="382.00" y1="637.50" x2="382.00" y2="640.50" stroke="#222" stroke-width="0.9"/>
<text x="382.00" y="650.20" font-size="7.2" text-anchor="middle" fill="#222" font-weight="normal" >8</text>
<line x1="397.35" y1="637.50" x2="397.35" y2="639.80" stroke="#222" stroke-width="0.9"/>
<line x1="412.70" y1="637.50" x2="412.70" y2="640.50" stroke="#222" stroke-width="0.9"/>
<text x="412.70" y="650.20" font-size="7.2" text-anchor="middle" fill="#222" font-weight="normal" >10</text>
<line x1="428.05" y1="637.50" x2="428.05" y2="639.80" stroke="#222" stroke-width="0.9"/>
<text x="359.50" y="661.00" font-size="8.4" text-anchor="middle" fill="#222" font-weight="normal" >dsDNA [μM]</text>
<text transform="translate(239.1 581) rotate(-90)" font-size="8.7" text-anchor="middle" fill="#222">photoluminescence (x 10<tspan font-size="5.5" dy="-3">6</tspan><tspan dy="3">)</tspan></text>
<path d="M259.20,637.50 L259.97,637.49 L260.74,637.46 L261.50,637.41 L262.27,637.35 L263.04,637.27 L263.81,637.17 L264.57,637.06 L265.34,636.94 L266.11,636.81 L266.88,636.67 L267.64,636.52 L268.41,636.37 L269.18,636.17 L269.94,635.88 L270.71,635.53 L271.48,635.11 L272.25,634.63 L273.01,634.10 L273.78,633.54 L274.55,632.95 L275.32,632.33 L276.08,631.70 L276.85,631.06 L277.62,630.43 L278.39,629.77 L279.15,629.07 L279.92,628.33 L280.69,627.54 L281.46,626.72 L282.22,625.86 L282.99,624.97 L283.76,624.05 L284.53,623.11 L285.29,622.14 L286.06,621.14 L286.83,620.13 L287.60,619.11 L288.37,618.07 L289.13,617.03 L289.90,615.98 L290.67,614.92 L291.44,613.86 L292.20,612.81 L292.97,611.76 L293.74,610.72 L294.50,609.69 L295.27,608.67 L296.04,607.66 L296.81,606.64 L297.57,605.59 L298.34,604.53 L299.11,603.46 L299.88,602.37 L300.64,601.27 L301.41,600.17 L302.18,599.06 L302.95,597.95 L303.71,596.83 L304.48,595.72 L305.25,594.61 L306.02,593.51 L306.78,592.42 L307.55,591.33 L308.32,590.26 L309.09,589.21 L309.85,588.17 L310.62,587.15 L311.39,586.15 L312.16,585.17 L312.93,584.22 L313.69,583.29 L314.46,582.37 L315.23,581.47 L316.00,580.58 L316.76,579.70 L317.53,578.83 L318.30,577.97 L319.06,577.12 L319.83,576.28 L320.60,575.44 L321.37,574.62 L322.13,573.80 L322.90,572.98 L323.67,572.17 L324.44,571.37 L325.20,570.57 L325.97,569.78 L326.74,568.98 L327.51,568.19 L328.27,567.41 L329.04,566.62 L329.81,565.83 L330.58,565.04 L331.34,564.24 L332.11,563.45 L332.88,562.65 L333.65,561.85 L334.41,561.06 L335.18,560.27 L335.95,559.49 L336.72,558.71 L337.49,557.95 L338.25,557.19 L339.02,556.45 L339.79,555.72 L340.55,555.00 L341.32,554.30 L342.09,553.62 L342.86,552.97 L343.62,552.33 L344.39,551.71 L345.16,551.12 L345.93,550.54 L346.69,549.98 L347.46,549.42 L348.23,548.89 L349.00,548.36 L349.76,547.84 L350.53,547.33 L351.30,546.83 L352.07,546.34 L352.83,545.86 L353.60,545.38 L354.37,544.91 L355.14,544.44 L355.90,543.98 L356.67,543.52 L357.44,543.06 L358.21,542.61 L358.97,542.15 L359.74,541.69 L360.51,541.23 L361.28,540.77 L362.04,540.30 L362.81,539.84 L363.58,539.37 L364.35,538.91 L365.12,538.45 L365.88,538.00 L366.65,537.55 L367.42,537.11 L368.18,536.68 L368.95,536.27 L369.72,535.86 L370.49,535.47 L371.25,535.10 L372.02,534.74 L372.79,534.40 L373.56,534.08 L374.32,533.78 L375.09,533.48 L375.86,533.19 L376.63,532.91 L377.39,532.63 L378.16,532.35 L378.93,532.08 L379.70,531.82 L380.46,531.57 L381.23,531.33 L382.00,531.10 L382.77,530.88 L383.53,530.67 L384.30,530.48 L385.07,530.30 L385.84,530.13 L386.61,529.97 L387.37,529.84 L388.14,529.71 L388.91,529.59 L389.67,529.48 L390.44,529.37 L391.21,529.27 L391.98,529.17 L392.75,529.08 L393.51,528.99 L394.28,528.91 L395.05,528.82 L395.81,528.75 L396.58,528.67 L397.35,528.60 L398.12,528.53 L398.88,528.46 L399.65,528.39 L400.42,528.33 L401.19,528.26 L401.95,528.20 L402.72,528.13 L403.49,528.07 L404.26,528.01 L405.02,527.95 L405.79,527.90 L406.56,527.84 L407.33,527.79 L408.09,527.74 L408.86,527.69 L409.63,527.64 L410.40,527.60 L411.16,527.55 L411.93,527.51 L412.70,527.47" fill="none" stroke="#333" stroke-width="0.9"/>
<circle cx="259.20" cy="637.50" r="2.7" fill="#c0282d" stroke="#333" stroke-width="0.6"/>
<circle cx="277.62" cy="630.43" r="2.7" fill="#f05a28" stroke="#333" stroke-width="0.6"/>
<circle cx="295.58" cy="608.27" r="2.7" fill="#f5a040" stroke="#333" stroke-width="0.6"/>
<circle cx="312.93" cy="584.22" r="2.7" fill="#d4e436" stroke="#333" stroke-width="0.6"/>
<circle cx="329.35" cy="566.30" r="2.7" fill="#5dc850" stroke="#333" stroke-width="0.6"/>
<circle cx="344.55" cy="551.59" r="2.7" fill="#1d6b32" stroke="#333" stroke-width="0.6"/>
<circle cx="359.59" cy="541.79" r="2.7" fill="#8cc8ef" stroke="#333" stroke-width="0.6"/>
<circle cx="373.86" cy="533.96" r="2.7" fill="#3a78c0" stroke="#333" stroke-width="0.6"/>
<circle cx="387.53" cy="529.81" r="2.7" fill="#5a2aa0" stroke="#333" stroke-width="0.6"/>
<circle cx="400.73" cy="528.30" r="2.7" fill="#c8bfa0" stroke="#333" stroke-width="0.6"/>
<circle cx="413.16" cy="527.45" r="2.7" fill="#5c5040" stroke="#333" stroke-width="0.6"/>
</svg>
</body></html>
